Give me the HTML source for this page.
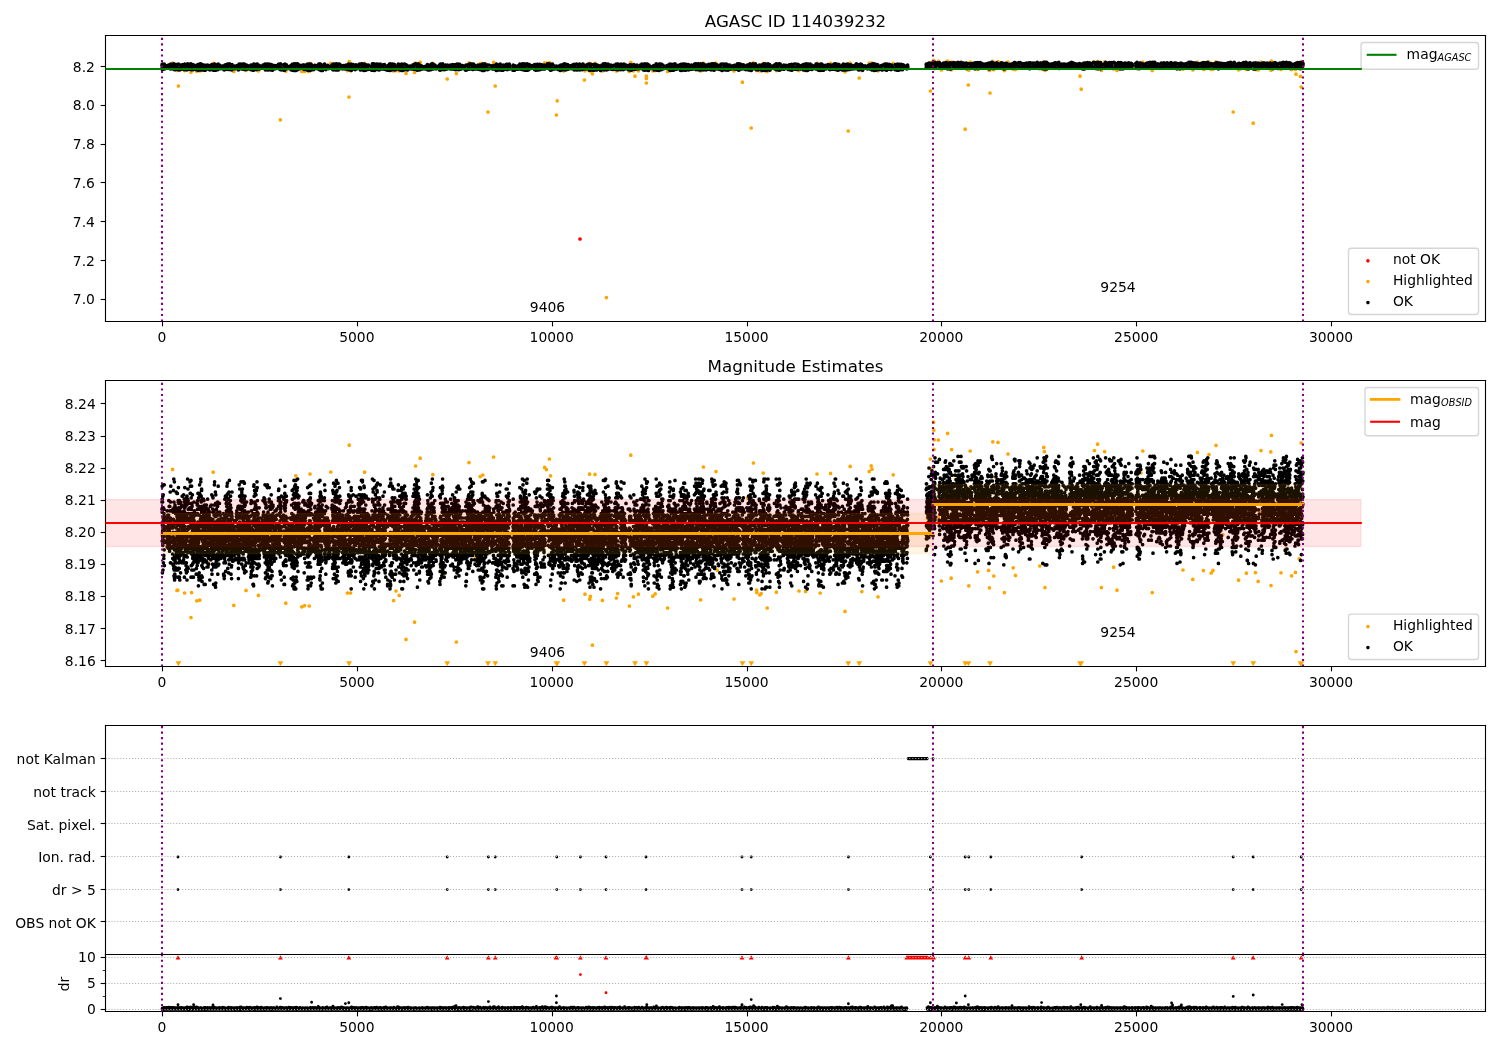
<!DOCTYPE html>
<html><head><meta charset="utf-8"><title>AGASC ID 114039232</title>
<style>html,body{margin:0;padding:0;background:#fff;width:1500px;height:1050px;overflow:hidden}svg{display:block}</style></head><body>
<svg width="1500" height="1050" viewBox="0 0 1080 756">
<defs><clipPath id="c1"><rect x="528" y="178" width="6900" height="1430"/></clipPath><clipPath id="c2"><rect x="528" y="1902" width="6900" height="1430"/></clipPath><clipPath id="c3"><rect x="528" y="3628" width="6900" height="1145"/></clipPath><clipPath id="c4"><rect x="528" y="4772" width="6900" height="285"/></clipPath>
<style type="text/css">*{stroke-linejoin: round; stroke-linecap: butt}</style>
</defs>
<g id="figure_1">
<g id="patch_1">
<path d="M 0 756
L 1080 756
L 1080 0
L 0 0
z
" style="fill: #ffffff"/>
</g>
<g id="axes_1">
<g id="patch_2">
<path d="M 75.96 231.48
L 1069.56 231.48
L 1069.56 25.56
L 75.96 25.56
z
" style="fill: #ffffff"/>
</g>
<g transform="scale(0.1440)"><g clip-path="url(#c1)"><path d="M2900 1195h0" style="stroke:#ff0000;stroke-width:18.5;stroke-linecap:round;fill:none"/></g></g>
<g transform="scale(0.1440)"><g clip-path="url(#c1)"><path d="M863 316h0m22 36h0m4 0h0m3 78h0m31-77h0m32 8h0m3-8h0m26 3h0m15-1h0m67-38h0m103 40h0m61-5h0m62 2h0m110 245h0m27-243h0m50-38h0m30 39h0m14 0h0m23 0h0m4-40h0m104 0h0m83 36h0m8 132h0m1-177h0m7 45h0m70-36h0m145 38h0m12-2h0m16 1h0m34 13h0m43-5h0m5-47h0m23-3h0m63 5h0m52 30h0m20 48h0m46-27h0m63-54h0m56 4h0m13 0h0m26 242h0m28-248h0m8 118h0m247-115h0m9 1h0m15-3h0m6 5h0m29 257h0m4-71h0m32-149h0m104 45h0m3-46h0m23-37h0m1 38h0m3-1h0m10 15h0m13-52h0m37 38h0m20 1133h0m50-1133h0m6-2h0m59 4h0m7-45h0m13 42h0m8 27h0m17-27h0m40 27h0m0 11h0m0 23h0m32-61h0m12-1h0m62 5h0m165-3h0m14-40h0m63 1h0m6 30h0m84 9h0m42 56h0m26-87h0m18 316h0m11-326h0m16 38h0m1 1h0m15 1h0m7-1h0m10-36h0m20 41h0m46-5h0m113 0h0m33 0h0m57-36h0m16 36h0m52-36h0m72 42h0m16 296h0m10-340h0m45 75h0m13-37h0m37-37h0m10-1h0m4 1h0m30 38h0m76-37h0m186-4h0m0 142h0m3-139h0m13-14h0m1 2h0m1 6h0m1-3h0m21 0h0m0 23h0m15 20h0m31-45h0m18 44h0m2-39h0m68 336h0m16-221h0m2-74h0m7-41h0m37 37h0m55-1h0m4 6h0m3 113h0m14-158h0m5 41h0m21-40h0m32 45h0m18-42h0m26 35h0m11 2h0m122-3h0m20-36h0m3 1h0m3 42h0m175 29h0m6 65h0m66-136h0m16-2h0m19 44h0m16-42h0m45 35h0m17 7h0m120-35h0m9-7h0m47 43h0m154-7h0m49 3h0m23-38h0m30 35h0m28-35h0m11 36h0m9-1h0m15-37h0m86 251h0m27-211h0m39-2h0m34 269h0m11-269h0m14 3h0m14-40h0m49 0h0m1 41h0m2-45h0m48 41h0m53 1h0m19-1h0m3 24h0m16-28h0m6 39h0m4-74h0m0 127h0" style="stroke:#ffa500;stroke-width:18.5;stroke-linecap:round;fill:none"/></g></g>
<g transform="scale(0.1440)"><g clip-path="url(#c1)"><path d="M810 326h0m0 2h0m1-7h0m0 16h0m1-5h0m0 15h0m3-27h0m0 26h0m6-26h0m0 11h0m1 14h0m14-17h0m0 11h0m5 1h0m3-15h0m7-2h0m1 21h0m1 0h0m1-23h0m0 12h0m10 11h0m2-15h0m3-10h0m2 18h0m1-17h0m0 28h0m4 0h0m5-25h0m2 23h0m3-9h0m1-14h0m3 25h0m2-27h0m5 27h0m2 1h0m1-7h0m2-16h0m1 21h0m8-23h0m0 11h0m3 9h0m4-21h0m4 15h0m0 10h0m2-27h0m8 26h0m3 2h0m1-23h0m2-7h0m1 11h0m2 11h0m0 5h0m2-10h0m7-16h0m5-1h0m0 29h0m3-7h0m1-12h0m1 19h0m2-25h0m5 25h0m3-22h0m0 11h0m11 11h0m2-14h0m3-8h0m4-3h0m2 28h0m3-11h0m3-20h0m2 29h0m3 0h0m1-30h0m0 9h0m4-6h0m1 20h0m1 8h0m3-25h0m7 0h0m1 26h0m2-16h0m3-8h0m0 24h0m6-24h0m3 18h0m3-20h0m2 20h0m2-16h0m3 10h0m4 10h0m3-22h0m5 9h0m2-13h0m1 25h0m3-4h0m2-20h0m3 27h0m4-31h0m1 0h0m0 13h0m3 18h0m1-28h0m1 28h0m5-15h0m6 12h0m2-27h0m3 23h0m3-18h0m1 11h0m5 6h0m3-13h0m4 12h0m7-13h0m2 19h0m2 1h0m3-24h0m3-1h0m1 23h0m2-8h0m7-19h0m2 26h0m1-6h0m2-9h0m1 16h0m4-28h0m5 10h0m3 19h0m3-7h0m0 8h0m1-20h0m1-6h0m5 21h0m7-13h0m3 12h0m4 0h0m3-14h0m1 7h0m6-9h0m3 22h0m4-29h0m3 17h0m2 6h0m4-23h0m4 24h0m3-16h0m2-8h0m1 25h0m2 1h0m1-26h0m4 0h0m1 27h0m1-17h0m6 17h0m2-14h0m1-7h0m8 3h0m1 15h0m12 4h0m1-22h0m1-1h0m1 9h0m8 17h0m3-15h0m0 15h0m1-30h0m1-1h0m1 28h0m5-25h0m1 11h0m6 14h0m2-28h0m1 1h0m0 25h0m5-17h0m3 15h0m2-17h0m1 18h0m4-15h0m5 10h0m9-15h0m2 15h0m5 2h0m3-22h0m2 29h0m3-14h0m0 13h0m4-27h0m3-1h0m2 30h0m2 0h0m3-13h0m1 11h0m1-27h0m8 28h0m2-26h0m3 14h0m3 14h0m3-24h0m6 17h0m4-16h0m4 15h0m5-15h0m0 12h0m8 0h0m1-18h0m1 0h0m6 9h0m0 16h0m2-28h0m0 29h0m4-9h0m1 10h0m10-25h0m3 27h0m1-3h0m2 3h0m1-16h0m1-14h0m6 24h0m1-21h0m5 17h0m8-8h0m2 10h0m3-13h0m3 6h0m3 13h0m2-22h0m3-5h0m2 29h0m7-32h0m0 33h0m1-13h0m2-7h0m6-13h0m0 33h0m5-2h0m4-31h0m1 11h0m1 7h0m0 10h0m5-23h0m6 17h0m1 1h0m4-14h0m7 13h0m1-15h0m3-1h0m2 0h0m2 22h0m4-17h0m2-4h0m9 16h0m0 7h0m2-28h0m2 31h0m1-27h0m3 26h0m2-30h0m1 14h0m6 16h0m2-31h0m1 14h0m0 16h0m2-24h0m10 22h0m1-18h0m3 13h0m2-16h0m1 0h0m4 2h0m3 13h0m3 0h0m5 2h0m1-19h0m3-5h0m1 14h0m4 15h0m1-30h0m3 32h0m3-27h0m0 28h0m2-15h0m1 7h0m1-19h0m2 27h0m9-17h0m2-15h0m2 21h0m3-4h0m1 11h0m10-21h0m5 16h0m3-10h0m1 8h0m11-14h0m2 10h0m2 9h0m1-24h0m1 12h0m1 15h0m2-29h0m4 28h0m4-28h0m3 30h0m2-16h0m1-15h0m7 17h0m1-16h0m1 30h0m6-29h0m4 22h0m2-18h0m8 5h0m3 14h0m3-16h0m2 15h0m6 1h0m2-17h0m1 17h0m5-18h0m0 18h0m8-10h0m0 13h0m2-27h0m1 28h0m5-15h0m2 5h0m5-17h0m0 31h0m10-29h0m0 10h0m1 12h0m9 3h0m4-24h0m3 14h0m2 5h0m6-18h0m1 6h0m3 12h0m3-22h0m5 29h0m1-10h0m3-21h0m3 9h0m2-9h0m1 21h0m6 12h0m2-31h0m4 13h0m3 17h0m3-27h0m7 20h0m1 3h0m1-13h0m2-9h0m2 21h0m13-16h0m2 8h0m0 13h0m3-32h0m4 24h0m1 7h0m3-31h0m2 33h0m1-22h0m4 19h0m1-14h0m3 11h0m2-26h0m5 0h0m1 26h0m3-12h0m3 16h0m6-30h0m5 13h0m2 12h0m2 0h0m5-21h0m6 9h0m1-10h0m0 23h0m2-5h0m1-12h0m4 19h0m9 3h0m1-13h0m1-10h0m7-7h0m1 21h0m2 10h0m3-33h0m0 32h0m5-19h0m3 16h0m2-27h0m1 12h0m1-11h0m5 0h0m2 27h0m2-25h0m3 8h0m1 16h0m8-12h0m6-16h0m1 25h0m4 2h0m4 3h0m1-19h0m3-9h0m3-1h0m0 17h0m1 14h0m2-30h0m2 30h0m3-30h0m0 15h0m3 13h0m4-29h0m1 26h0m7-23h0m0 1h0m1 10h0m0 13h0m6 1h0m3-3h0m3-15h0m6-1h0m4 0h0m2 15h0m9-21h0m1 12h0m3 10h0m2-24h0m2-2h0m4 5h0m2-6h0m3 29h0m3-10h0m2 13h0m4-32h0m0 17h0m3-15h0m3 4h0m2 24h0m7-18h0m1-2h0m1 16h0m4 0h0m2-12h0m7 0h0m1 10h0m5 2h0m4-15h0m1 15h0m3-9h0m2-13h0m3 27h0m3 0h0m1-23h0m1 17h0m4 5h0m3-25h0m3 12h0m0 12h0m2-28h0m5-1h0m3 2h0m1 8h0m0 16h0m8-20h0m4 14h0m2-8h0m0 12h0m1 1h0m6-11h0m0 8h0m11-17h0m1 16h0m0 10h0m1 1h0m2-30h0m2 28h0m8-17h0m0 15h0m1-28h0m7 19h0m1 10h0m5-1h0m1-22h0m8 9h0m1 10h0m1-18h0m4 16h0m5-14h0m4 6h0m3-9h0m0 20h0m2 0h0m7-1h0m1-21h0m3 16h0m5-15h0m0 22h0m2-22h0m5 13h0m0 11h0m3-25h0m4-2h0m0 26h0m4-10h0m2-16h0m1 1h0m3 26h0m4-26h0m2 6h0m1 18h0m7-3h0m4-15h0m4 15h0m2-11h0m6 8h0m3-12h0m1 23h0m1-25h0m2 24h0m6-25h0m3 21h0m1-22h0m2 13h0m1 9h0m3-25h0m1 24h0m3-26h0m1 20h0m5-19h0m0 23h0m1-20h0m4-3h0m1 27h0m3-27h0m2 13h0m3-7h0m3 18h0m4-15h0m3 5h0m1 11h0m7-20h0m1 21h0m8-20h0m1 9h0m0 13h0m3-23h0m0 23h0m9-28h0m1 32h0m2-11h0m1-21h0m1 10h0m2 22h0m5-28h0m1-5h0m3 23h0m0 6h0m6-11h0m3-12h0m1 23h0m1-23h0m6 0h0m1 19h0m11-15h0m5 15h0m4 0h0m2-16h0m1 16h0m9-12h0m1 16h0m3-28h0m0 32h0m7-28h0m4 18h0m2 8h0m2-20h0m1-7h0m3-3h0m7 18h0m1 13h0m6 0h0m1-25h0m4 12h0m6-5h0m4 13h0m1-24h0m5 0h0m0 26h0m6-10h0m4-18h0m1 5h0m1 3h0m0 13h0m0 4h0m17-11h0m0 12h0m0 5h0m1-26h0m6 19h0m0 7h0m4-22h0m5 3h0m5 14h0m2 0h0m5-18h0m4 16h0m2-23h0m5 13h0m2 12h0m3 1h0m3-28h0m2 29h0m4-14h0m3-15h0m3 32h0m1-14h0m3-15h0m5 29h0m1-31h0m2-1h0m2 32h0m3-20h0m1 18h0m1-7h0m3-19h0m3 21h0m5-16h0m6 12h0m2-12h0m11-5h0m0 11h0m0 14h0m4-25h0m3 28h0m2-5h0m4-24h0m2 0h0m2 11h0m1 17h0m8-28h0m1 26h0m2-8h0m7-10h0m1-6h0m1 21h0m5 0h0m6-20h0m1 20h0m2-9h0m13-17h0m1 8h0m3 15h0m1-23h0m1 13h0m1 12h0m4-23h0m4 30h0m4-15h0m4 12h0m1-27h0m2 25h0m2-21h0m6 20h0m1-3h0m5-10h0m0 11h0m5-12h0m1 12h0m7 4h0m1-7h0m4-10h0m4-2h0m1 24h0m3-26h0m4 24h0m1-9h0m4-17h0m2-1h0m0 25h0m4-12h0m2-17h0m5 31h0m1-29h0m3 1h0m5 25h0m1-10h0m2-14h0m2 23h0m2-1h0m8-16h0m1 0h0m4 14h0m1 0h0m4-16h0m2-1h0m1 17h0m7-21h0m1 1h0m0 26h0m1-19h0m8 9h0m2-18h0m2 29h0m5-27h0m3 7h0m0 18h0m4-3h0m2-24h0m1 28h0m5-15h0m1 13h0m6 1h0m3-27h0m1-1h0m3 16h0m4 8h0m4-17h0m1 18h0m6-15h0m4-7h0m4 22h0m1-24h0m3 29h0m3-29h0m2 30h0m1-20h0m4-9h0m2 18h0m2-17h0m1 27h0m4 1h0m2-28h0m4 28h0m3-16h0m2-13h0m5 1h0m3 27h0m1-19h0m6-4h0m2 19h0m6-16h0m1 13h0m4 9h0m4-3h0m2-23h0m0 10h0m8-17h0m5 30h0m1-12h0m2-18h0m0 12h0m3-12h0m3 30h0m4-14h0m2 13h0m3-27h0m3 9h0m3-6h0m1 20h0m8-18h0m3 20h0m1-10h0m5 11h0m3-19h0m7-2h0m0 20h0m7-26h0m2 14h0m2 14h0m2-27h0m2 27h0m2-27h0m0 19h0m3-10h0m0 17h0m9 1h0m3-28h0m1 10h0m1 4h0m8 14h0m4-28h0m4 24h0m1-12h0m3 11h0m2-17h0m10 8h0m1-6h0m0 20h0m9-24h0m0 25h0m5-25h0m0 14h0m1 13h0m11-5h0m2-23h0m1 11h0m2 12h0m3-19h0m3 19h0m7-21h0m0 6h0m6 13h0m9-7h0m2-12h0m0 17h0m6-3h0m1-18h0m2 22h0m4-4h0m2-17h0m0 26h0m1-6h0m0 8h0m6 1h0m1-32h0m1 12h0m6 18h0m1-29h0m4 0h0m0 14h0m5 18h0m3-27h0m3 19h0m3-12h0m3 10h0m8-1h0m5-12h0m2-1h0m2 22h0m5-16h0m5-15h0m0 29h0m5 3h0m2-17h0m2 14h0m5 4h0m1-32h0m2 0h0m3 15h0m5-15h0m1 28h0m6-4h0m1-19h0m5 18h0m2-13h0m9 11h0m1-11h0m3 11h0m5-14h0m5-2h0m2 23h0m3-28h0m0 14h0m2 18h0m6-30h0m0 12h0m4 17h0m1-2h0m5-27h0m0 29h0m1-13h0m3-10h0m4-9h0m0 28h0m7-1h0m4-10h0m2 6h0m2-15h0m9-2h0m3-2h0m0 28h0m3-14h0m1-15h0m1 30h0m7-2h0m1-29h0m4-1h0m1 14h0m3-14h0m1 31h0m4 0h0m1-12h0m2-17h0m0 28h0m7-16h0m3-11h0m3 26h0m3-18h0m3-4h0m7 11h0m1-13h0m0 21h0m9-2h0m2-7h0m3-14h0m1-2h0m5-2h0m1 11h0m0 12h0m1 6h0m2-27h0m7 0h0m1 27h0m3-29h0m0 18h0m4 13h0m4 0h0m1-17h0m2-14h0m5 29h0m3-12h0m1-17h0m3 30h0m4-27h0m0 26h0m2-24h0m1 9h0m1 15h0m7 1h0m2-12h0m1-11h0m9 20h0m1-24h0m3 10h0m1 14h0m2-24h0m1 7h0m2 12h0m2 8h0m3-1h0m1-29h0m4 0h0m1 19h0m3-8h0m3 21h0m1-32h0m5 1h0m4 18h0m2-15h0m0 20h0m9 1h0m1-16h0m7 19h0m1-21h0m0 11h0m2-5h0m4-11h0m4 31h0m3-3h0m2-29h0m4 19h0m1-19h0m1 9h0m5 20h0m4-29h0m4 2h0m0 28h0m1-10h0m2-6h0m2 17h0m5-26h0m0 23h0m5-22h0m1 20h0m1-12h0m6 10h0m7-15h0m7 16h0m1-18h0m1 5h0m4 12h0m2-19h0m6 2h0m0 19h0m2-27h0m0 1h0m0 20h0m6-21h0m1 32h0m5-31h0m0 14h0m3-14h0m0 25h0m8-1h0m2-19h0m1 18h0m4-19h0m2 10h0m1 10h0m3 1h0m3-6h0m3 9h0m5-21h0m2 20h0m2-4h0m5-19h0m1 26h0m4-13h0m0 13h0m2-31h0m6 10h0m0 23h0m4-4h0m1-5h0m2-9h0m1-15h0m12 14h0m1-14h0m1 26h0m3-18h0m1 21h0m8 1h0m1-17h0m6-7h0m4 20h0m4-8h0m2-11h0m3 26h0m5-29h0m5-4h0m0 18h0m1-3h0m4-9h0m0 27h0m1-33h0m7 32h0m4-11h0m3-21h0m0 12h0m3 11h0m5-19h0m1 28h0m1-1h0m3-19h0m8 0h0m0 10h0m8-4h0m2 6h0m1-17h0m9-7h0m1 29h0m3-18h0m1 9h0m1-19h0m4 0h0m1 7h0m1 23h0m4-31h0m0 32h0m4-31h0m1 28h0m2-15h0m0 11h0m1-3h0m11-11h0m2 16h0m1-21h0m1 21h0m6-5h0m4-14h0m2 1h0m0 13h0m9 6h0m1-19h0m1 16h0m3-20h0m4 0h0m3 5h0m0 21h0m5-28h0m1 1h0m0 28h0m1-15h0m6-13h0m2 22h0m5-25h0m0 18h0m4-18h0m0 26h0m10 1h0m1-17h0m1-8h0m0 22h0m5-19h0m6 14h0m3 6h0m3-17h0m4 7h0m6-12h0m2 27h0m1-22h0m1 12h0m3-18h0m5 29h0m1-10h0m2-22h0m1 8h0m4-7h0m0 32h0m3-1h0m2-19h0m4-12h0m4 26h0m2-26h0m4 17h0m3-11h0m1 21h0m4-18h0m4 1h0m0 12h0m12 2h0m1-23h0m3 13h0m0 11h0m4-25h0m3 2h0m1 27h0m3 2h0m3-1h0m3-14h0m1-14h0m0 19h0m3 9h0m1-29h0m2 30h0m2-30h0m0 30h0m1-22h0m1-6h0m6 28h0m1-13h0m4-10h0m2 16h0m5-17h0m1 17h0m3-1h0m1-4h0m6-16h0m2 20h0m4-18h0m1 21h0m2 2h0m4-23h0m1 22h0m1-15h0m11-8h0m1 22h0m2-12h0m1-14h0m6-1h0m2 0h0m1 29h0m1-11h0m2 10h0m4-20h0m4-5h0m0 29h0m3-17h0m2-11h0m1 25h0m4-2h0m8-14h0m4 18h0m2-26h0m1 11h0m2-15h0m2 30h0m4 0h0m3-13h0m1-14h0m3 19h0m0 7h0m6-29h0m4 28h0m2-26h0m0 9h0m5 16h0m6-10h0m1-13h0m3 1h0m3 20h0m2-16h0m7 14h0m3-15h0m2 15h0m2-16h0m5 16h0m1-24h0m0 21h0m7-11h0m4 20h0m3-26h0m0 26h0m4-8h0m4-21h0m3 2h0m4 8h0m2-2h0m0 23h0m2-13h0m4 5h0m6-14h0m0 12h0m8-6h0m4 9h0m4-16h0m2 7h0m5-11h0m0 20h0m8-21h0m3 18h0m1-10h0m0 19h0m2-31h0m3 0h0m5 0h0m2 10h0m0 23h0m4-15h0m2-15h0m2 29h0m7-28h0m1 24h0m1-17h0m1-4h0m4 22h0m4-11h0m9-9h0m2 21h0m2-5h0m1 5h0m1-23h0m8 21h0m3-27h0m3 17h0m2-17h0m4 4h0m0 27h0m1-31h0m2 0h0m5 19h0m3 7h0m2-24h0m2 9h0m1-8h0m3 23h0m3 2h0m4-22h0m2 7h0m2 10h0m8-3h0m4 8h0m2-25h0m1 19h0m8 9h0m1-14h0m1-16h0m1 20h0m5 10h0m1-1h0m2-28h0m0 6h0m9-6h0m1 16h0m2 10h0m2-24h0m2 24h0m3-24h0m4 17h0m2-12h0m11 0h0m1 15h0m3-1h0m1-18h0m0 5h0m1 3h0m0 4h0m92-15h0m0 18h0m1-20h0m0 13h0m0 4h0m0 3h0m1-20h0m5 19h0m5-17h0m1 14h0m1-21h0m7 20h0m6-7h0m2-12h0m1 19h0m4 1h0m2-9h0m1-12h0m5 27h0m2-30h0m2 13h0m1 14h0m9-14h0m1-11h0m8 17h0m1-18h0m1 15h0m0 7h0m14-16h0m0 14h0m5-8h0m1-9h0m1 23h0m7-25h0m2-1h0m1 18h0m1 9h0m2-25h0m4 8h0m2 21h0m1-29h0m8 17h0m2-18h0m2 0h0m0 31h0m2 0h0m2-1h0m4-21h0m1-8h0m6 16h0m2 8h0m1-26h0m3 26h0m2-13h0m4-10h0m0 19h0m8-12h0m2 12h0m2-23h0m3 24h0m4-22h0m3 8h0m1 18h0m4-28h0m1 11h0m0 17h0m5-25h0m6 15h0m1-15h0m1 21h0m6 5h0m3-15h0m3-11h0m1 28h0m3-14h0m5-11h0m0 18h0m7-1h0m1 1h0m3-17h0m0 17h0m6-1h0m3-17h0m1 0h0m1 16h0m10-19h0m0 13h0m3 16h0m3-30h0m4 0h0m2 17h0m2-17h0m4-1h0m2 30h0m1-17h0m1-12h0m7-1h0m3 21h0m3-16h0m4 0h0m1 14h0m9-10h0m0 10h0m6-11h0m3 19h0m3 0h0m1-21h0m1 12h0m4-13h0m5-2h0m1 28h0m2-28h0m3 10h0m1-10h0m4 26h0m3-30h0m4 1h0m0 6h0m3 14h0m3-18h0m0 27h0m1-14h0m14-14h0m0 5h0m0 15h0m8-15h0m1 14h0m13-8h0m1-11h0m0 25h0m6-24h0m6 17h0m1 13h0m2-27h0m4 12h0m1 12h0m4-25h0m1 25h0m3-24h0m3 14h0m2 7h0m5-2h0m5-1h0m1-14h0m2 0h0m7 13h0m5-17h0m1 22h0m3-12h0m4-15h0m3 0h0m4 2h0m1 22h0m1-15h0m12 8h0m0 11h0m1-28h0m5 1h0m2-1h0m2 27h0m5-22h0m2 11h0m2 9h0m4-20h0m2 21h0m2-16h0m3-5h0m7 17h0m3-19h0m4 14h0m0 6h0m5 3h0m3-25h0m2 14h0m0 15h0m3-29h0m0 29h0m5-28h0m1 24h0m6 1h0m3-25h0m0 11h0m6-11h0m4 3h0m1 18h0m5 0h0m3-11h0m2-13h0m3 10h0m1 12h0m9-2h0m2-17h0m2 0h0m2 19h0m6-19h0m2 11h0m1 18h0m2-30h0m4-2h0m2 1h0m3 22h0m0 10h0m4-33h0m1 9h0m3-9h0m1 33h0m2-18h0m1-12h0m7 23h0m6-17h0m0 16h0m6-16h0m2 13h0m5-15h0m5 15h0m4-19h0m1 21h0m4-22h0m2 0h0m0 9h0m6 17h0m5-26h0m3 16h0m1-18h0m3 30h0m4-16h0m6 14h0m3-20h0m2 20h0m3-7h0m1-12h0m6 0h0m1 15h0m7-14h0m0 14h0m9-15h0m0 14h0m9-18h0m0 22h0m2-24h0m2 10h0m1-11h0m4-2h0m3 29h0m2-18h0m3-9h0m2 23h0m5-19h0m5 17h0m2-14h0m8-1h0m4 14h0m7-16h0m3 1h0m1 16h0m11-16h0m0 25h0m1-16h0m4 16h0m1-29h0m4 29h0m2-29h0m2 0h0m2 16h0m5 9h0m3-27h0m2 26h0m3-17h0m4 13h0m1-21h0m4 21h0m4 0h0m1-17h0m0 6h0m9 13h0m2-25h0m8 12h0m1-10h0m2 28h0m5-28h0m4 21h0m2-23h0m0 32h0m1-21h0m7 5h0m2-15h0m2 30h0m2-30h0m2 30h0m1-8h0m5-13h0m11 19h0m2-12h0m2-14h0m2-3h0m7 27h0m2-23h0m3 9h0m5 13h0m3-25h0m8 28h0m1-15h0m1-13h0m9 27h0m2-28h0m4 2h0m2 8h0m0 10h0m2 7h0m7-21h0m1 18h0m7-23h0m0 16h0m2 6h0m2-14h0m3-7h0m2 31h0m4-32h0m4 17h0m6 14h0m3-21h0m3-6h0m2 22h0m3-24h0m3 16h0m3-14h0m1 23h0m6-13h0m4 11h0m1-24h0m7 10h0m3 11h0m2-18h0m5 3h0m0 11h0m1-3h0m17-11h0m0 11h0m1-11h0m0 18h0m5-23h0m1 30h0m4-12h0m5 13h0m1-26h0m1 26h0m3-28h0m1 10h0m0 16h0m1-26h0m11 24h0m1-20h0m4 5h0m1 12h0m4-1h0m4-15h0m1 13h0m5 1h0m2-19h0m7-1h0m1 23h0m2-8h0m5-17h0m5 24h0m1-13h0m1 14h0m5-25h0m3 29h0m2-17h0m4-12h0m2 20h0m1-20h0m5 12h0m4 14h0m2 0h0m4-19h0m3 18h0m8-3h0m1 4h0m2-18h0m2 18h0m1-22h0m3 1h0m2 3h0m1 19h0m7-25h0m0 14h0m3 7h0m6-18h0m0 22h0m5 2h0m2-15h0m1-12h0m2 25h0m9-2h0m1-19h0m4 21h0m1-16h0m2-10h0m4 4h0m3 18h0m6-6h0m4-13h0m4 8h0m1 17h0m2-26h0m4 20h0m2 9h0m3-26h0m2 23h0m3-22h0m6 11h0m1 14h0m1-22h0m3-7h0m1 26h0m6-23h0m2 17h0m5-2h0m3-12h0m2 12h0m6-1h0m2-14h0m3 12h0m4-13h0m6-5h0m1 25h0m6-25h0m1 13h0m1 13h0m4-26h0m8 2h0m0 25h0m2-10h0m1 13h0m4-27h0m6 15h0m1-15h0m5 22h0m3 1h0m2-20h0m0 11h0m4 7h0m7 0h0m1-18h0m7-1h0m4-2h0m1 10h0m0 11h0m3-22h0m4-1h0m3 29h0m2-8h0m4 6h0m1-17h0m3-10h0m5 13h0m1-14h0m2 25h0m2-18h0m2 16h0m11-17h0m0 11h0m10 2h0m1-11h0m4 15h0m4-18h0m2 24h0m4-27h0m4 14h0m1-14h0m5 1h0m1 29h0m3-12h0m1 8h0m2-25h0m3 15h0m7-13h0m0 22h0m4-1h0m4-15h0m4-5h0m3 14h0m5 2h0m3-16h0m10-4h0m0 11h0m0 11h0m8-1h0m2-11h0m2-12h0m5 3h0m3 26h0m1-14h0m1 14h0m1-26h0m3 24h0m4-27h0m8 8h0m0 8h0m0 13h0m4-2h0m4-19h0m2 16h0m4-18h0m1-1h0m3 15h0m1-14h0m6 1h0m0 23h0m5-24h0m1 8h0m8-13h0m1 22h0m4-21h0m2 6h0m4-8h0m0 28h0m1-28h0m3 19h0m3 12h0m4-26h0m3 27h0m4-29h0m1 13h0m3-14h0m0 24h0m13-12h0m3 18h0m1-29h0m6 15h0m3 15h0m1-31h0m0 17h0m1-13h0m2 24h0m10-26h0m2 14h0m1-13h0m1 23h0m1-22h0m11 21h0m2-22h0m1 9h0m1 15h0m1-25h0m7 0h0m2 0h0m0 21h0m2-12h0m2-8h0m7 19h0m3-20h0m4 15h0m2 2h0m1-16h0m4 11h0m1 8h0m4-20h0m2 1h0m3 8h0m4 17h0m6 1h0m2-28h0m0 11h0m6-13h0m2 13h0m3-11h0m0 24h0m9-7h0m1 10h0m4-24h0m6-3h0m1 23h0m6-12h0m3-12h0m2 23h0m4-8h0m2-17h0m9 28h0m3-27h0m0 18h0m1-12h0m1 22h0m1-29h0m3 28h0m3-26h0m5 13h0m1-13h0m1 27h0m4-27h0m1 28h0m2-26h0m1 13h0m7 8h0m3-15h0m3 0h0m9 17h0m2-21h0m3 9h0m1 9h0m1-21h0m6-2h0m1 25h0m4 1h0m1-18h0m1-7h0m6-1h0m2 1h0m0 29h0m2-14h0m2 13h0m5-30h0m0 25h0m1-5h0m2-15h0m0 7h0m0 2h0" style="stroke:#000000;stroke-width:18.5;stroke-linecap:round;fill:none"/></g></g>
<g id="matplotlib.axis_1">
<g id="xtick_1">
<g id="line2d_1">
<defs>
<path id="m1504cfccaf" d="M 0 0
L 0 3.5
" style="stroke: #000000; stroke-width: 0.8"/>
</defs>
<g>
<use href="#m1504cfccaf" x="117.0000" y="231.48" style="stroke: #000000; stroke-width: 0.8"/>
</g>
</g>
<g id="text_1">
<text style="font-size: 10px; font-family: 'DejaVu Sans', 'Liberation Sans', sans-serif; text-anchor: middle" x="116.64" y="246.078438" transform="rotate(-0 116.64 246.078438)">0</text>
</g>
</g>
<g id="xtick_2">
<g id="line2d_2">
<g>
<use href="#m1504cfccaf" x="257.4000" y="231.48" style="stroke: #000000; stroke-width: 0.8"/>
</g>
</g>
<g id="text_2">
<text style="font-size: 10px; font-family: 'DejaVu Sans', 'Liberation Sans', sans-serif; text-anchor: middle" x="256.92" y="246.078438" transform="rotate(-0 256.92 246.078438)">5000</text>
</g>
</g>
<g id="xtick_3">
<g id="line2d_3">
<g>
<use href="#m1504cfccaf" x="397.8000" y="231.48" style="stroke: #000000; stroke-width: 0.8"/>
</g>
</g>
<g id="text_3">
<text style="font-size: 10px; font-family: 'DejaVu Sans', 'Liberation Sans', sans-serif; text-anchor: middle" x="397.2" y="246.078438" transform="rotate(-0 397.2 246.078438)">10000</text>
</g>
</g>
<g id="xtick_4">
<g id="line2d_4">
<g>
<use href="#m1504cfccaf" x="538.2000" y="231.48" style="stroke: #000000; stroke-width: 0.8"/>
</g>
</g>
<g id="text_4">
<text style="font-size: 10px; font-family: 'DejaVu Sans', 'Liberation Sans', sans-serif; text-anchor: middle" x="537.48" y="246.078438" transform="rotate(-0 537.48 246.078438)">15000</text>
</g>
</g>
<g id="xtick_5">
<g id="line2d_5">
<g>
<use href="#m1504cfccaf" x="677.8800" y="231.48" style="stroke: #000000; stroke-width: 0.8"/>
</g>
</g>
<g id="text_5">
<text style="font-size: 10px; font-family: 'DejaVu Sans', 'Liberation Sans', sans-serif; text-anchor: middle" x="677.76" y="246.078438" transform="rotate(-0 677.76 246.078438)">20000</text>
</g>
</g>
<g id="xtick_6">
<g id="line2d_6">
<g>
<use href="#m1504cfccaf" x="818.2800" y="231.48" style="stroke: #000000; stroke-width: 0.8"/>
</g>
</g>
<g id="text_6">
<text style="font-size: 10px; font-family: 'DejaVu Sans', 'Liberation Sans', sans-serif; text-anchor: middle" x="818.04" y="246.078438" transform="rotate(-0 818.04 246.078438)">25000</text>
</g>
</g>
<g id="xtick_7">
<g id="line2d_7">
<g>
<use href="#m1504cfccaf" x="958.6800" y="231.48" style="stroke: #000000; stroke-width: 0.8"/>
</g>
</g>
<g id="text_7">
<text style="font-size: 10px; font-family: 'DejaVu Sans', 'Liberation Sans', sans-serif; text-anchor: middle" x="958.32" y="246.078438" transform="rotate(-0 958.32 246.078438)">30000</text>
</g>
</g>
</g>
<g id="matplotlib.axis_2">
<g id="ytick_1">
<g id="line2d_8">
<defs>
<path id="m5d545ce8f8" d="M 0 0
L -3.5 0
" style="stroke: #000000; stroke-width: 0.8"/>
</defs>
<g>
<use href="#m5d545ce8f8" x="75.96" y="215.6400" style="stroke: #000000; stroke-width: 0.8"/>
</g>
</g>
<g id="text_8">
<text style="font-size: 10px; font-family: 'DejaVu Sans', 'Liberation Sans', sans-serif; text-anchor: end" x="68.348" y="219.173" transform="rotate(-0 68.348 219.173)">7.0</text>
</g>
</g>
<g id="ytick_2">
<g id="line2d_9">
<g>
<use href="#m5d545ce8f8" x="75.96" y="187.5600" style="stroke: #000000; stroke-width: 0.8"/>
</g>
</g>
<g id="text_9">
<text style="font-size: 10px; font-family: 'DejaVu Sans', 'Liberation Sans', sans-serif; text-anchor: end" x="68.348" y="191.213" transform="rotate(-0 68.348 191.213)">7.2</text>
</g>
</g>
<g id="ytick_3">
<g id="line2d_10">
<g>
<use href="#m5d545ce8f8" x="75.96" y="159.4800" style="stroke: #000000; stroke-width: 0.8"/>
</g>
</g>
<g id="text_10">
<text style="font-size: 10px; font-family: 'DejaVu Sans', 'Liberation Sans', sans-serif; text-anchor: end" x="68.348" y="163.253" transform="rotate(-0 68.348 163.253)">7.4</text>
</g>
</g>
<g id="ytick_4">
<g id="line2d_11">
<g>
<use href="#m5d545ce8f8" x="75.96" y="131.4000" style="stroke: #000000; stroke-width: 0.8"/>
</g>
</g>
<g id="text_11">
<text style="font-size: 10px; font-family: 'DejaVu Sans', 'Liberation Sans', sans-serif; text-anchor: end" x="68.348" y="135.293" transform="rotate(-0 68.348 135.293)">7.6</text>
</g>
</g>
<g id="ytick_5">
<g id="line2d_12">
<g>
<use href="#m5d545ce8f8" x="75.96" y="104.0400" style="stroke: #000000; stroke-width: 0.8"/>
</g>
</g>
<g id="text_12">
<text style="font-size: 10px; font-family: 'DejaVu Sans', 'Liberation Sans', sans-serif; text-anchor: end" x="68.348" y="107.333" transform="rotate(-0 68.348 107.333)">7.8</text>
</g>
</g>
<g id="ytick_6">
<g id="line2d_13">
<g>
<use href="#m5d545ce8f8" x="75.96" y="75.9600" style="stroke: #000000; stroke-width: 0.8"/>
</g>
</g>
<g id="text_13">
<text style="font-size: 10px; font-family: 'DejaVu Sans', 'Liberation Sans', sans-serif; text-anchor: end" x="68.348" y="79.373" transform="rotate(-0 68.348 79.373)">8.0</text>
</g>
</g>
<g id="ytick_7">
<g id="line2d_14">
<g>
<use href="#m5d545ce8f8" x="75.96" y="47.8800" style="stroke: #000000; stroke-width: 0.8"/>
</g>
</g>
<g id="text_14">
<text style="font-size: 10px; font-family: 'DejaVu Sans', 'Liberation Sans', sans-serif; text-anchor: end" x="68.348" y="52.039" transform="rotate(-0 68.348 52.039)">8.2</text>
</g>
</g>
</g>
<g id="patch_3">
<path d="M 75.96 231.48
L 75.96 25.56
" style="fill: none; stroke: #000000; stroke-width: 0.8; stroke-linejoin: miter; stroke-linecap: square"/>
</g>
<g id="patch_4">
<path d="M 1069.56 231.48
L 1069.56 25.56
" style="fill: none; stroke: #000000; stroke-width: 0.8; stroke-linejoin: miter; stroke-linecap: square"/>
</g>
<g id="patch_5">
<path d="M 75.96 231.48
L 1069.56 231.48
" style="fill: none; stroke: #000000; stroke-width: 0.8; stroke-linejoin: miter; stroke-linecap: square"/>
</g>
<g id="patch_6">
<path d="M 75.96 25.56
L 1069.56 25.56
" style="fill: none; stroke: #000000; stroke-width: 0.8; stroke-linejoin: miter; stroke-linecap: square"/>
</g>
<g id="text_15">
<text style="font-size: 10px; font-family: 'DejaVu Sans', 'Liberation Sans', sans-serif; text-anchor: middle" x="394.2" y="224.532" transform="rotate(-0 394.2 224.532)">9406</text>
</g>
<g id="text_16">
<text style="font-size: 10px; font-family: 'DejaVu Sans', 'Liberation Sans', sans-serif; text-anchor: middle" x="804.96" y="210.096" transform="rotate(-0 804.96 210.096)">9254</text>
</g>
<g id="text_17">
<text style="font-size: 12px; font-family: 'DejaVu Sans', 'Liberation Sans', sans-serif; text-anchor: middle" x="572.76" y="19.56" transform="rotate(-0 572.76 19.56)">AGASC ID 114039232</text>
</g>
<g id="legend_1">
<g id="patch_7">
<path d="M 981.96 49.858438
L 1062.56 49.858438
Q 1064.56 49.858438 1064.56 47.858438
L 1064.56 32.56
Q 1064.56 30.56 1062.56 30.56
L 981.96 30.56
Q 979.96 30.56 979.96 32.56
L 979.96 47.858438
Q 979.96 49.858438 981.96 49.858438
z
" style="fill: #ffffff; opacity: 0.8; stroke: #cccccc; stroke-linejoin: miter"/>
</g>
<g id="line2d_15">
<path d="M 984.76 39.458438
L 994.76 39.458438
L 1004.76 39.458438
" style="fill: none; stroke: #008000; stroke-width: 1.5; stroke-linecap: square"/>
</g>
<g id="text_18">
<g transform="translate(1012.76 42.958438)">
<text>
<tspan x="0" y="-0.40625" style="font-size: 10px; font-family: 'DejaVu Sans', 'Liberation Sans', sans-serif">m</tspan>
<tspan x="9.741211" y="-0.40625" style="font-size: 10px; font-family: 'DejaVu Sans', 'Liberation Sans', sans-serif">a</tspan>
<tspan x="15.869141" y="-0.40625" style="font-size: 10px; font-family: 'DejaVu Sans', 'Liberation Sans', sans-serif">g</tspan>
<tspan x="22.3125" y="1.234375" style="font-style: oblique; font-size: 7px; font-family: 'DejaVu Sans', 'Liberation Sans', sans-serif">A</tspan>
<tspan x="27.101074" y="1.234375" style="font-style: oblique; font-size: 7px; font-family: 'DejaVu Sans', 'Liberation Sans', sans-serif">G</tspan>
<tspan x="32.525391" y="1.234375" style="font-style: oblique; font-size: 7px; font-family: 'DejaVu Sans', 'Liberation Sans', sans-serif">A</tspan>
<tspan x="37.313965" y="1.234375" style="font-style: oblique; font-size: 7px; font-family: 'DejaVu Sans', 'Liberation Sans', sans-serif">S</tspan>
<tspan x="41.757324" y="1.234375" style="font-style: oblique; font-size: 7px; font-family: 'DejaVu Sans', 'Liberation Sans', sans-serif">C</tspan>
</text>
</g>
</g>
</g>
<g id="legend_2">
<g id="patch_8">
<path d="M 972.911563 226.48
L 1062.56 226.48
Q 1064.56 226.48 1064.56 224.48
L 1064.56 180.725625
Q 1064.56 178.725625 1062.56 178.725625
L 972.911563 178.725625
Q 970.911563 178.725625 970.911563 180.725625
L 970.911563 224.48
Q 970.911563 226.48 972.911563 226.48
z
" style="fill: #ffffff; opacity: 0.8; stroke: #cccccc; stroke-linejoin: miter"/>
</g>
<g id="PathCollection_1">
<defs>
<path id="m39b78552c8" d="M 0 0.74162
C 0.19668 0.74162 0.385331 0.663478 0.524404 0.524404
C 0.663478 0.385331 0.74162 0.19668 0.74162 0
C 0.74162 -0.19668 0.663478 -0.385331 0.524404 -0.524404
C 0.385331 -0.663478 0.19668 -0.74162 0 -0.74162
C -0.19668 -0.74162 -0.385331 -0.663478 -0.524404 -0.524404
C -0.663478 -0.385331 -0.74162 -0.19668 -0.74162 0
C -0.74162 0.19668 -0.663478 0.385331 -0.524404 0.524404
C -0.385331 0.663478 -0.19668 0.74162 0 0.74162
z
" style="stroke: #ff0000"/>
</defs>
<g>
<use href="#m39b78552c8" x="984.911563" y="187.699062" style="fill: #ff0000; stroke: #ff0000"/>
</g>
</g>
<g id="text_19">
<text style="font-size: 10px; font-family: 'DejaVu Sans', 'Liberation Sans', sans-serif; text-anchor: start" x="1002.911563" y="190.324062" transform="rotate(-0 1002.911563 190.324062)">not OK</text>
</g>
<g id="PathCollection_2">
<defs>
<path id="mf4ef88f435" d="M 0 0.74162
C 0.19668 0.74162 0.385331 0.663478 0.524404 0.524404
C 0.663478 0.385331 0.74162 0.19668 0.74162 0
C 0.74162 -0.19668 0.663478 -0.385331 0.524404 -0.524404
C 0.385331 -0.663478 0.19668 -0.74162 0 -0.74162
C -0.19668 -0.74162 -0.385331 -0.663478 -0.524404 -0.524404
C -0.663478 -0.385331 -0.74162 -0.19668 -0.74162 0
C -0.74162 0.19668 -0.663478 0.385331 -0.524404 0.524404
C -0.385331 0.663478 -0.19668 0.74162 0 0.74162
z
" style="stroke: #ffa500"/>
</defs>
<g>
<use href="#mf4ef88f435" x="984.911563" y="202.737188" style="fill: #ffa500; stroke: #ffa500"/>
</g>
</g>
<g id="text_20">
<text style="font-size: 10px; font-family: 'DejaVu Sans', 'Liberation Sans', sans-serif; text-anchor: start" x="1002.911563" y="205.362188" transform="rotate(-0 1002.911563 205.362188)">Highlighted</text>
</g>
<g id="PathCollection_3">
<defs>
<path id="mc9ae42cd01" d="M 0 0.74162
C 0.19668 0.74162 0.385331 0.663478 0.524404 0.524404
C 0.663478 0.385331 0.74162 0.19668 0.74162 0
C 0.74162 -0.19668 0.663478 -0.385331 0.524404 -0.524404
C 0.385331 -0.663478 0.19668 -0.74162 0 -0.74162
C -0.19668 -0.74162 -0.385331 -0.663478 -0.524404 -0.524404
C -0.663478 -0.385331 -0.74162 -0.19668 -0.74162 0
C -0.74162 0.19668 -0.663478 0.385331 -0.524404 0.524404
C -0.385331 0.663478 -0.19668 0.74162 0 0.74162
z
" style="stroke: #000000"/>
</defs>
<g>
<use href="#mc9ae42cd01" x="984.911563" y="217.775312" style="stroke: #000000"/>
</g>
</g>
<g id="text_21">
<text style="font-size: 10px; font-family: 'DejaVu Sans', 'Liberation Sans', sans-serif; text-anchor: start" x="1002.911563" y="220.400312" transform="rotate(-0 1002.911563 220.400312)">OK</text>
</g>
</g>
<g id="line2d_16">
<path d="M 73.1544 49.68
L 979.776 49.68
" clip-path="url(#p38504ecff0)" style="fill: none; stroke: #008000; stroke-width: 1.5; stroke-linecap: square"/>
</g>
<g id="line2d_17">
<path d="M 116.6400 231.48
L 116.6400 25.56
" clip-path="url(#p38504ecff0)" style="fill: none; stroke-dasharray: 1.5,2.475; stroke-dashoffset: 0; stroke: #800080; stroke-width: 1.5"/>
</g>
<g id="line2d_18">
<path d="M 671.7600 231.48
L 671.7600 25.56
" clip-path="url(#p38504ecff0)" style="fill: none; stroke-dasharray: 1.5,2.475; stroke-dashoffset: 0; stroke: #800080; stroke-width: 1.5"/>
</g>
<g id="line2d_19">
<path d="M 938.1600 231.48
L 938.1600 25.56
" clip-path="url(#p38504ecff0)" style="fill: none; stroke-dasharray: 1.5,2.475; stroke-dashoffset: 0; stroke: #800080; stroke-width: 1.5"/>
</g>
</g>
<g id="axes_2">
<g id="patch_9">
<path d="M 75.96 479.88
L 1069.56 479.88
L 1069.56 273.96
L 75.96 273.96
z
" style="fill: #ffffff"/>
</g>
<g transform="scale(0.1440)"><g clip-path="url(#c2)"><path d="M863 2347h0m22 605h0m4-1h0m34 14h0m32 123h0m3-125h0m26 41h0m15-3h0m44-186h0m23-454h0m103 666h0m61-75h0m62 25h0m137 39h0m50-637h0m30 655h0m14-6h0m23 2h0m4-660h0m104-10h0m83 605h0m9-739h0m7 739h0m70-604h0m78 399h0m67 243h0m12-48h0m16 22h0m34 220h0m43-86h0m5-781h0m23-39h0m63 82h0m38 456h0m14 40h0m66 341h0m63-897h0m32 472h0m24-402h0m13-8h0m54-90h0m2 364h0m8 33h0m0 118h0m72-128h0m173-335h0m9 11h0m15-53h0m6 84h0m65 622h0m28-376h0m44 145h0m35 201h0m23-600h0m1 625h0m3-14h0m10 244h0m13-854h0m37 630h0m70-12h0m6-22h0m59 62h0m7-754h0m13 708h0m25-13h0m72 10h0m12-12h0m13-358h0m49 429h0m19-423h0m9 93h0m137 289h0m14-664h0m63 23h0m6 493h0m84 144h0m68-506h0m29-174h0m16 636h0m1 12h0m15 12h0m7-7h0m10-603h0m20 675h0m46-79h0m11-286h0m67-130h0m35 410h0m33 2h0m57-587h0m16 595h0m52-598h0m72 690h0m26-725h0m58 626h0m37-600h0m10-29h0m4 17h0m30 638h0m76-610h0m70 273h0m101-56h0m15-296h0m3 48h0m13-232h0m1 40h0m1 96h0m1-48h0m21 1h0m0 386h0m15 319h0m31-738h0m18 724h0m2-643h0m19 150h0m67 531h0m2-488h0m5-186h0m29 276h0m8 328h0m55-7h0m4 87h0m17-730h0m5 671h0m9-494h0m12-174h0m32 751h0m18-693h0m26 569h0m11 38h0m16-449h0m106 402h0m20-593h0m3 21h0m3 680h0m199-599h0m48-86h0m2 293h0m14-325h0m19 717h0m16-680h0m45 578h0m17 115h0m120-587h0m9-109h0m47 708h0m125-487h0m23-14h0m4 211h0m2 177h0m49 47h0m23-635h0m30 591h0m28-580h0m11 592h0m9-13h0m0 1h0m15-626h0m34 447h0m79 227h0m39-35h0m45-3h0m14 44h0m10-347h0m4-307h0m19 174h0m30-168h0m1 669h0m2-751h0m22 370h0m26 317h0m22-119h0m31 134h0m19-17h0m3 396h0m16-464h0m10-579h0" style="stroke:#ffa500;stroke-width:18.5;stroke-linecap:round;fill:none"/><path d="M878 3306h29l-15 25zM1388 3306h29l-15 25zM1731 3306h29l-15 25zM2222 3306h29l-15 25zM2426 3306h29l-15 25zM2462 3306h29l-15 25zM2772 3306h29l-15 25zM2768 3306h29l-15 25zM2908 3306h29l-15 25zM3018 3306h29l-15 25zM3161 3306h29l-15 25zM3218 3306h29l-15 25zM3218 3306h29l-15 25zM3218 3306h29l-15 25zM3698 3306h29l-15 25zM3742 3306h29l-15 25zM4227 3306h29l-15 25zM4282 3306h29l-15 25zM4638 3306h29l-15 25zM4812 3306h29l-15 25zM4828 3306h29l-15 25zM4936 3306h29l-15 25zM5386 3306h29l-15 25zM5392 3306h29l-15 25zM6152 3306h29l-15 25zM6252 3306h29l-15 25zM6488 3306h29l-15 25zM6492 3306h29l-15 25z" fill="#ffa500"/></g></g>
<g transform="scale(0.1440)"><g clip-path="url(#c2)"><path d="M810 2510h0m0 36h0m1-115h0m0 65h0m0 65h0m0 144h0m1-166h0m0 72h0m0 15h0m0 238h0m1-354h0m0 145h0m0 21h0m0 8h0m1-203h0m0 217h0m0 29h0m1-303h0m0 195h0m0 28h0m0 203h0m1-376h0m0 116h0m0 43h0m0 79h0m1-173h0m0 101h0m0 174h0m1-217h0m0 65h0m1-7h0m0 29h0m0 93h0m0 15h0m1-246h0m0 22h0m0 43h0m1-187h0m0 180h0m0 65h0m0 80h0m1-167h0m0 15h0m0 231h0m1-181h0m0 58h0m1-72h0m0 79h0m11-101h0m1-57h0m0 36h0m0 72h0m0 22h0m0 50h0m1-58h0m0 22h0m0 7h0m1-72h0m0 7h0m0 51h0m1-116h0m0 29h0m0 116h0m1-138h0m0 73h0m1 86h0m1-122h0m1-44h0m1-72h0m0 166h0m2-137h0m1 79h0m0 36h0m1 15h0m0 94h0m1-224h0m0 180h0m1-158h0m0 86h0m0 87h0m1-267h0m0 224h0m0 7h0m1-101h0m0 115h0m0 109h0m1-304h0m0 94h0m0 137h0m0 73h0m1-383h0m0 123h0m0 72h0m9 14h0m0 130h0m1-58h0m0 80h0m0 29h0m1-275h0m0 116h0m1-101h0m0 36h0m0 87h0m0 50h0m1-282h0m0 145h0m0 144h0m0 87h0m1-209h0m0 14h0m0 65h0m1-303h0m0 332h0m0 72h0m0 43h0m1-332h0m0 29h0m0 340h0m1-275h0m0 246h0m1-441h0m0 340h0m0 36h0m0 101h0m1 7h0m0 7h0m1-108h0m0 79h0m1-346h0m0 310h0m0 44h0m1-80h0m0 15h0m1-123h0m0 14h0m0 44h0m1-188h0m0 7h0m0 51h0m1-73h0m1 116h0m0 7h0m0 51h0m0 57h0m1-317h0m0 79h0m0 101h0m0 130h0m1-79h0m0 65h0m0 7h0m1 51h0m0 36h0m1-282h0m0 166h0m1-267h0m0 87h0m0 28h0m0 22h0m1 22h0m1-159h0m0 123h0m1 86h0m0 44h0m1-138h0m0 260h0m0 8h0m1-253h0m0 58h0m0 130h0m0 101h0m1-383h0m0 7h0m0 109h0m0 43h0m0 94h0m1-318h0m0 267h0m0 44h0m1-65h0m0 158h0m1-325h0m0 22h0m0 253h0m0 22h0m1-188h0m0 21h0m0 123h0m1-72h0m0 87h0m0 57h0m1-339h0m0 108h0m0 188h0m0 87h0m1-318h0m1-14h0m0 252h0m0 94h0m1-318h0m0 138h0m0 14h0m1-217h0m0 145h0m0 94h0m1-246h0m0 29h0m0 145h0m0 93h0m1-72h0m0 159h0m1-231h0m0 116h0m1-152h0m1 79h0m1-14h0m1-137h0m0 94h0m1 57h0m0 65h0m1 29h0m0 44h0m1-333h0m0 224h0m1-144h0m0 86h0m0 44h0m0 29h0m1-188h0m0 72h0m1-29h0m0 15h0m0 216h0m1-115h0m1-123h0m0 166h0m0 29h0m1-94h0m0 145h0m1-340h0m0 152h0m0 173h0m1-159h0m1-86h0m0 231h0m1-289h0m0 14h0m0 101h0m1 44h0m0 65h0m0 166h0m1-347h0m0 22h0m0 21h0m0 123h0m1-267h0m0 202h0m0 36h0m1-151h0m0 108h0m1-101h0m0 245h0m1-65h0m0 37h0m1-239h0m0 87h0m0 137h0m1 22h0m0 58h0m0 36h0m1-166h0m0 93h0m0 51h0m1-260h0m1-79h0m0 325h0m0 50h0m1-368h0m0 202h0m1-173h0m0 57h0m0 80h0m0 180h0m1-361h0m0 130h0m0 138h0m0 151h0m1-115h0m0 72h0m1-188h0m0 58h0m0 7h0m1-339h0m0 101h0m0 108h0m0 231h0m1-267h0m0 22h0m0 57h0m0 58h0m1-260h0m0 202h0m0 116h0m1-260h0m0 43h0m0 159h0m0 51h0m0 86h0m1-325h0m0 94h0m0 22h0m0 94h0m1-159h0m0 116h0m7-275h0m0 130h0m1-72h0m0 101h0m0 72h0m0 101h0m0 22h0m1-332h0m0 115h0m0 166h0m1-245h0m0 130h0m0 72h0m1-87h0m0 37h0m0 108h0m1-325h0m0 296h0m0 188h0m1-397h0m0 122h0m0 22h0m0 195h0m1-311h0m0 29h0m1-115h0m0 253h0m0 86h0m0 58h0m1-260h0m0 72h0m0 210h0m1-325h0m0 7h0m0 217h0m0 137h0m1-318h0m0 94h0m1-188h0m0 238h0m1-57h0m0 166h0m1-137h0m0 101h0m0 7h0m1-202h0m1 151h0m0 22h0m0 51h0m1-246h0m0 137h0m0 181h0m1-289h0m0 36h0m0 79h0m0 15h0m0 7h0m1-152h0m0 37h0m0 50h0m0 181h0m1-340h0m0 181h0m0 108h0m1-195h0m0 36h0m0 15h0m1-94h0m0 188h0m0 21h0m0 22h0m0 14h0m1-252h0m0 223h0m0 22h0m7-144h0m0 21h0m1-57h0m0 101h0m0 151h0m1-173h0m0 14h0m0 22h0m0 108h0m1-267h0m0 72h0m0 102h0m0 21h0m1-144h0m0 7h0m0 36h0m0 123h0m1-36h0m0 58h0m1-297h0m0 8h0m0 159h0m0 144h0m1-260h0m0 166h0m1-231h0m0 43h0m0 239h0m1-174h0m0 181h0m0 14h0m1-339h0m0 195h0m0 29h0m0 123h0m1-347h0m0 209h0m0 94h0m1-43h0m0 144h0m0 58h0m1-440h0m0 158h0m0 65h0m0 73h0m1-174h0m0 195h0m0 80h0m1-347h0m0 159h0m0 51h0m0 151h0m1-368h0m0 43h0m0 289h0m1-397h0m0 79h0m1-122h0m0 50h0m1 137h0m0 15h0m0 7h0m1 267h0m1-267h0m0 123h0m1-282h0m0 123h0m1 94h0m0 43h0m0 159h0m1-498h0m0 14h0m0 137h0m0 36h0m0 87h0m1-166h0m0 152h0m0 21h0m0 101h0m1-296h0m0 29h0m0 289h0m1-166h0m0 51h0m0 79h0m0 29h0m1-347h0m0 7h0m0 109h0m0 318h0m1-260h0m0 158h0m0 51h0m1-296h0m0 375h0m1-411h0m0 245h0m0 145h0m1-275h0m0 94h0m0 130h0m1-332h0m0 58h0m0 21h0m0 210h0m1-246h0m0 203h0m1-22h0m0 87h0m1-210h0m0 94h0m0 14h0m1-216h0m0 94h0m0 57h0m1-79h0m0 231h0m0 43h0m1-216h0m0 108h0m0 36h0m1-267h0m0 36h0m0 123h0m1 14h0m0 246h0m1-282h0m0 123h0m1-238h0m0 43h0m1 87h0m0 36h0m1-137h0m0 245h0m0 7h0m1-281h0m0 252h0m0 145h0m1-318h0m1-14h0m0 79h0m0 72h0m1-166h0m0 44h0m0 86h0m1-86h0m0 101h0m1-181h0m0 159h0m0 108h0m1-281h0m0 79h0m1 22h0m0 151h0m1-137h0m0 36h0m1 58h0m0 80h0m0 21h0m1-253h0m0 159h0m0 15h0m1 14h0m1-274h0m0 72h0m1 29h0m0 87h0m1-29h0m0 101h0m0 79h0m1-289h0m0 80h0m0 86h0m0 58h0m1-209h0m0 224h0m1-116h0m0 152h0m1-267h0m0 238h0m1-101h0m0 36h0m0 22h0m1-181h0m0 7h0m0 36h0m0 29h0m1 36h0m0 44h0m1-159h0m1 65h0m0 151h0m0 123h0m1-202h0m1-108h0m1-58h0m1 72h0m0 29h0m1 22h0m0 144h0m1-36h0m1-238h0m0 180h0m1-21h0m0 50h0m0 7h0m1-101h0m0 29h0m1-195h0m0 181h0m0 195h0m1-130h0m0 151h0m1-166h0m1-224h0m0 138h0m0 130h0m0 28h0m1 15h0m0 29h0m1-275h0m0 51h0m0 7h0m0 58h0m1-173h0m0 72h0m0 115h0m0 101h0m1-79h0m1-58h0m0 130h0m1 65h0m0 87h0m1-238h0m0 36h0m1-195h0m0 50h0m0 51h0m0 130h0m1-202h0m0 57h0m0 44h0m0 79h0m1-310h0m0 144h0m1-159h0m2 340h0m0 72h0m1-239h0m0 51h0m0 296h0m1-469h0m0 245h0m0 22h0m0 65h0m1-275h0m0 224h0m0 195h0m1-462h0m0 195h0m0 246h0m1-333h0m0 195h0m0 58h0m1-216h0m0 28h0m0 51h0m0 108h0m1-260h0m0 275h0m1-296h0m0 151h0m1-36h0m1-36h0m0 87h0m0 29h0m0 50h0m1-115h0m1-87h0m0 144h0m1-202h0m0 22h0m0 202h0m1-173h0m0 310h0m1-122h0m0 79h0m1-397h0m0 144h0m0 109h0m0 115h0m1-180h0m0 7h0m0 159h0m1-15h0m1-173h0m0 123h0m0 7h0m0 22h0m0 72h0m1-65h0m1-51h0m1-188h0m0 58h0m0 94h0m1-36h0m0 58h0m1-130h0m0 86h0m0 15h0m1-58h0m1-29h0m0 202h0m1-158h0m0 122h0m1 51h0m1-108h0m0 86h0m1-159h0m1-21h0m0 43h0m2 94h0m1-15h0m1-21h0m0 94h0m1-80h0m0 15h0m1-65h0m1 101h0m0 14h0m1-123h0m0 29h0m1-36h0m0 29h0m1-50h0m0 115h0m0 15h0m1-181h0m0 36h0m1 123h0m0 144h0m1-202h0m0 29h0m0 181h0m1-289h0m0 224h0m1-123h0m0 50h0m0 51h0m0 101h0m1-318h0m0 51h0m0 253h0m1-102h0m0 15h0m1-296h0m0 115h0m0 29h0m1-36h0m0 202h0m1-94h0m0 37h0m1-268h0m0 195h0m0 138h0m1 43h0m1-202h0m0 50h0m1-21h0m0 43h0m0 36h0m1-246h0m0 109h0m0 151h0m1-223h0m0 86h0m1-72h0m0 22h0m0 72h0m1-152h0m0 22h0m0 50h0m0 181h0m1-332h0m0 43h0m0 15h0m1 137h0m0 72h0m0 36h0m1-318h0m0 138h0m1 195h0m1-44h0m0 137h0m1-375h0m0 79h0m0 109h0m0 29h0m1-217h0m0 202h0m1-173h0m0 108h0m0 173h0m1-202h0m0 289h0m1-245h0m0 21h0m0 65h0m0 94h0m1-339h0m0 57h0m0 203h0m0 21h0m1 80h0m1-419h0m0 137h0m0 152h0m1-123h0m0 29h0m2 43h0m0 123h0m1-108h0m0 72h0m0 58h0m0 7h0m1-289h0m0 22h0m0 29h0m0 57h0m1-130h0m0 145h0m0 50h0m1 94h0m1-231h0m0 159h0m0 58h0m0 115h0m1-187h0m1-123h0m0 180h0m0 94h0m1-245h0m0 72h0m0 101h0m0 65h0m0 65h0m1-325h0m0 14h0m0 217h0m1-339h0m0 122h0m0 37h0m0 173h0m1-195h0m0 115h0m1 22h0m1 72h0m1-180h0m0 14h0m1 137h0m0 29h0m1-159h0m0 73h0m0 29h0m1-65h0m2-15h0m1 29h0m0 79h0m1-130h0m0 15h0m1-58h0m1 116h0m1 43h0m1-22h0m0 58h0m2-94h0m0 22h0m0 43h0m1-159h0m1 22h0m0 159h0m1-36h0m1-80h0m1-108h0m0 14h0m1 15h0m0 87h0m1-130h0m0 151h0m0 36h0m1-108h0m1 22h0m0 7h0m0 29h0m1 29h0m0 79h0m1-108h0m0 36h0m0 65h0m1-253h0m0 51h0m1-8h0m0 44h0m0 21h0m1-115h0m0 180h0m0 29h0m1 101h0m0 51h0m1-361h0m0 224h0m0 14h0m0 44h0m1-37h0m1-101h0m0 109h0m1-361h0m0 144h0m0 72h0m1-58h0m0 167h0m1-268h0m0 130h0m1-166h0m0 253h0m1-166h0m0 36h0m0 101h0m0 36h0m1-159h0m0 253h0m1-209h0m0 65h0m1-8h0m0 73h0m0 36h0m1-253h0m0 29h0m0 101h0m0 101h0m1-325h0m0 159h0m1-79h0m0 7h0m0 123h0m0 65h0m1-210h0m0 289h0m1-282h0m0 195h0m1-216h0m0 238h0m0 65h0m0 58h0m1-311h0m1-36h0m0 80h0m0 238h0m1-347h0m0 296h0m1-202h0m0 80h0m0 173h0m1-383h0m0 173h0m1-86h0m0 36h0m0 130h0m0 137h0m0 36h0m1-325h0m0 87h0m0 7h0m0 166h0m1-130h0m0 15h0m0 57h0m0 130h0m1-433h0m0 296h0m0 36h0m1-14h0m0 65h0m1-123h0m0 22h0m0 101h0m1-296h0m0 130h0m0 224h0m1-434h0m0 152h0m1-51h0m0 15h0m0 267h0m0 65h0m1-310h0m0 28h0m0 65h0m0 37h0m1-203h0m0 80h0m0 195h0m1-231h0m0 144h0m1 29h0m0 130h0m1-238h0m1 21h0m1 80h0m0 50h0m0 116h0m1-130h0m0 87h0m1-232h0m0 51h0m0 79h0m1-202h0m0 109h0m1-44h0m0 80h0m1 94h0m1-44h0m0 51h0m1-159h0m0 79h0m2-29h0m2-86h0m0 101h0m1-43h0m0 166h0m0 29h0m1-94h0m0 14h0m1-137h0m0 94h0m0 72h0m0 51h0m1-210h0m0 173h0m0 22h0m1-94h0m0 65h0m1-188h0m0 44h0m1 7h0m1 14h0m0 152h0m1-123h0m1-94h0m0 80h0m0 87h0m2 14h0m1-43h0m0 115h0m0 51h0m1-369h0m0 181h0m1-195h0m0 282h0m0 43h0m0 43h0m1-317h0m0 57h0m0 188h0m0 58h0m1-217h0m0 101h0m1-166h0m0 101h0m0 8h0m0 43h0m1-22h0m0 65h0m0 51h0m0 58h0m2-232h0m0 15h0m0 152h0m1-304h0m0 109h0m0 231h0m1-246h0m0 181h0m0 14h0m1-115h0m0 28h0m0 123h0m0 87h0m1-354h0m1 188h0m0 166h0m1 7h0m1-498h0m0 195h0m0 50h0m1-252h0m0 166h0m1-109h0m0 296h0m0 102h0m1-333h0m0 217h0m0 51h0m1-362h0m0 246h0m1 29h0m1-217h0m0 7h0m0 65h0m0 80h0m0 79h0m1-274h0m0 217h0m1-152h0m0 101h0m0 22h0m1-87h0m0 29h0m0 115h0m1-187h0m0 7h0m0 79h0m1-137h0m0 152h0m0 21h0m0 145h0m1-246h0m0 87h0m0 123h0m0 14h0m1-318h0m1-7h0m0 434h0m1-268h0m0 65h0m0 145h0m1-412h0m0 253h0m0 115h0m1-339h0m0 101h0m0 22h0m0 144h0m0 137h0m1-339h0m1 246h0m1-174h0m0 80h0m1-58h0m0 29h0m0 65h0m0 14h0m1-137h0m1 22h0m0 137h0m1 65h0m1-22h0m0 51h0m0 14h0m1-195h0m0 65h0m0 29h0m0 22h0m1-217h0m0 253h0m1-51h0m0 36h0m0 51h0m1-159h0m0 15h0m1-73h0m1 44h0m1-65h0m1 137h0m2-7h0m1-94h0m0 14h0m0 58h0m1 51h0m4-159h0m1 86h0m1-57h0m1-15h0m0 108h0m1-50h0m0 72h0m1-231h0m0 188h0m1-116h0m0 72h0m1 102h0m1-188h0m0 72h0m1-29h0m0 80h0m0 72h0m1-267h0m0 238h0m0 36h0m1-58h0m0 65h0m1-260h0m0 116h0m0 159h0m1-203h0m0 174h0m1-260h0m0 151h0m1-223h0m1 86h0m0 7h0m0 181h0m0 116h0m1 50h0m0 29h0m1-296h0m0 72h0m0 43h0m1-173h0m0 202h0m1-216h0m0 137h0m0 101h0m0 123h0m1-246h0m0 130h0m1-231h0m0 36h0m0 224h0m1-188h0m0 210h0m1-390h0m0 361h0m1-159h0m0 51h0m0 43h0m1-108h0m0 86h0m0 145h0m1-426h0m0 14h0m0 433h0m1-195h0m0 101h0m1-195h0m0 73h0m0 65h0m0 108h0m0 87h0m1-354h0m0 137h0m0 108h0m1-21h0m0 50h0m0 72h0m1-296h0m0 152h0m1-166h0m1 65h0m1-152h0m0 137h0m0 94h0m0 145h0m1-448h0m0 58h0m0 137h0m0 94h0m0 87h0m1-123h0m0 79h0m0 65h0m1-303h0m0 65h0m0 108h0m1-43h0m0 188h0m1-275h0m0 44h0m1-73h0m0 217h0m1-108h0m0 101h0m1 21h0m0 22h0m1 51h0m0 43h0m1-347h0m0 36h0m0 123h0m0 80h0m1-311h0m0 51h0m0 216h0m1-231h0m0 174h0m0 50h0m0 87h0m0 58h0m1-275h0m0 22h0m1 72h0m1-58h0m0 174h0m0 43h0m1-101h0m0 123h0m1-340h0m0 72h0m0 318h0m1-347h0m0 210h0m1-195h0m0 29h0m0 36h0m0 58h0m1-195h0m0 7h0m0 36h0m1 29h0m0 79h0m0 65h0m0 22h0m2-72h0m0 79h0m1-137h0m0 144h0m1-166h0m0 36h0m1 58h0m0 29h0m0 72h0m1-130h0m0 65h0m1 15h0m2-202h0m1 130h0m0 36h0m2-138h0m0 73h0m1 7h0m0 130h0m1-238h0m0 209h0m1-166h0m0 115h0m1-93h0m0 7h0m1 14h0m0 58h0m1-152h0m0 29h0m0 159h0m0 7h0m1-72h0m0 51h0m1-36h0m6-195h0m0 14h0m0 246h0m1-297h0m0 80h0m0 101h0m1-188h0m0 267h0m0 22h0m1-115h0m0 144h0m0 7h0m1-195h0m0 72h0m0 8h0m1-159h0m0 72h0m0 152h0m1-231h0m0 180h0m1 15h0m0 14h0m0 7h0m1-101h0m0 87h0m0 166h0m1-340h0m0 232h0m1-347h0m0 130h0m0 224h0m0 29h0m0 86h0m1-346h0m0 21h0m0 15h0m0 21h0m0 94h0m1-43h0m0 130h0m1-253h0m0 130h0m0 15h0m0 7h0m1 36h0m0 36h0m0 130h0m1-383h0m0 116h0m0 36h0m0 267h0m8-310h0m1 115h0m0 36h0m1-252h0m0 86h0m0 239h0m0 7h0m1-217h0m0 137h0m0 87h0m1-332h0m0 267h0m1-231h0m0 123h0m0 267h0m1-433h0m0 50h0m0 80h0m0 65h0m0 202h0m1-275h0m0 22h0m0 58h0m0 21h0m1-195h0m0 29h0m0 80h0m0 43h0m0 253h0m1-455h0m0 166h0m0 173h0m1-375h0m0 43h0m0 181h0m1-138h0m0 37h0m0 216h0m1-260h0m0 15h0m0 14h0m0 166h0m0 22h0m1 22h0m0 50h0m1-217h0m0 15h0m0 22h0m0 158h0m1 29h0m1 22h0m1-347h0m0 29h0m1-7h0m0 274h0m1-137h0m1-50h0m0 21h0m0 65h0m0 22h0m0 36h0m1-50h0m1-15h0m0 94h0m1-123h0m0 15h0m0 65h0m1 36h0m1-15h0m1 29h0m2-58h0m2-86h0m0 36h0m1 22h0m0 50h0m0 51h0m1-87h0m0 101h0m1-87h0m0 80h0m1-29h0m0 36h0m1-209h0m1 0h0m0 57h0m1 123h0m1-94h0m0 51h0m0 14h0m1-115h0m0 123h0m1-116h0m0 7h0m1-43h0m0 296h0m1-195h0m0 51h0m1-224h0m0 72h0m0 224h0m1-253h0m0 87h0m0 14h0m1 15h0m0 93h0m1-325h0m0 260h0m0 123h0m1-339h0m0 310h0m1-50h0m0 36h0m0 137h0m1-347h0m0 37h0m0 115h0m1-58h0m1-29h0m0 239h0m0 14h0m0 22h0m1-477h0m0 29h0m0 311h0m1-210h0m0 224h0m0 15h0m1-297h0m0 22h0m0 166h0m0 58h0m1-361h0m0 195h0m0 238h0m0 109h0m1-499h0m0 22h0m0 166h0m0 101h0m0 108h0m1-151h0m0 29h0m0 108h0m1-339h0m0 122h0m0 325h0m1-505h0m0 231h0m0 130h0m0 123h0m1-260h0m1-109h0m0 159h0m1-281h0m0 57h0m0 36h0m1 8h0m0 14h0m0 181h0m1-318h0m0 542h0m1-362h0m0 94h0m0 123h0m1-166h0m0 51h0m0 86h0m0 116h0m0 14h0m1-440h0m0 166h0m0 202h0m1-231h0m0 43h0m0 166h0m1-209h0m0 65h0m0 152h0m0 93h0m1-455h0m0 376h0m1-173h0m0 159h0m1-376h0m0 296h0m1-339h0m0 79h0m0 231h0m0 44h0m1-174h0m0 36h0m0 159h0m0 15h0m1-268h0m0 181h0m0 58h0m0 101h0m1-368h0m0 101h0m1-44h0m0 15h0m0 159h0m1-188h0m1 115h0m0 94h0m0 22h0m1-282h0m0 36h0m0 44h0m0 101h0m0 22h0m1-138h0m0 80h0m0 43h0m2 7h0m1-36h0m1 87h0m1-152h0m0 137h0m0 58h0m1-166h0m0 29h0m0 144h0m2-158h0m0 79h0m2-152h0m0 188h0m1-144h0m0 14h0m0 51h0m1-94h0m0 159h0m1 21h0m1-101h0m0 44h0m1-22h0m1-51h0m1 58h0m0 43h0m0 51h0m1-253h0m0 65h0m0 123h0m1 43h0m1 15h0m0 14h0m1-267h0m0 130h0m1-65h0m0 108h0m1-173h0m0 51h0m0 216h0m1-144h0m0 21h0m1-50h0m0 267h0m1-274h0m0 72h0m0 7h0m1 29h0m0 94h0m1-267h0m0 166h0m0 50h0m1-159h0m0 37h0m0 28h0m0 109h0m1-195h0m0 43h0m0 7h0m0 73h0m0 28h0m1-195h0m0 51h0m0 22h0m0 224h0m9-253h0m0 151h0m0 65h0m0 123h0m1-325h0m0 101h0m0 65h0m0 94h0m1-397h0m0 87h0m0 115h0m0 44h0m0 86h0m1-115h0m0 50h0m1-173h0m0 253h0m0 101h0m0 58h0m1-441h0m0 166h0m0 224h0m0 7h0m0 29h0m1-375h0m0 260h0m0 14h0m1-296h0m0 152h0m0 21h0m0 51h0m0 7h0m1-144h0m0 158h0m0 152h0m1-419h0m0 51h0m0 166h0m1-296h0m0 36h0m0 108h0m1-58h0m0 87h0m0 65h0m0 15h0m0 21h0m1-173h0m0 101h0m0 108h0m1-245h0m0 318h0m1-318h0m0 274h0m0 65h0m1-325h0m0 65h0m0 29h0m0 116h0m1-231h0m0 202h0m1-224h0m0 180h0m0 15h0m0 173h0m0 94h0m1-383h0m0 29h0m0 44h0m0 267h0m1-462h0m0 101h0m0 231h0m0 7h0m1-195h0m0 72h0m0 101h0m0 174h0m1-217h0m0 36h0m0 159h0m1-376h0m0 116h0m0 22h0m9 7h0m0 94h0m1-166h0m0 101h0m0 36h0m0 159h0m1-181h0m1-130h0m0 137h0m0 8h0m0 29h0m1-152h0m0 137h0m1-94h0m0 65h0m0 87h0m1-145h0m0 37h0m0 57h0m1-202h0m0 65h0m1-72h0m0 94h0m0 43h0m1-101h0m0 51h0m1 144h0m1-181h0m1-21h0m0 137h0m1 22h0m0 36h0m1-166h0m1 79h0m0 108h0m1-158h0m0 14h0m0 29h0m2 123h0m1-181h0m0 43h0m0 37h0m1 43h0m1-130h0m0 115h0m1 29h0m1-195h0m0 145h0m0 43h0m0 87h0m1-318h0m0 58h0m0 188h0m1-224h0m0 50h0m0 36h0m0 94h0m0 101h0m1-43h0m0 22h0m0 14h0m1-390h0m0 238h0m1-115h0m0 29h0m0 72h0m0 7h0m1-50h0m0 115h0m1-36h0m0 108h0m1-187h0m0 65h0m0 21h0m1-101h0m0 152h0m0 94h0m0 72h0m1-491h0m0 79h0m0 29h0m0 109h0m0 281h0m1-411h0m0 332h0m0 58h0m1-419h0m0 173h0m0 224h0m1-390h0m0 209h0m0 253h0m1-325h0m0 166h0m0 7h0m1-231h0m0 181h0m1-246h0m0 51h0m0 159h0m0 65h0m0 188h0m1-210h0m0 58h0m1-296h0m0 209h0m1-144h0m0 43h0m0 22h0m0 180h0m0 36h0m1-339h0m0 43h0m0 29h0m0 36h0m0 138h0m1-224h0m0 57h0m0 203h0m1-101h0m0 231h0m0 29h0m1-239h0m8-86h0m0 50h0m0 80h0m1-260h0m0 14h0m0 65h0m0 22h0m1-166h0m0 267h0m0 79h0m1-166h0m0 43h0m0 15h0m0 50h0m0 87h0m1-347h0m0 102h0m0 79h0m0 130h0m0 7h0m1-65h0m0 15h0m2-166h0m0 137h0m0 94h0m0 14h0m1-123h0m0 138h0m0 57h0m1-281h0m0 36h0m0 101h0m0 79h0m1-274h0m0 202h0m0 15h0m2-15h0m2-137h0m0 14h0m0 51h0m2-72h0m0 57h0m0 65h0m1-72h0m1-101h0m0 137h0m1 22h0m0 51h0m2-145h0m0 166h0m0 7h0m2-93h0m0 108h0m1-101h0m0 36h0m0 36h0m1-144h0m0 14h0m0 116h0m0 28h0m1-151h0m0 14h0m0 130h0m1-7h0m1-108h0m0 14h0m0 36h0m0 36h0m1-29h0m9-173h0m1 7h0m0 138h0m0 21h0m0 44h0m0 36h0m1-260h0m1-22h0m0 101h0m0 58h0m0 79h0m1-101h0m0 7h0m0 51h0m0 137h0m0 7h0m1-390h0m0 109h0m0 14h0m0 217h0m1-210h0m0 188h0m0 51h0m1-361h0m0 289h0m0 144h0m1-426h0m0 123h0m0 86h0m0 8h0m1-268h0m0 159h0m0 58h0m0 209h0m1-130h0m0 15h0m0 72h0m1-253h0m0 239h0m1-174h0m0 44h0m1-123h0m0 173h0m0 58h0m0 108h0m1-65h0m1 0h0m0 22h0m1-397h0m0 58h0m0 21h0m0 101h0m0 116h0m1-303h0m0 245h0m0 36h0m0 109h0m1-340h0m0 22h0m0 65h0m1-7h0m0 28h0m0 15h0m0 173h0m1-310h0m0 187h0m0 94h0m0 174h0m1-166h0m0 137h0m1-174h0m0 73h0m1-383h0m0 137h0m0 145h0m0 158h0m0 58h0m1-440h0m0 281h0m1-260h0m0 311h0m1-340h0m0 58h0m0 58h0m0 195h0m1-347h0m0 94h0m0 369h0m1-289h0m0 115h0m0 152h0m1-224h0m0 29h0m0 58h0m1-116h0m0 181h0m1-369h0m0 231h0m0 102h0m0 43h0m1-296h0m0 274h0m0 65h0m0 72h0m1-281h0m1-51h0m0 7h0m0 80h0m0 50h0m1-166h0m0 145h0m1-80h0m0 65h0m0 80h0m1-29h0m1-289h0m0 296h0m1-173h0m1-80h0m0 36h0m1 94h0m1 44h0m0 137h0m1-238h0m0 43h0m1-94h0m0 72h0m0 123h0m2-58h0m0 72h0m1-28h0m0 36h0m2-138h0m0 87h0m0 72h0m1-115h0m1-7h0m1-44h0m0 80h0m1-80h0m0 166h0m0 22h0m1-159h0m0 181h0m1-145h0m0 87h0m0 87h0m1-188h0m0 36h0m0 43h0m1-115h0m0 130h0m0 29h0m1-195h0m0 144h0m1-51h0m0 37h0m1 93h0m0 22h0m1-36h0m0 51h0m2-210h0m1 87h0m1-101h0m0 86h0m0 101h0m1-166h0m1 0h0m0 87h0m0 22h0m0 72h0m1-253h0m0 130h0m0 80h0m1-37h0m0 22h0m0 87h0m1-188h0m0 72h0m0 109h0m1-239h0m0 51h0m0 137h0m1-116h0m0 29h0m0 123h0m1-267h0m0 72h0m0 51h0m0 101h0m1-239h0m0 304h0m7-253h0m0 22h0m0 130h0m0 50h0m1-216h0m0 86h0m0 109h0m0 115h0m1-245h0m0 108h0m0 14h0m0 44h0m0 72h0m1-448h0m0 65h0m0 29h0m1 51h0m0 79h0m0 65h0m0 181h0m1-398h0m0 29h0m0 87h0m0 50h0m0 167h0m1-232h0m1 87h0m0 7h0m0 116h0m1-87h0m1-144h0m0 173h0m1-79h0m0 29h0m1 36h0m0 43h0m0 101h0m1-375h0m0 50h0m0 58h0m1-94h0m0 108h0m0 58h0m0 80h0m0 101h0m1-318h0m0 101h0m0 144h0m0 29h0m0 8h0m1-333h0m0 231h0m1-274h0m0 14h0m0 203h0m0 224h0m0 65h0m1-412h0m0 87h0m0 180h0m0 58h0m1-116h0m0 73h0m1-224h0m0 86h0m0 22h0m0 72h0m1-260h0m0 44h0m0 252h0m6-332h0m0 137h0m0 15h0m0 72h0m0 58h0m1-195h0m0 86h0m0 188h0m1-173h0m0 14h0m0 65h0m1-29h0m0 65h0m1-187h0m0 195h0m1-253h0m0 72h0m0 29h0m0 36h0m0 58h0m1-173h0m0 28h0m0 174h0m0 14h0m2-188h0m0 29h0m0 80h0m2 101h0m0 94h0m1-253h0m0 94h0m1-72h0m0 65h0m1-22h0m0 159h0m1-376h0m0 130h0m0 73h0m0 65h0m1-102h0m1-65h0m0 44h0m1 86h0m1-115h0m0 152h0m1-130h0m0 180h0m1-245h0m0 28h0m1-21h0m0 108h0m1 15h0m0 79h0m2-217h0m0 94h0m0 29h0m0 36h0m1-209h0m0 29h0m1-8h0m0 44h0m0 43h0m0 87h0m1-65h0m0 137h0m1-108h0m0 94h0m1-275h0m0 123h0m0 123h0m0 79h0m1-217h0m0 152h0m1-195h0m0 246h0m1-347h0m0 123h0m0 58h0m0 65h0m1-159h0m0 115h0m1-137h0m1-65h0m0 36h0m0 361h0m1-231h0m0 15h0m0 79h0m0 65h0m1-318h0m0 462h0m1-281h0m0 123h0m0 43h0m0 72h0m1-209h0m1-166h0m0 28h0m0 152h0m0 36h0m0 80h0m1-383h0m0 144h0m0 138h0m0 137h0m0 58h0m1-390h0m0 86h0m1-94h0m0 101h0m0 80h0m0 65h0m0 87h0m1-174h0m0 145h0m0 21h0m0 15h0m1-347h0m0 130h0m0 72h0m0 44h0m1-318h0m0 7h0m0 94h0m0 296h0m1-173h0m0 123h0m0 108h0m2-296h0m0 36h0m0 108h0m0 29h0m1-188h0m0 152h0m0 87h0m1-22h0m0 79h0m0 51h0m1-383h0m0 94h0m0 51h0m0 79h0m1 29h0m0 181h0m1-513h0m0 383h0m0 36h0m1-412h0m0 123h0m0 231h0m1-318h0m0 152h0m0 65h0m1-101h0m0 281h0m1-382h0m0 57h0m0 123h0m0 94h0m0 43h0m1-231h0m0 65h0m0 80h0m0 159h0m1-51h0m1-79h0m1 173h0m1-433h0m0 36h0m0 122h0m0 130h0m1-72h0m0 29h0m0 123h0m1-376h0m0 116h0m1 29h0m0 173h0m0 43h0m1-231h0m0 44h0m0 72h0m0 94h0m1-231h0m0 86h0m1 8h0m1-116h0m0 65h0m0 65h0m1 94h0m1-195h0m0 173h0m0 36h0m1-144h0m0 94h0m0 108h0m1-209h0m1-73h0m0 210h0m0 14h0m0 8h0m1-318h0m0 216h0m0 8h0m0 115h0m1-260h0m0 195h0m1 51h0m0 29h0m1-268h0m0 94h0m0 152h0m1-181h0m0 44h0m0 14h0m0 36h0m1-144h0m0 14h0m0 145h0m0 29h0m1-152h0m0 7h0m0 94h0m8-123h0m1-21h0m0 29h0m0 43h0m0 14h0m0 87h0m1-137h0m0 65h0m0 79h0m1-65h0m0 15h0m0 72h0m0 137h0m1-375h0m0 93h0m0 87h0m1-238h0m0 159h0m0 79h0m0 51h0m1-390h0m0 216h0m1-101h0m0 87h0m0 72h0m0 22h0m1 130h0m0 7h0m0 79h0m1-462h0m0 65h0m0 65h0m1-115h0m0 202h0m0 137h0m1-173h0m0 94h0m0 65h0m0 130h0m1-181h0m0 22h0m1-123h0m0 51h0m0 21h0m0 174h0m1-477h0m0 123h0m0 108h0m0 137h0m0 36h0m1-209h0m0 260h0m0 14h0m1-144h0m0 217h0m1-506h0m0 94h0m0 50h0m1-21h0m0 188h0m1-311h0m0 339h0m0 87h0m1-368h0m0 94h0m1-116h0m0 267h0m0 159h0m1-354h0m0 29h0m0 101h0m1-151h0m0 21h0m0 260h0m0 8h0m1-383h0m0 123h0m0 108h0m0 50h0m1-14h0m0 144h0m1-202h0m0 51h0m0 72h0m0 58h0m1-397h0m0 281h0m0 87h0m2-340h0m0 297h0m0 72h0m1-361h0m0 29h0m1 115h0m0 29h0m0 29h0m0 14h0m1-260h0m0 203h0m0 28h0m1 195h0m1-332h0m0 80h0m1-8h0m0 37h0m0 166h0m1-130h0m0 122h0m1-260h0m0 282h0m0 65h0m1-339h0m0 50h0m0 123h0m0 116h0m1-260h0m0 86h0m0 202h0m0 65h0m1-195h0m0 22h0m0 22h0m0 72h0m1-339h0m0 79h0m0 36h0m0 29h0m1-87h0m1-50h0m0 29h0m0 231h0m1-174h0m0 102h0m1-260h0m0 274h0m1-29h0m2-115h0m0 158h0m0 80h0m1-181h0m0 51h0m0 72h0m0 15h0m1-123h0m0 94h0m0 65h0m1-188h0m1 144h0m0 94h0m1-188h0m1 181h0m1-253h0m0 202h0m1-79h0m0 65h0m1-79h0m0 43h0m1-166h0m0 36h0m1-116h0m0 58h0m0 43h0m1 87h0m0 36h0m1-86h0m0 21h0m0 15h0m1-101h0m0 202h0m1-36h0m0 94h0m1-217h0m0 188h0m1-159h0m0 50h0m0 152h0m1-368h0m0 390h0m1-325h0m0 79h0m0 15h0m0 79h0m0 43h0m1-94h0m1-79h0m0 238h0m1-151h0m0 122h0m0 73h0m0 14h0m1-260h0m0 36h0m0 51h0m0 43h0m1-65h0m0 51h0m0 36h0m0 14h0m1 29h0m0 7h0m0 80h0m9-311h0m0 15h0m0 43h0m0 289h0m0 7h0m1-303h0m0 94h0m0 7h0m0 29h0m0 144h0m1-354h0m0 130h0m7-245h0m0 173h0m0 166h0m1-173h0m0 22h0m0 158h0m1-195h0m0 87h0m0 101h0m1-224h0m0 152h0m0 173h0m0 73h0m1-239h0m0 15h0m0 21h0m0 87h0m0 79h0m1-245h0m0 22h0m0 79h0m1-368h0m0 527h0m0 7h0m1-513h0m0 94h0m0 224h0m1-173h0m0 65h0m0 231h0m1 0h0m0 7h0m0 15h0m1-340h0m0 65h0m0 224h0m1-209h0m0 72h0m0 123h0m1-304h0m0 15h0m0 216h0m1-187h0m0 115h0m0 210h0m1-448h0m0 58h0m0 86h0m0 311h0m1-340h0m0 174h0m0 21h0m0 73h0m1-376h0m1 51h0m0 101h0m0 43h0m1-188h0m0 123h0m0 36h0m0 101h0m1-209h0m0 375h0m1-252h0m0 158h0m1-274h0m0 159h0m0 7h0m0 94h0m1-253h0m0 22h0m0 152h0m1-239h0m0 347h0m1-65h0m1-51h0m0 80h0m0 7h0m0 137h0m1-346h0m0 93h0m1-158h0m0 43h0m1 50h0m0 15h0m0 94h0m1 21h0m1-93h0m0 115h0m1-180h0m0 14h0m0 36h0m0 267h0m2-238h0m0 130h0m0 87h0m1-296h0m0 144h0m0 79h0m1-195h0m0 167h0m1-87h0m0 50h0m0 87h0m1-289h0m0 217h0m0 58h0m1-130h0m1-29h0m0 14h0m0 36h0m1-14h0m0 29h0m1-188h0m1 65h0m0 51h0m1-167h0m0 268h0m0 7h0m0 7h0m1-231h0m0 14h0m0 73h0m0 14h0m1-180h0m0 223h0m0 37h0m1-65h0m0 137h0m0 79h0m2-274h0m1 50h0m0 94h0m1 87h0m0 72h0m1-332h0m0 22h0m0 86h0m0 22h0m1-181h0m0 94h0m0 166h0m1-238h0m0 101h0m1-87h0m0 123h0m0 36h0m0 231h0m1-310h0m1 36h0m0 58h0m0 58h0m0 72h0m1-282h0m1-87h0m0 232h0m0 50h0m0 65h0m1-166h0m0 79h0m1-14h0m0 72h0m1-332h0m0 7h0m0 51h0m0 224h0m1 14h0m0 72h0m0 36h0m0 102h0m1-470h0m0 22h0m0 50h0m0 282h0m1-173h0m0 195h0m0 21h0m1-382h0m1 72h0m0 29h0m0 354h0m1-477h0m0 137h0m0 181h0m0 7h0m1-123h0m1-224h0m0 145h0m0 101h0m0 36h0m1-195h0m0 144h0m0 159h0m1-354h0m0 73h0m0 79h0m0 181h0m1-347h0m0 231h0m0 181h0m0 28h0m1-390h0m0 203h0m0 57h0m0 15h0m1-181h0m0 44h0m0 202h0m1-173h0m0 72h0m1-325h0m0 209h0m1-173h0m0 152h0m0 245h0m1-274h0m0 14h0m0 152h0m1-289h0m0 108h0m0 36h0m1-94h0m0 195h0m0 15h0m0 72h0m1-282h0m0 145h0m0 43h0m0 65h0m1-274h0m0 65h0m0 281h0m1-260h0m0 65h0m1-166h0m0 15h0m0 346h0m1-65h0m0 37h0m0 65h0m1-246h0m0 238h0m1-144h0m0 58h0m0 65h0m1-253h0m0 79h0m0 65h0m0 80h0m1-130h0m1-116h0m0 65h0m1 15h0m0 43h0m0 65h0m0 130h0m2-274h0m1 231h0m1-246h0m0 195h0m1-166h0m0 87h0m1-58h0m0 43h0m0 58h0m0 43h0m1-130h0m1 58h0m1-22h0m1 37h0m1-102h0m0 37h0m1-94h0m1 21h0m0 123h0m3-108h0m1-29h0m0 87h0m0 108h0m1-210h0m0 109h0m0 58h0m0 79h0m1-29h0m1-79h0m1-80h0m0 15h0m0 14h0m0 94h0m1-173h0m0 115h0m0 72h0m1-216h0m2 7h0m0 43h0m0 159h0m1-166h0m0 137h0m1-260h0m0 58h0m0 116h0m1 29h0m0 14h0m1-72h0m0 43h0m1 58h0m0 50h0m0 37h0m1-347h0m0 383h0m1-383h0m0 108h0m0 72h0m1-202h0m0 267h0m0 15h0m0 22h0m1-224h0m0 94h0m1-195h0m0 86h0m0 44h0m0 14h0m1-87h0m0 210h0m1-174h0m0 123h0m0 123h0m1-137h0m0 151h0m1-317h0m0 43h0m0 36h0m0 58h0m1 101h0m0 51h0m1-354h0m0 354h0m0 65h0m1-217h0m0 14h0m1-122h0m0 101h0m0 238h0m1-404h0m0 245h0m0 202h0m1-440h0m0 29h0m0 202h0m0 65h0m1-318h0m0 238h0m1 65h0m1-238h0m0 36h0m0 51h0m0 123h0m0 43h0m1-282h0m0 491h0m1-390h0m0 159h0m1-180h0m0 50h0m0 202h0m1-310h0m0 152h0m1-217h0m0 231h0m0 43h0m0 109h0m1-246h0m0 116h0m0 151h0m1-325h0m0 22h0m0 318h0m1-383h0m0 144h0m0 152h0m0 29h0m0 29h0m1-275h0m0 87h0m1 145h0m1-253h0m0 137h0m0 36h0m0 188h0m0 7h0m1-303h0m0 137h0m0 7h0m0 65h0m1-216h0m0 346h0m1-260h0m2 80h0m0 7h0m1-137h0m0 57h0m1-57h0m0 21h0m0 8h0m1-51h0m0 108h0m0 8h0m1-80h0m0 58h0m0 137h0m1-238h0m0 253h0m1-37h0m0 58h0m1-137h0m0 108h0m1-65h0m0 15h0m0 14h0m0 22h0m2-145h0m0 188h0m2-202h0m0 79h0m1-36h0m0 65h0m1-57h0m1 43h0m2 29h0m2-123h0m0 22h0m1 7h0m0 123h0m0 14h0m1-94h0m0 7h0m1 65h0m1-79h0m0 29h0m1 22h0m0 21h0m1-29h0m0 87h0m1-224h0m0 72h0m0 101h0m1-137h0m0 123h0m0 36h0m2-224h0m0 15h0m1 94h0m0 151h0m1-231h0m1 15h0m0 21h0m0 145h0m1-159h0m0 43h0m0 72h0m1-195h0m0 15h0m0 151h0m1-238h0m0 383h0m1-130h0m0 144h0m1-368h0m0 36h0m0 43h0m0 246h0m1-311h0m0 167h0m0 7h0m0 216h0m1-245h0m0 29h0m1-116h0m0 181h0m1-159h0m0 123h0m0 195h0m1-390h0m0 122h0m0 58h0m1 29h0m0 58h0m0 22h0m1-275h0m0 94h0m0 116h0m1 57h0m0 44h0m1-210h0m0 145h0m0 43h0m0 43h0m1-310h0m0 36h0m0 173h0m0 72h0m0 51h0m1-282h0m0 44h0m0 50h0m1-108h0m0 260h0m1-368h0m0 180h0m0 65h0m1-166h0m0 108h0m0 36h0m1 123h0m0 29h0m1-404h0m0 245h0m0 181h0m1-412h0m0 72h0m1-130h0m0 152h0m0 29h0m0 14h0m0 260h0m1-144h0m0 65h0m0 14h0m1-289h0m0 145h0m0 101h0m1-231h0m0 87h0m0 115h0m0 94h0m1-347h0m0 159h0m0 44h0m1-289h0m1 57h0m0 130h0m0 94h0m0 116h0m1-87h0m0 29h0m0 29h0m0 14h0m1-339h0m1 79h0m0 44h0m0 86h0m0 181h0m1-43h0m0 29h0m1-232h0m0 116h0m1-79h0m0 101h0m1-181h0m0 15h0m1 7h0m0 123h0m1-94h0m0 36h0m0 123h0m1-87h0m0 7h0m0 36h0m0 58h0m1-260h0m1 79h0m0 22h0m0 36h0m0 7h0m2-28h0m1-22h0m0 180h0m2-173h0m0 195h0m1-65h0m0 15h0m0 57h0m1-86h0m1-44h0m0 51h0m1-87h0m0 15h0m1 36h0m0 7h0m0 7h0m1-86h0m0 50h0m0 94h0m1-137h0m0 58h0m0 72h0m0 14h0m1-50h0m10-239h0m0 166h0m1-36h0m0 130h0m0 8h0m0 21h0m0 137h0m1-281h0m0 101h0m0 195h0m1-332h0m0 72h0m0 115h0m0 80h0m1-419h0m0 36h0m0 15h0m0 187h0m0 145h0m1-304h0m0 65h0m0 73h0m1 50h0m0 130h0m0 58h0m1-253h0m0 58h0m1 94h0m0 14h0m1-144h0m0 87h0m0 57h0m1-289h0m0 239h0m1-159h0m0 115h0m0 8h0m0 159h0m1-340h0m0 246h0m0 7h0m1-340h0m0 15h0m0 94h0m0 43h0m1-173h0m0 101h0m0 87h0m0 245h0m1-469h0m0 339h0m0 36h0m1-332h0m0 101h0m0 7h0m0 304h0m1-333h0m0 37h0m0 43h0m0 94h0m0 144h0m1-159h0m0 138h0m0 14h0m1-267h0m0 209h0m1-137h0m0 14h0m0 217h0m1-339h0m0 50h0m0 130h0m1 15h0m0 14h0m1-123h0m0 275h0m1-267h0m0 50h0m0 166h0m1 29h0m1-209h0m1 79h0m0 22h0m0 14h0m1-238h0m0 296h0m0 36h0m1-368h0m0 14h0m0 36h0m0 203h0m1-239h0m0 202h0m1-151h0m0 43h0m0 195h0m1-159h0m0 44h0m1-94h0m0 43h0m1-51h0m0 203h0m0 7h0m1-94h0m0 22h0m2-145h0m0 80h0m0 108h0m1-36h0m0 79h0m1-296h0m0 116h0m0 123h0m1-109h0m1-21h0m0 50h0m0 72h0m1-57h0m1-152h0m0 238h0m0 15h0m1-224h0m0 43h0m0 7h0m1 58h0m0 72h0m1-159h0m0 37h0m0 86h0m2-159h0m2 29h0m0 22h0m0 101h0m0 14h0m1-79h0m1-79h0m0 93h0m1-101h0m0 109h0m1 50h0m1-209h0m0 231h0m0 101h0m1-224h0m0 80h0m0 36h0m1 21h0m0 87h0m1-159h0m0 108h0m1-209h0m0 58h0m1 72h0m0 72h0m1-253h0m0 22h0m0 101h0m1 44h0m1-73h0m0 15h0m0 43h0m1-108h0m0 260h0m1-347h0m1 145h0m1 144h0m0 22h0m1-181h0m0 43h0m0 8h0m0 72h0m1-173h0m0 158h0m0 22h0m1-202h0m0 7h0m0 43h0m0 188h0m0 15h0m1-36h0m1 86h0m1-346h0m0 108h0m0 94h0m0 159h0m1-347h0m0 173h0m1-187h0m1 72h0m0 108h0m0 36h0m1-79h0m0 7h0m1-116h0m1-7h0m0 15h0m0 50h0m0 36h0m1 36h0m0 44h0m0 195h0m1-304h0m0 145h0m0 72h0m1-289h0m0 202h0m0 87h0m1-339h0m0 86h0m0 138h0m0 72h0m0 7h0m1-22h0m1-238h0m0 36h0m0 58h0m0 58h0m0 122h0m1-202h0m0 174h0m1-311h0m0 426h0m1-318h0m0 15h0m0 43h0m0 231h0m1-180h0m0 195h0m1-210h0m0 152h0m1-173h0m0 57h0m0 29h0m0 36h0m1-216h0m0 65h0m0 57h0m0 80h0m0 130h0m1-426h0m0 72h0m1-58h0m0 166h0m0 166h0m1-108h0m0 22h0m0 130h0m1-22h0m0 15h0m0 28h0m1-303h0m0 195h0m0 36h0m0 109h0m1-347h0m0 188h0m2-145h0m0 58h0m1-188h0m0 325h0m1-195h0m0 109h0m1-130h0m0 65h0m0 7h0m1 130h0m0 43h0m0 51h0m1-282h0m0 22h0m0 72h0m0 87h0m0 36h0m1-174h0m0 87h0m0 65h0m1-202h0m0 29h0m0 224h0m1-181h0m0 43h0m0 36h0m1-65h0m1 15h0m1 137h0m1-94h0m1-94h0m0 73h0m0 57h0m1-14h0m0 7h0m0 43h0m1-223h0m0 36h0m2 57h0m0 73h0m1 50h0m2-108h0m0 14h0m1-65h0m0 123h0m0 58h0m1-36h0m1-130h0m0 29h0m0 36h0m0 86h0m1-57h0m0 50h0m1-79h0m2 50h0m1-36h0m1-115h0m0 122h0m1-158h0m1-22h0m0 94h0m0 130h0m0 173h0m1-419h0m0 137h0m0 94h0m0 51h0m0 115h0m1-223h0m1 65h0m0 158h0m1-296h0m0 22h0m0 36h0m0 202h0m1-346h0m0 289h0m1-87h0m0 43h0m1 15h0m0 21h0m1-245h0m0 43h0m0 51h0m1-159h0m0 72h0m1-14h0m0 36h0m0 21h0m0 58h0m1-87h0m0 51h0m0 65h0m1 7h0m0 123h0m0 14h0m1-361h0m0 58h0m0 123h0m0 22h0m1 21h0m0 65h0m1-296h0m0 43h0m1 0h0m0 130h0m0 87h0m0 108h0m1-223h0m0 137h0m1-231h0m0 79h0m0 29h0m0 87h0m1-282h0m0 152h0m0 137h0m0 14h0m0 80h0m1-325h0m0 72h0m0 260h0m1-51h0m1-252h0m0 94h0m0 57h0m1-281h0m0 274h0m0 15h0m0 130h0m1-116h0m0 36h0m0 36h0m1-310h0m0 94h0m1-123h0m0 108h0m0 116h0m0 101h0m1-325h0m0 65h0m1 36h0m0 43h0m0 202h0m1-368h0m0 202h0m0 188h0m1-339h0m0 252h0m1-231h0m0 87h0m0 72h0m0 116h0m1-210h0m1 51h0m0 36h0m0 144h0m1-361h0m0 239h0m0 50h0m0 36h0m1-281h0m0 14h0m0 108h0m0 130h0m0 145h0m1-347h0m0 210h0m1-195h0m0 144h0m0 72h0m1-325h0m0 203h0m0 108h0m1-224h0m0 51h0m2 21h0m0 72h0m0 73h0m0 43h0m1-159h0m0 72h0m0 15h0m1-174h0m0 37h0m1 65h0m0 122h0m0 58h0m1-202h0m0 87h0m1 137h0m2-217h0m1 29h0m0 65h0m1-137h0m0 21h0m1 188h0m1-108h0m0 58h0m0 29h0m1-102h0m0 87h0m1 22h0m0 21h0m0 51h0m1-159h0m1-50h0m0 65h0m1 28h0m0 94h0m2-245h0m0 36h0m0 195h0m1-181h0m0 87h0m1-195h0m0 246h0m0 21h0m1-202h0m0 58h0m0 21h0m0 203h0m1-217h0m0 152h0m1-195h0m0 166h0m0 58h0m1-138h0m0 152h0m1-253h0m0 80h0m0 72h0m1-116h0m0 210h0m0 29h0m1-145h0m0 36h0m2-231h0m0 267h0m0 37h0m1-152h0m0 101h0m0 123h0m1-253h0m0 58h0m0 108h0m1-152h0m0 8h0m0 21h0m0 44h0m0 180h0m1-404h0m0 72h0m0 318h0m1-289h0m0 253h0m1-44h0m1-224h0m0 37h0m0 231h0m1-246h0m0 181h0m1-282h0m0 217h0m0 29h0m0 36h0m1-116h0m0 173h0m0 51h0m1-404h0m0 426h0m1-448h0m0 7h0m0 260h0m1-325h0m0 101h0m0 260h0m0 29h0m1-289h0m0 80h0m0 354h0m1-383h0m0 21h0m0 51h0m0 79h0m1-7h0m0 58h0m0 87h0m0 57h0m1-498h0m0 361h0m1-245h0m0 57h0m0 123h0m1-65h0m0 15h0m0 29h0m0 28h0m1 37h0m0 57h0m0 51h0m0 87h0m1-224h0m0 115h0m0 51h0m1-304h0m0 210h0m0 29h0m1-195h0m0 188h0m1-217h0m0 173h0m0 87h0m1-376h0m0 101h0m0 109h0m1-289h0m0 188h0m0 79h0m1-123h0m0 65h0m0 123h0m1-202h0m0 22h0m0 231h0m1-217h0m0 217h0m0 86h0m1-382h0m0 57h0m0 217h0m1-116h0m0 51h0m1 22h0m1-36h0m0 57h0m0 116h0m1-282h0m1 29h0m0 36h0m0 29h0m1-101h0m0 173h0m0 29h0m1-137h0m0 29h0m0 50h0m1-216h0m1 123h0m0 65h0m0 195h0m1-383h0m0 101h0m0 217h0m1-268h0m0 8h0m0 173h0m0 29h0m1-224h0m0 224h0m1-51h0m2-123h0m0 87h0m0 22h0m1-188h0m0 130h0m0 14h0m1-93h0m0 108h0m0 144h0m2-209h0m1-58h0m0 72h0m0 101h0m0 51h0m1-195h0m0 116h0m2-37h0m2-36h0m0 15h0m0 50h0m2 44h0m1-152h0m0 137h0m0 51h0m1-174h0m0 80h0m1 72h0m0 15h0m1-15h0m1-94h0m1 72h0m0 44h0m0 58h0m1-217h0m0 58h0m0 7h0m0 36h0m1-58h0m1 7h0m0 80h0m1-130h0m0 22h0m0 72h0m0 123h0m1-224h0m0 43h0m0 144h0m1-231h0m0 65h0m0 58h0m1-108h0m0 123h0m0 21h0m0 44h0m0 65h0m1-22h0m7-159h0m0 36h0m0 51h0m0 72h0m1-253h0m0 80h0m0 137h0m0 65h0m1-210h0m0 94h0m0 181h0m1-376h0m0 137h0m0 94h0m0 15h0m1-253h0m0 29h0m0 339h0m0 58h0m1-505h0m0 382h0m0 138h0m1-340h0m0 246h0m1-383h0m0 36h0m0 72h0m0 224h0m1-144h0m0 29h0m0 231h0m1-434h0m0 44h0m0 108h0m0 217h0m1-311h0m0 166h0m0 44h0m0 65h0m1-87h0m0 130h0m1-376h0m0 109h0m0 50h0m0 58h0m1-144h0m0 115h0m0 159h0m1-209h0m0 158h0m1-223h0m0 43h0m0 144h0m0 152h0m1-390h0m0 231h0m0 43h0m0 80h0m1-202h0m1-87h0m0 253h0m0 86h0m1-382h0m0 354h0m1-239h0m0 36h0m1-216h0m0 72h0m0 72h0m0 101h0m1-130h0m0 137h0m0 87h0m1 7h0m1-382h0m0 195h0m0 7h0m0 130h0m1-152h0m0 51h0m0 36h0m1 0h0m0 72h0m1-217h0m0 231h0m0 15h0m1-210h0m0 87h0m0 51h0m0 151h0m1-361h0m0 137h0m0 138h0m1-195h0m0 151h0m1-50h0m0 21h0m0 15h0m0 94h0m1-7h0m0 7h0m0 108h0m1-390h0m0 217h0m0 14h0m0 80h0m1-231h0m1 216h0m0 44h0m1-246h0m1-72h0m0 36h0m0 101h0m1-22h0m0 253h0m1-412h0m1 130h0m0 130h0m1-202h0m0 36h0m1 109h0m1-123h0m0 115h0m0 37h0m0 57h0m0 29h0m1-180h0m0 79h0m2-115h0m0 158h0m1-130h0m0 15h0m1 22h0m1-51h0m0 130h0m1-159h0m0 173h0m1-187h0m0 29h0m0 195h0m1-253h0m0 94h0m0 57h0m1-14h0m0 144h0m1-397h0m0 109h0m0 115h0m1-188h0m0 246h0m0 7h0m1-137h0m0 144h0m0 36h0m1-223h0m0 130h0m0 115h0m0 43h0m1-137h0m1-260h0m0 441h0m1-311h0m0 65h0m0 145h0m1-296h0m0 36h0m0 108h0m0 29h0m1 7h0m0 123h0m0 7h0m1-180h0m0 72h0m0 94h0m0 43h0m1-347h0m0 29h0m0 267h0m1-137h0m0 72h0m0 44h0m1-231h0m0 7h0m0 29h0m0 29h0m0 216h0m1-339h0m0 43h0m0 65h0m1 166h0m0 87h0m1-412h0m0 166h0m0 29h0m0 109h0m0 57h0m1-274h0m0 43h0m0 58h0m0 15h0m1-65h0m0 130h0m0 79h0m0 65h0m16-137h0m1-58h0m0 22h0m0 79h0m0 108h0m0 87h0m1-433h0m0 29h0m0 65h0m0 151h0m1-130h0m0 8h0m0 21h0m0 87h0m1-130h0m0 72h0m0 80h0m0 7h0m0 94h0m1-260h0m0 115h0m0 94h0m1-231h0m0 152h0m0 137h0m1-166h0m0 137h0m1-224h0m0 58h0m0 152h0m0 115h0m1-347h0m0 94h0m1 22h0m0 130h0m1-188h0m0 130h0m1-209h0m1 65h0m2-51h0m0 101h0m0 65h0m1-86h0m1-44h0m1 116h0m0 29h0m1 21h0m1 8h0m1-130h0m0 36h0m0 21h0m0 51h0m0 72h0m1-101h0m0 87h0m0 29h0m1-217h0m0 65h0m1-79h0m0 50h0m0 173h0m1-260h0m0 22h0m0 202h0m2-166h0m1 80h0m0 50h0m1-224h0m0 87h0m0 173h0m1-238h0m0 101h0m0 15h0m0 72h0m1-210h0m0 203h0m1-138h0m0 44h0m0 43h0m1 87h0m0 21h0m1-130h0m0 29h0m1-267h0m0 152h0m0 144h0m1-188h0m0 203h0m1-239h0m0 267h0m1-296h0m0 8h0m1 21h0m0 94h0m0 166h0m1-238h0m0 50h0m0 73h0m0 65h0m0 101h0m1-202h0m0 21h0m0 152h0m1-202h0m0 72h0m0 29h0m0 159h0m1-354h0m0 130h0m0 7h0m1-72h0m1-116h0m0 152h0m0 267h0m1-130h0m1-195h0m0 166h0m0 116h0m1-426h0m0 130h0m0 238h0m1-159h0m0 130h0m1-195h0m0 101h0m0 152h0m0 94h0m1-462h0m0 36h0m0 216h0m0 181h0m1-354h0m0 65h0m1 144h0m0 15h0m0 29h0m1-101h0m0 122h0m0 29h0m1-296h0m0 166h0m0 80h0m1-267h0m0 72h0m0 130h0m1-289h0m0 72h0m0 7h0m0 188h0m0 253h0m1-311h0m0 109h0m0 94h0m1 50h0m1-296h0m0 72h0m0 217h0m0 79h0m1-397h0m0 65h0m0 7h0m0 87h0m0 144h0m1-288h0m0 28h0m0 44h0m0 130h0m1-289h0m0 58h0m0 267h0m1-340h0m0 102h0m0 216h0m1-173h0m1-72h0m0 317h0m0 29h0m1-375h0m0 14h0m0 51h0m0 224h0m1-296h0m0 166h0m0 79h0m1-108h0m0 7h0m0 29h0m0 188h0m0 79h0m1-513h0m0 101h0m0 130h0m1-65h0m0 130h0m0 109h0m1-426h0m0 144h0m0 145h0m0 137h0m1-94h0m1-217h0m0 289h0m0 15h0m0 122h0m1-354h0m0 94h0m0 36h0m0 37h0m1-138h0m0 87h0m1-101h0m0 180h0m0 65h0m1-303h0m0 224h0m0 94h0m0 43h0m1-238h0m0 123h0m1-231h0m0 28h0m1 65h0m0 94h0m0 94h0m1-361h0m0 145h0m0 14h0m1-79h0m2 173h0m0 65h0m0 14h0m1-209h0m1 0h0m0 29h0m0 72h0m1-123h0m0 109h0m1-8h0m1-130h0m0 101h0m1 65h0m1-101h0m1 65h0m1-21h0m0 14h0m1-65h0m0 87h0m1-130h0m0 72h0m0 108h0m1-43h0m0 22h0m1-166h0m0 65h0m0 43h0m0 72h0m1-65h0m8-94h0m1 44h0m0 21h0m0 58h0m0 29h0m0 36h0m1-303h0m0 187h0m0 123h0m0 101h0m1-289h0m0 102h0m0 14h0m0 36h0m1-130h0m0 152h0m0 29h0m0 14h0m1-267h0m0 180h0m1-245h0m0 166h0m0 43h0m1-101h0m0 15h0m0 72h0m0 159h0m1-7h0m1-354h0m0 195h0m0 267h0m1-231h0m0 101h0m1-303h0m0 260h0m0 93h0m0 22h0m1-245h0m0 202h0m1-109h0m0 15h0m0 14h0m1-289h0m0 58h0m0 94h0m0 231h0m1-390h0m0 426h0m1-346h0m0 7h0m0 245h0m1-332h0m0 246h0m0 72h0m0 72h0m0 65h0m1-224h0m0 80h0m1-166h0m0 36h0m0 14h0m0 51h0m0 195h0m1-311h0m0 7h0m0 87h0m0 238h0m7-202h0m0 36h0m1-296h0m0 181h0m0 36h0m0 14h0m0 58h0m1-253h0m0 239h0m0 166h0m1-361h0m0 21h0m1 8h0m0 195h0m1-22h0m0 87h0m1-297h0m1 15h0m0 43h0m0 65h0m0 15h0m1-138h0m0 15h0m0 87h0m1 14h0m0 58h0m0 144h0m1-159h0m0 29h0m0 123h0m1-246h0m0 8h0m1-101h0m0 115h0m1 137h0m0 94h0m1-173h0m0 58h0m0 101h0m1-174h0m1-28h0m1-87h0m0 267h0m1-231h0m0 166h0m0 101h0m2-144h0m1-109h0m0 102h0m0 65h0m1 7h0m0 7h0m1-238h0m0 108h0m0 188h0m1-318h0m0 209h0m0 73h0m1-275h0m0 51h0m0 50h0m0 36h0m0 188h0m1-166h0m0 29h0m0 29h0m1-123h0m0 72h0m1-151h0m0 29h0m0 21h0m0 87h0m0 50h0m1-151h0m0 36h0m9-87h0m1-65h0m0 29h0m0 181h0m1-253h0m0 152h0m0 57h0m0 8h0m1-195h0m0 108h0m0 123h0m0 21h0m1-173h0m0 36h0m0 87h0m1-51h0m0 22h0m0 130h0m1-202h0m0 108h0m0 144h0m1-375h0m0 152h0m0 115h0m1-202h0m0 123h0m0 115h0m1-137h0m0 101h0m0 15h0m0 130h0m0 7h0m1-253h0m1 87h0m0 43h0m1-253h0m0 36h0m0 253h0m1-303h0m0 188h0m1-167h0m0 130h0m0 239h0m1-311h0m0 296h0m1-260h0m0 51h0m0 195h0m1-296h0m0 29h0m0 50h0m0 354h0m1-101h0m0 72h0m1-426h0m0 15h0m0 137h0m1 36h0m0 36h0m0 72h0m1-86h0m1-37h0m0 116h0m1-209h0m0 122h0m0 44h0m0 21h0m1-224h0m0 94h0m0 174h0m0 43h0m1-238h0m0 281h0m1-433h0m0 159h0m0 14h0m0 29h0m1-79h0m0 166h0m0 72h0m1-152h0m0 195h0m1-353h0m0 267h0m1-253h0m0 231h0m0 29h0m1-159h0m0 101h0m0 101h0m1-267h0m0 36h0m0 7h0m0 109h0m1-29h0m0 87h0m1-37h0m1-79h0m0 144h0m1 37h0m0 14h0m1-202h0m0 159h0m1-166h0m0 108h0m1-58h0m0 7h0m1 22h0m0 116h0m1-167h0m0 44h0m1-80h0m0 188h0m2-202h0m0 137h0m1-94h0m1-14h0m0 29h0m1-58h0m0 159h0m0 14h0m1-50h0m0 79h0m2-94h0m1 36h0m1-72h0m1 15h0m1 14h0m1 166h0m1-115h0m1-22h0m0 7h0m0 94h0m1-181h0m0 73h0m0 43h0m0 14h0m0 15h0m1-181h0m1-36h0m0 80h0m1 29h0m0 7h0m0 144h0m1-188h0m0 159h0m1-209h0m0 108h0m0 101h0m1-260h0m0 36h0m1 87h0m0 275h0m1-167h0m0 102h0m1-311h0m0 79h0m0 37h0m0 28h0m1-202h0m0 260h0m0 51h0m1-275h0m0 195h0m0 51h0m1-275h0m0 102h0m0 130h0m0 115h0m0 51h0m1-260h0m1-80h0m0 253h0m0 87h0m1-376h0m0 65h0m0 29h0m0 130h0m1-58h0m0 109h0m1-246h0m0 58h0m1 43h0m0 116h0m0 36h0m1-340h0m0 22h0m0 29h0m0 29h0m0 137h0m1-101h0m1-130h0m0 7h0m0 51h0m0 361h0m1-246h0m0 65h0m0 36h0m0 101h0m1-252h0m0 94h0m0 180h0m1-383h0m0 130h0m0 138h0m0 79h0m1-354h0m0 188h0m1 108h0m1-375h0m0 94h0m0 21h0m0 72h0m0 73h0m1 86h0m0 58h0m0 65h0m1-144h0m0 14h0m1-325h0m0 22h0m0 21h0m0 80h0m0 144h0m1-187h0m0 122h0m1 80h0m0 79h0m0 29h0m0 116h0m1-484h0m0 36h0m0 50h0m0 138h0m1-58h0m0 166h0m0 29h0m1-231h0m0 65h0m1-181h0m0 195h0m0 80h0m0 79h0m0 43h0m1-296h0m0 44h0m1-15h0m0 130h0m0 80h0m2-246h0m0 123h0m1-51h0m0 246h0m1-166h0m0 43h0m0 15h0m0 72h0m0 14h0m1-281h0m0 43h0m0 79h0m1-216h0m0 325h0m1-268h0m0 65h0m0 130h0m1-166h0m0 94h0m0 87h0m0 115h0m1-86h0m1 72h0m1-159h0m1-22h0m1-79h0m0 43h0m1 22h0m0 22h0m0 86h0m0 58h0m1-180h0m0 7h0m0 58h0m2-94h0m0 108h0m0 22h0m1-159h0m1 195h0m0 36h0m1-224h0m0 43h0m0 123h0m1-137h0m1-7h0m0 86h0m0 29h0m1-86h0m0 28h0m1 102h0m1-188h0m0 216h0m1 29h0m1-144h0m0 29h0m1-152h0m0 217h0m1-159h0m0 123h0m0 36h0m1-239h0m0 210h0m1-152h0m0 58h0m0 166h0m2-245h0m1 180h0m1-166h0m0 79h0m0 58h0m1-86h0m0 72h0m1-80h0m0 44h0m0 21h0m0 73h0m0 36h0m1-333h0m0 217h0m1-209h0m0 86h0m0 87h0m0 267h0m1-419h0m0 109h0m0 14h0m0 166h0m0 22h0m1-289h0m0 7h0m0 65h0m0 253h0m1-130h0m0 130h0m6-202h0m0 108h0m0 72h0m1-252h0m0 151h0m0 7h0m0 80h0m1-361h0m0 224h0m0 29h0m0 36h0m1-159h0m0 21h0m0 195h0m1-101h0m0 36h0m0 195h0m1-151h0m0 7h0m0 43h0m1-332h0m0 166h0m0 87h0m0 22h0m1-246h0m0 87h0m0 7h0m0 253h0m1-195h0m0 180h0m0 22h0m1-397h0m0 7h0m0 144h0m1-122h0m0 122h0m0 58h0m1-123h0m0 210h0m1-188h0m0 7h0m0 296h0m1-332h0m0 87h0m0 65h0m0 137h0m0 51h0m1-362h0m0 37h0m0 317h0m1-361h0m0 188h0m1-217h0m0 36h0m0 232h0m0 28h0m0 58h0m1-159h0m0 36h0m0 87h0m1-361h0m0 29h0m0 245h0m1-223h0m0 108h0m0 238h0m0 65h0m1-274h0m0 101h0m1-94h0m0 29h0m1-123h0m0 29h0m0 79h0m0 109h0m1-210h0m0 36h0m0 116h0m1-195h0m0 332h0m1-115h0m0 65h0m0 79h0m1-253h0m0 159h0m1-188h0m0 232h0m1-130h0m0 115h0m1-173h0m0 115h0m1-202h0m0 210h0m1-80h0m0 202h0m1-231h0m0 123h0m0 51h0m0 28h0m1-325h0m1-79h0m0 14h0m0 145h0m1-181h0m0 130h0m1 29h0m0 145h0m0 72h0m1-181h0m0 44h0m0 79h0m0 43h0m1-281h0m0 180h0m1-173h0m0 166h0m0 36h0m1-72h0m1-51h0m0 109h0m1 130h0m1-253h0m0 181h0m1-102h0m1-21h0m0 86h0m1-180h0m0 22h0m1 7h0m0 209h0m0 65h0m1-79h0m1-152h0m1-43h0m0 180h0m0 22h0m1-123h0m0 152h0m1-275h0m0 73h0m0 7h0m1-22h0m0 51h0m0 36h0m0 72h0m0 51h0m1-109h0m0 8h0m0 14h0m0 29h0m1-217h0m0 80h0m0 21h0m2-137h0m0 275h0m1-203h0m0 166h0m1-57h0m0 43h0m1-159h0m0 238h0m1-303h0m0 354h0m1-397h0m0 86h0m0 87h0m0 36h0m0 87h0m1-224h0m0 267h0m1-209h0m0 238h0m1-188h0m0 15h0m0 289h0m1-448h0m0 296h0m1-94h0m0 43h0m0 94h0m1-368h0m0 58h0m0 130h0m0 108h0m1-173h0m0 21h0m0 167h0m1-268h0m0 94h0m0 109h0m0 144h0m0 108h0m1-484h0m0 29h0m0 116h0m0 289h0m1-347h0m0 51h0m0 50h0m0 260h0m1-281h0m0 28h0m0 116h0m0 58h0m1-390h0m0 86h0m0 37h0m0 144h0m1-253h0m0 152h0m1-137h0m0 65h0m0 202h0m0 65h0m1-260h0m0 217h0m0 137h0m1-202h0m0 57h0m1 65h0m0 58h0m1-368h0m0 7h0m0 72h0m0 311h0m0 21h0m1-260h0m0 65h0m1 130h0m0 22h0m1-253h0m0 159h0m1-310h0m0 65h0m0 115h0m0 282h0m1-376h0m0 145h0m0 137h0m1-361h0m0 180h0m0 87h0m0 72h0m1-325h0m0 15h0m0 209h0m0 58h0m1-173h0m0 187h0m0 37h0m0 86h0m1-332h0m0 101h0m0 58h0m1-101h0m0 166h0m0 144h0m1-375h0m0 101h0m0 159h0m0 21h0m1-303h0m0 137h0m0 73h0m0 144h0m1-318h0m0 116h0m1 21h0m1-260h0m0 340h0m1-94h0m0 43h0m0 65h0m1-281h0m0 238h0m0 79h0m1-288h0m1 43h0m0 22h0m0 195h0m1-347h0m0 368h0m1-303h0m0 123h0m0 122h0m1-187h0m1 43h0m0 51h0m0 223h0m1-303h0m0 108h0m0 130h0m1-115h0m1-87h0m0 65h0m1-50h0m0 144h0m1-130h0m0 80h0m0 72h0m1-87h0m0 29h0m1-224h0m0 58h0m0 22h0m0 158h0m0 29h0m1-122h0m1 72h0m0 94h0m1-159h0m0 101h0m3-159h0m0 79h0m1-14h0m1-108h0m0 137h0m1 7h0m0 65h0m1-152h0m1-65h0m0 80h0m1 87h0m0 21h0m0 101h0m1-195h0m0 58h0m0 210h0m2-333h0m0 15h0m0 151h0m1-209h0m0 43h0m0 203h0m1-116h0m0 58h0m0 137h0m1-296h0m0 36h0m0 209h0m1-332h0m0 174h0m0 28h0m1 73h0m1 14h0m2-137h0m0 58h0m0 101h0m0 29h0m1-296h0m0 28h0m0 181h0m0 65h0m1-22h0m1-209h0m0 29h0m0 21h0m0 145h0m1-390h0m0 58h0m0 144h0m0 72h0m0 65h0m1-216h0m0 202h0m1-166h0m1 130h0m0 21h0m0 65h0m1-72h0m0 109h0m0 43h0m1-282h0m0 44h0m0 274h0m1-354h0m0 159h0m0 79h0m1 80h0m1-455h0m0 173h0m0 80h0m1-123h0m0 152h0m0 65h0m1-275h0m0 65h0m0 51h0m1-195h0m0 43h0m0 202h0m0 145h0m1-296h0m0 14h0m0 51h0m0 93h0m0 58h0m1-188h0m0 102h0m0 7h0m1-22h0m0 80h0m0 137h0m0 72h0m1-173h0m0 29h0m0 7h0m1 123h0m1-383h0m1 65h0m0 43h0m0 58h0m1-116h0m1 138h0m0 144h0m0 29h0m0 29h0m1-369h0m0 253h0m1-195h0m0 116h0m0 166h0m1-426h0m0 180h0m0 123h0m1-231h0m0 79h0m0 102h0m1-29h0m1-87h0m0 22h0m0 50h0m0 72h0m1-173h0m0 94h0m0 36h0m0 145h0m1-195h0m1-130h0m0 209h0m0 72h0m1-50h0m0 21h0m0 51h0m0 29h0m1-267h0m0 209h0m1 22h0m1-203h0m0 37h0m0 130h0m2-152h0m0 58h0m1-101h0m0 50h0m0 123h0m1 36h0m0 36h0m1-289h0m0 181h0m1-15h0m0 36h0m1-115h0m0 72h0m1-94h0m0 267h0m1-202h0m0 130h0m0 7h0m1-144h0m0 58h0m1-65h0m1 79h0m0 22h0m1-123h0m0 137h0m0 80h0m1-202h0m0 36h0m0 29h0m0 144h0m0 29h0m1-108h0m1 43h0m1-238h0m1 115h0m0 108h0m0 15h0m1-188h0m1 15h0m1 28h0m0 15h0m0 79h0m0 22h0m1-209h0m0 28h0m0 138h0m0 86h0m1-202h0m0 152h0m0 79h0m1-318h0m0 333h0m1-174h0m0 145h0m1-282h0m0 36h0m0 44h0m0 50h0m0 29h0m1 14h0m1-202h0m0 267h0m1-288h0m0 79h0m0 72h0m0 51h0m0 29h0m1-87h0m0 152h0m1-369h0m0 318h0m0 101h0m1-426h0m0 108h0m0 29h0m0 130h0m1-209h0m0 72h0m0 58h0m0 58h0m1-22h0m0 7h0m0 123h0m1-296h0m0 14h0m0 80h0m0 188h0m0 122h0m1-382h0m0 216h0m0 36h0m0 65h0m1-375h0m0 7h0m0 173h0m1-43h0m0 14h0m0 80h0m1-173h0m0 216h0m0 123h0m0 58h0m1-361h0m0 65h0m1-152h0m0 289h0m0 22h0m0 130h0m1-412h0m0 72h0m0 36h0m0 101h0m0 101h0m1 44h0m1-239h0m0 181h0m0 7h0m0 94h0m9-383h0m0 138h0m0 21h0m0 188h0m0 43h0m1-310h0m0 101h0m0 22h0m0 7h0m1-246h0m0 224h0m0 65h0m1-325h0m0 188h0m0 14h0m0 101h0m0 138h0m1-311h0m0 51h0m0 14h0m0 29h0m0 173h0m1-317h0m0 166h0m1-80h0m0 36h0m0 138h0m1-44h0m0 22h0m0 72h0m1-260h0m0 15h0m1 187h0m1-195h0m0 94h0m0 44h0m2-123h0m0 36h0m1 22h0m0 267h0m1-210h0m1 36h0m0 65h0m0 8h0m0 7h0m1-210h0m0 65h0m1-231h0m0 282h0m0 65h0m1-101h0m0 72h0m1-108h0m0 130h0m0 7h0m1-195h0m1 29h0m0 115h0m0 94h0m1-195h0m0 65h0m0 15h0m2-22h0m0 29h0m1-58h0m0 80h0m0 57h0m0 22h0m1-195h0m0 58h0m0 65h0m0 29h0m1-239h0m0 130h0m0 87h0m10-79h0m0 29h0m0 57h0m1-195h0m0 325h0m6-231h0m1-94h0m0 36h0m0 8h0m0 7h0m0 58h0m1-51h0m0 87h0m0 65h0m1-275h0m0 224h0m0 188h0m1-339h0m0 180h0m0 130h0m1-217h0m0 37h0m0 14h0m0 51h0m1 28h0m0 94h0m1-289h0m0 29h0m0 109h0m0 101h0m0 72h0m1-404h0m0 108h0m0 115h0m0 15h0m0 173h0m1-65h0m0 87h0m0 7h0m10-159h0m1-137h0m0 72h0m0 15h0m0 130h0m1-246h0m0 51h0m0 14h0m0 22h0m1-217h0m0 36h0m0 304h0m1-268h0m0 8h0m0 130h0m0 50h0m1 51h0m0 7h0m1 65h0m1-282h0m0 58h0m0 137h0m0 51h0m2-304h0m0 8h0m0 122h0m1-86h0m0 289h0m1-253h0m0 94h0m0 101h0m1-217h0m0 7h0m0 181h0m0 79h0m1-252h0m0 79h0m0 43h0m0 15h0m1 14h0m1-130h0m0 123h0m1-108h0m0 36h0m1 22h0m1-159h0m0 115h0m1-137h0m0 94h0m0 14h0m0 87h0m1-144h0m1 144h0m0 14h0m1 51h0m0 22h0m0 21h0m1-57h0m1-159h0m0 151h0m1-86h0m0 166h0m1-246h0m0 109h0m1-44h0m1 29h0m1 51h0m0 7h0m1-130h0m0 22h0m0 14h0m1-22h0m0 152h0m1-14h0m1-181h0m1-14h0m0 151h0m1-94h0m0 159h0m1-274h0m0 86h0m0 94h0m0 58h0m0 51h0m1-289h0m1 94h0m1-44h0m0 145h0m1-152h0m0 159h0m1-101h0m0 50h0m1 73h0m1-289h0m0 195h0m0 36h0m1-166h0m1 253h0m0 50h0m1-339h0m0 180h0m0 36h0m0 8h0m1-210h0m0 51h0m0 238h0m1-152h0m0 138h0m0 21h0m1-209h0m0 151h0m0 22h0m1-108h0m0 101h0m0 123h0m1-405h0m0 109h0m0 21h0m0 253h0m0 58h0m1-109h0m0 130h0m1-368h0m0 130h0m0 123h0m1-303h0m0 144h0m0 188h0m1-318h0m0 152h0m0 86h0m1-101h0m0 44h0m1-102h0m0 22h0m0 116h0m1-231h0m0 216h0m0 87h0m0 137h0m1-534h0m0 289h0m0 151h0m1-368h0m0 137h0m1-152h0m0 73h0m0 86h0m0 188h0m0 51h0m1-260h0m0 7h0m0 260h0m1-152h0m0 58h0m1-246h0m0 37h0m0 14h0m0 173h0m0 15h0m1-94h0m0 22h0m1-37h0m0 246h0m1-484h0m0 7h0m0 22h0m0 181h0m1 14h0m0 94h0m0 137h0m1-195h0m0 43h0m0 102h0m1-325h0m0 86h0m0 260h0m1-426h0m0 246h0m1 43h0m0 58h0m0 79h0m1-267h0m0 274h0m0 37h0m1-376h0m0 43h0m0 239h0m0 130h0m1-354h0m0 231h0m1-94h0m0 72h0m0 36h0m0 138h0m1-362h0m0 65h0m0 224h0m1-346h0m0 86h0m0 101h0m0 29h0m1-238h0m0 72h0m0 15h0m1 50h0m0 36h0m1-79h0m1 87h0m0 43h0m0 94h0m1-224h0m0 43h0m1 22h0m0 115h0m1-166h0m0 65h0m1-7h0m1 87h0m1-44h0m0 73h0m2-138h0m0 37h0m0 21h0m1 15h0m0 50h0m1-36h0m0 22h0m1-65h0m1-51h0m0 109h0m2-94h0m0 115h0m1-79h0m1-72h0m1-15h0m0 15h0m1 36h0m1-87h0m0 101h0m2-123h0m0 159h0m0 22h0m0 65h0m1-108h0m0 195h0m1-123h0m0 58h0m0 101h0m1-354h0m0 21h0m0 130h0m0 29h0m0 87h0m1-202h0m0 173h0m1-137h0m0 14h0m0 101h0m1-187h0m0 216h0m1-166h0m0 44h0m1-138h0m0 58h0m0 22h0m1-94h0m2 43h0m0 116h0m0 29h0m1-325h0m0 72h0m0 137h0m0 282h0m1-325h0m0 209h0m0 15h0m1-130h0m0 86h0m1-260h0m0 325h0m1-375h0m0 159h0m0 267h0m1-108h0m0 151h0m0 36h0m1-231h0m0 166h0m0 51h0m1-282h0m0 123h0m0 36h0m1-260h0m1 43h0m0 188h0m0 109h0m1-362h0m0 174h0m0 137h0m1-202h0m0 29h0m0 21h0m0 253h0m1-375h0m0 180h0m1-253h0m0 87h0m0 144h0m1-252h0m0 79h0m0 36h0m0 369h0m1-520h0m0 195h0m0 158h0m1-173h0m0 51h0m0 216h0m0 8h0m1-463h0m0 36h0m0 275h0m1 123h0m1-174h0m0 15h0m0 94h0m0 7h0m1-238h0m0 108h0m0 36h0m1-159h0m0 94h0m0 101h0m1-260h0m0 43h0m0 80h0m0 72h0m0 80h0m1-304h0m0 195h0m1-115h0m0 65h0m1-166h0m0 173h0m0 14h0m0 159h0m1-202h0m0 231h0m0 87h0m1-369h0m1-21h0m0 216h0m0 65h0m0 22h0m1-166h0m0 101h0m1-43h0m1-188h0m0 29h0m0 43h0m0 145h0m1-152h0m0 79h0m0 102h0m0 65h0m1-318h0m0 274h0m1-216h0m1 36h0m0 29h0m0 14h0m0 22h0m0 21h0m2 29h0m0 72h0m1 22h0m1-137h0m0 29h0m1-116h0m0 29h0m1 188h0m1-145h0m0 116h0m1-87h0m0 58h0m0 7h0m1-115h0m1 151h0m1-72h0m0 58h0m1-43h0m2-80h0m0 130h0m1-188h0m0 29h0m0 109h0m0 21h0m1-57h0m0 28h0m2 29h0m0 22h0m1-166h0m0 50h0m0 22h0m1-14h0m1-80h0m0 58h0m0 65h0m1-14h0m1-152h0m0 87h0m1 115h0m1-123h0m0 152h0m1-209h0m1-15h0m0 51h0m0 86h0m0 65h0m1-238h0m0 22h0m1 137h0m0 115h0m1-57h0m0 65h0m0 21h0m0 80h0m1-426h0m0 252h0m1-173h0m0 159h0m1-289h0m0 29h0m0 144h0m0 51h0m0 14h0m1-166h0m1 22h0m0 188h0m0 58h0m0 195h0m1-506h0m0 159h0m0 166h0m0 166h0m1-318h0m0 123h0m0 130h0m1-303h0m1 123h0m0 28h0m0 109h0m1-275h0m0 22h0m1-123h0m0 369h0m1-102h0m0 15h0m0 43h0m0 29h0m0 36h0m1-216h0m0 72h0m0 94h0m1-123h0m0 14h0m0 73h0m0 86h0m0 15h0m1-217h0m0 14h0m0 37h0m0 187h0m0 65h0m1-43h0m0 7h0m0 15h0m1-347h0m0 36h0m0 318h0m1-441h0m0 231h0m0 116h0m1-339h0m0 101h0m0 50h0m1-188h0m0 94h0m0 361h0m1-462h0m0 116h0m0 173h0m0 202h0m1-455h0m0 325h0m1-332h0m0 108h0m0 210h0m0 65h0m1-253h0m0 15h0m0 166h0m1-268h0m0 29h0m0 130h0m1 51h0m1-210h0m0 138h0m0 43h0m1-144h0m0 158h0m0 37h0m0 36h0m1-383h0m0 217h0m0 72h0m0 151h0m0 22h0m1-339h0m0 65h0m0 57h0m0 22h0m0 145h0m1-181h0m1-87h0m0 22h0m1-36h0m0 224h0m1-22h0m0 15h0m1 21h0m1 7h0m0 73h0m1-166h0m0 14h0m1-29h0m1-87h0m1 94h0m0 109h0m1-145h0m0 101h0m1-180h0m0 94h0m0 43h0m0 22h0m0 65h0m1-181h0m0 15h0m0 7h0m1-101h0m0 65h0m0 122h0m1 8h0m5-109h0m1-14h0m0 58h0m0 29h0m0 21h0m0 80h0m1-116h0m1-166h0m0 79h0m0 195h0m1-231h0m0 8h0m2-94h0m0 303h0m0 94h0m0 65h0m1-361h0m0 65h0m0 7h0m0 7h0m0 80h0m1-65h0m0 216h0m1-296h0m0 116h0m0 50h0m0 51h0m0 115h0m1-462h0m0 231h0m0 130h0m0 36h0m0 15h0m1-383h0m0 7h0m0 289h0m0 174h0m1-325h0m0 144h0m1-209h0m0 158h0m0 15h0m0 101h0m2-347h0m0 109h0m0 14h0m0 210h0m1-311h0m0 36h0m0 159h0m1-36h0m0 123h0m0 50h0m1-361h0m0 29h0m0 123h0m0 281h0m1-469h0m0 94h0m0 14h0m1 94h0m0 152h0m1-123h0m0 80h0m1-181h0m0 116h0m0 36h0m0 50h0m1-354h0m0 181h0m0 282h0m0 36h0m1-441h0m0 108h0m0 73h0m0 86h0m1 15h0m0 123h0m0 36h0m1-398h0m0 94h0m0 101h0m1-296h0m0 73h0m0 339h0m1-159h0m0 267h0m1-484h0m0 94h0m1 65h0m0 166h0m0 65h0m1-274h0m0 29h0m0 224h0m1-289h0m0 397h0m1-419h0m0 123h0m0 14h0m0 80h0m0 7h0m1 29h0m0 51h0m1-362h0m0 354h0m0 109h0m1-347h0m1-87h0m0 203h0m0 101h0m0 65h0m1-340h0m0 152h0m0 43h0m0 44h0m1-253h0m0 130h0m0 166h0m1-210h0m0 159h0m0 15h0m1-210h0m0 87h0m0 87h0m0 130h0m1-203h0m0 210h0m1-166h0m0 86h0m0 51h0m0 43h0m1-296h0m0 224h0m1-332h0m0 209h0m1-159h0m0 44h0m0 29h0m0 79h0m0 36h0m1-224h0m0 174h0m1 115h0m0 80h0m0 50h0m1-166h0m1-115h0m0 65h0m1-87h0m0 7h0m0 195h0m1-253h0m0 101h0m1-21h0m1-101h0m0 224h0m0 14h0m1-202h0m0 151h0m0 73h0m0 14h0m1-72h0m0 87h0m1-297h0m0 224h0m1-101h0m1-58h0m1 109h0m0 72h0m1-195h0m0 94h0m1-159h0m0 224h0m0 115h0m1-166h0m0 29h0m0 44h0m0 7h0m1-166h0m0 65h0m1-44h0m1 15h0m0 166h0m1-188h0m0 29h0m1 108h0m1-43h0m1-14h0m0 86h0m0 7h0m1-137h0m0 72h0m0 109h0m2-253h0m0 7h0m0 210h0m1-181h0m0 130h0m1-65h0m1-195h0m0 72h0m1-115h0m0 151h0m0 138h0m1-152h0m0 72h0m0 116h0m0 14h0m1-173h0m0 238h0m1-281h0m0 101h0m1-109h0m0 73h0m0 72h0m0 58h0m1-354h0m0 72h0m0 152h0m1-37h0m0 174h0m1-340h0m0 260h0m0 210h0m1-383h0m0 14h0m0 260h0m0 29h0m0 8h0m1-376h0m0 22h0m1-15h0m0 296h0m0 51h0m1-217h0m1-43h0m0 101h0m0 79h0m1-50h0m0 65h0m0 101h0m1-224h0m0 101h0m0 51h0m1-260h0m0 151h0m1-216h0m0 115h0m0 130h0m0 8h0m1-232h0m0 37h0m0 72h0m0 310h0m1-281h0m1 50h0m0 123h0m0 65h0m1-433h0m0 209h0m0 159h0m1-144h0m0 115h0m1-318h0m0 87h0m0 188h0m0 14h0m0 80h0m1-8h0m0 37h0m1-347h0m0 29h0m0 72h0m0 339h0m1-390h0m0 44h0m0 50h0m0 304h0m1-333h0m0 8h0m0 216h0m0 29h0m0 15h0m1-181h0m0 15h0m1 187h0m0 36h0m1-476h0m0 108h0m0 87h0m0 94h0m1-260h0m1-65h0m0 151h0m0 101h0m0 167h0m1-311h0m0 58h0m0 65h0m1-145h0m0 181h0m1-80h0m0 275h0m1-325h0m0 72h0m0 159h0m0 7h0m1-137h0m0 22h0m0 79h0m0 137h0m1-173h0m0 14h0m0 94h0m1-390h0m0 44h0m0 36h0m0 65h0m1-87h0m0 202h0m0 65h0m1-339h0m0 101h0m0 51h0m1 57h0m0 15h0m0 130h0m1-239h0m0 80h0m0 188h0m1-253h0m0 159h0m0 36h0m0 166h0m1-397h0m0 144h0m1-188h0m0 87h0m1 36h0m0 224h0m0 51h0m1-405h0m0 116h0m0 7h0m0 94h0m0 224h0m1-174h0m0 58h0m0 101h0m1-390h0m0 195h0m1-130h0m0 51h0m0 29h0m0 130h0m1-166h0m0 151h0m0 145h0m1-289h0m0 50h0m0 44h0m0 14h0m0 29h0m2 108h0m1-267h0m0 195h0m0 15h0m0 36h0m1-174h0m0 152h0m1-188h0m0 217h0m1 65h0m1-195h0m1-94h0m0 87h0m0 29h0m1-210h0m0 159h0m0 80h0m1-232h0m0 58h0m0 87h0m1-36h0m0 7h0m0 130h0m1-217h0m0 29h0m0 152h0m0 58h0m1 29h0m1-22h0m1-108h0m0 28h0m0 94h0m1-65h0m1-86h0m1-94h0m0 281h0m1-390h0m0 188h0m1-29h0m0 166h0m1-108h0m1-65h0m0 15h0m0 21h0m0 58h0m1-65h0m0 137h0m0 51h0m0 29h0m1-260h0m0 101h0m0 14h0m1-253h0m0 340h0m1-246h0m0 29h0m0 210h0m1-253h0m1-7h0m0 195h0m0 14h0m0 22h0m1-80h0m1-57h0m0 21h0m0 109h0m0 65h0m0 79h0m1-339h0m0 130h0m0 115h0m1-303h0m1 14h0m0 361h0m0 8h0m1-484h0m0 166h0m0 94h0m1-87h0m0 152h0m0 101h0m1-412h0m0 224h0m1-224h0m0 101h0m0 80h0m0 14h0m1 188h0m1-80h0m0 58h0m0 44h0m0 21h0m1-411h0m0 101h0m0 274h0m0 72h0m1-375h0m0 166h0m0 36h0m0 7h0m1-274h0m0 43h0m0 108h0m0 109h0m1-202h0m0 57h0m0 73h0m0 115h0m1-260h0m0 173h0m0 65h0m1-14h0m0 188h0m0 43h0m1-527h0m0 79h0m0 51h0m1 72h0m0 173h0m1-202h0m0 181h0m0 36h0m0 50h0m1-101h0m0 94h0m1-318h0m0 159h0m1-252h0m0 93h0m0 8h0m0 159h0m0 93h0m1-144h0m0 36h0m1-173h0m0 36h0m1 29h0m0 36h0m0 43h0m0 65h0m1-245h0m0 151h0m1-29h0m0 73h0m1-181h0m0 152h0m0 173h0m1-79h0m1-36h0m1-73h0m0 116h0m1-173h0m0 137h0m1-72h0m0 115h0m1-159h0m0 174h0m0 28h0m1-14h0m2-209h0m0 28h0m0 65h0m0 174h0m1-275h0m0 159h0m1-43h0m0 72h0m0 7h0m0 87h0m1-274h0m0 43h0m1 79h0m1-43h0m1-58h0m0 29h0m0 116h0m1-174h0m0 8h0m0 209h0m1-116h0m0 217h0m1-347h0m0 80h0m1 29h0m1-7h0m0 21h0m1 51h0m1 21h0m0 65h0m1-223h0m0 209h0m0 29h0m1-361h0m0 115h0m0 123h0m1-87h0m0 94h0m0 58h0m0 72h0m1-151h0m0 43h0m1-130h0m0 181h0m0 65h0m0 65h0m0 14h0m1-404h0m0 21h0m0 109h0m0 43h0m0 282h0m1-477h0m0 130h0m0 195h0m1-188h0m1-29h0m0 130h0m0 195h0m1-188h0m0 123h0m1-411h0m0 115h0m0 108h0m1-151h0m0 137h0m0 94h0m1 29h0m0 14h0m1-29h0m0 116h0m1-397h0m0 224h0m1-116h0m0 51h0m0 216h0m1-426h0m0 22h0m0 58h0m0 332h0m1-296h0m0 151h0m0 15h0m0 137h0m1-224h0m0 181h0m1-268h0m0 145h0m0 36h0m0 173h0m1-361h0m0 22h0m0 36h0m0 101h0m1 94h0m0 94h0m0 43h0m1-274h0m0 101h0m0 14h0m0 29h0m1-339h0m0 238h0m0 224h0m1-65h0m1-412h0m0 152h0m1 14h0m0 58h0m0 15h0m0 137h0m2-332h0m0 224h0m0 36h0m1-275h0m0 455h0m0 15h0m1-347h0m0 181h0m0 36h0m1-296h0m0 216h0m0 94h0m1-188h0m0 44h0m1-58h0m0 94h0m1-137h0m0 303h0m0 65h0m1-246h0m0 8h0m0 115h0m0 22h0m0 14h0m1-310h0m0 101h0m0 14h0m1 137h0m0 73h0m1-275h0m0 36h0m0 51h0m0 94h0m1-253h0m0 376h0m1-159h0m0 14h0m0 36h0m1-7h0m1-188h0m2-58h0m0 188h0m0 152h0m1-188h0m0 123h0m0 50h0m1-231h0m0 36h0m1 44h0m1-94h0m0 65h0m0 79h0m1-122h0m0 101h0m1 57h0m0 8h0m1-188h0m0 152h0m0 65h0m1-181h0m0 123h0m0 58h0m1-130h0m2-37h0m0 87h0m1-65h0m0 58h0m1-36h0m1 14h0m0 51h0m1-195h0m0 209h0m1-180h0m1 29h0m1-37h0m1 29h0m0 58h0m1-79h0m0 57h0m0 58h0m0 36h0m1-86h0m0 57h0m0 22h0m1-101h0m0 87h0m0 108h0m1-303h0m1 86h0m0 73h0m0 72h0m1-181h0m0 123h0m1-188h0m0 51h0m0 209h0m1-115h0m1 166h0m1-217h0m0 22h0m1-130h0m0 166h0m1-101h0m0 209h0m1-224h0m0 51h0m0 101h0m1-209h0m1 101h0m0 50h0m0 101h0m1-281h0m0 267h0m1-188h0m0 173h0m0 130h0m1-252h0m0 173h0m0 22h0m1-383h0m0 22h0m0 28h0m1-7h0m0 166h0m0 73h0m1-217h0m0 390h0m1-340h0m0 58h0m0 72h0m0 29h0m1-187h0m0 21h0m0 29h0m0 246h0m0 65h0m2-448h0m0 224h0m0 43h0m1-14h0m0 72h0m0 43h0m0 152h0m1-217h0m0 44h0m1 14h0m0 29h0m0 22h0m0 43h0m1-303h0m0 137h0m0 43h0m1-245h0m0 28h0m0 87h0m1-188h0m0 123h0m0 51h0m0 65h0m1-101h0m0 65h0m1 7h0m0 115h0m0 15h0m1-332h0m0 115h0m0 289h0m0 7h0m8-202h0m0 181h0m1-275h0m0 22h0m0 14h0m0 22h0m0 72h0m1-166h0m0 72h0m0 123h0m1-130h0m0 108h0m0 123h0m1-188h0m0 109h0m0 72h0m1-101h0m0 50h0m1-195h0m0 94h0m0 22h0m0 108h0m1-281h0m0 65h0m1 65h0m0 86h0m1-58h0m1 87h0m0 15h0m0 57h0m1-245h0m0 72h0m0 51h0m2 151h0m1-79h0m1-152h0m1 36h0m0 94h0m0 36h0m1-101h0m0 7h0m0 44h0m1-22h0m1 65h0m0 22h0m0 94h0m1-268h0m0 15h0m1 86h0m0 145h0m1-267h0m0 65h0m2-116h0m0 188h0m0 50h0m2-28h0m0 108h0m1-152h0m1-14h0m0 65h0m0 36h0m0 22h0m1-260h0m0 180h0m0 87h0m1-181h0m0 36h0m1-159h0m0 87h0m1 65h0m0 116h0m0 65h0m1-369h0m0 130h0m0 195h0m0 65h0m1-317h0m0 21h0m0 318h0m0 22h0m1-282h0m0 22h0m0 115h0m1-188h0m0 246h0m0 43h0m1-375h0m0 216h0m0 138h0m0 36h0m1-376h0m0 29h0m0 202h0m0 174h0m1-340h0m0 51h0m0 21h0m1-252h0m0 36h0m0 72h0m0 94h0m1-123h0m0 159h0m0 79h0m0 8h0m1-181h0m1 58h0m0 101h0m0 72h0m0 51h0m0 79h0m1-448h0m0 304h0m0 58h0m0 14h0m1-390h0m0 51h0m0 166h0m1-94h0m0 325h0m0 58h0m1-390h0m0 173h0m1-275h0m0 195h0m0 195h0m1-231h0m0 44h0m0 86h0m1-296h0m0 80h0m0 65h0m0 289h0m1-354h0m0 43h0m0 224h0m1-361h0m0 86h0m0 167h0m0 43h0m1-80h0m0 29h0m0 73h0m1-347h0m0 7h0m0 137h0m0 159h0m1-267h0m0 144h0m0 44h0m0 94h0m1-253h0m0 36h0m7-22h0m0 188h0m0 29h0m1-181h0m0 8h0m0 79h0m0 15h0m1-138h0m0 87h0m0 108h0m0 87h0m1-130h0m0 7h0m0 72h0m0 87h0m1-397h0m0 173h0m0 109h0m0 72h0m1 50h0m0 22h0m1-289h0m0 7h0m0 116h0m0 65h0m1-166h0m0 180h0m0 22h0m0 29h0m0 43h0m1-310h0m0 72h0m0 7h0m0 51h0m1-80h0m0 116h0m0 36h0m0 137h0m0 7h0m8-202h0m0 159h0m0 72h0m1-281h0m0 65h0m0 57h0m0 73h0m1-167h0m0 102h0m0 101h0m1-152h0m0 116h0m1-195h0m0 14h0m1-29h0m0 29h0m0 72h0m0 15h0m1-224h0m0 253h0m1-246h0m1 51h0m0 14h0m0 159h0m0 58h0m1-188h0m0 65h0m0 14h0m1-115h0m0 144h0m1 65h0m0 58h0m1-274h0m1 14h0m1 7h0m0 15h0m0 202h0m1-188h0m0 87h0m1-72h0m0 108h0m0 14h0m1-224h0m0 130h0m0 58h0m1-115h0m0 231h0m1-181h0m0 159h0m1 108h0m0 37h0m1-181h0m0 94h0m1-303h0m0 72h0m0 50h0m0 101h0m0 58h0m1-166h0m0 22h0m0 29h0m1-65h0m1-188h0m0 65h0m0 43h0m1 51h0m0 159h0m0 57h0m1-325h0m0 29h0m0 58h0m0 275h0m1-145h0m0 101h0m0 7h0m0 29h0m1-462h0m0 87h0m0 65h0m0 115h0m0 80h0m1-361h0m0 159h0m0 144h0m1-173h0m0 36h0m0 29h0m0 57h0m0 87h0m2-274h0m0 195h0m0 57h0m0 37h0m1-167h0m0 65h0m0 138h0m0 21h0m1-137h0m0 152h0m0 123h0m1-549h0m0 281h0m0 116h0m1-43h0m0 14h0m0 7h0m1-303h0m0 101h0m0 123h0m0 159h0m1-224h0m0 310h0m1-505h0m0 72h0m0 224h0m1-275h0m0 29h0m0 8h0m0 375h0m1-419h0m0 267h0m1-281h0m0 195h0m0 195h0m0 7h0m0 108h0m1-317h0m0 28h0m0 22h0m0 36h0m1-238h0m0 108h0m1 36h0m0 73h0m1-87h0m0 152h0m0 50h0m1-260h0m0 7h0m0 73h0m0 50h0m1 72h0m0 44h0m0 21h0m0 15h0m1-426h0m0 260h0m0 115h0m1-180h0m0 245h0m1-346h0m1 7h0m0 144h0m0 145h0m1-260h0m0 29h0m0 166h0m2-22h0m0 101h0m0 65h0m1-123h0m1-267h0m0 72h0m0 36h0m1-43h0m0 101h0m0 72h0m0 224h0m1-361h0m0 51h0m0 166h0m0 115h0m1-317h0m0 166h0m1-101h0m0 72h0m0 72h0m1-195h0m0 43h0m0 15h0m1 14h0m0 65h0m1-50h0m1-7h0m1 28h0m2-86h0m1 72h0m0 29h0m1-130h0m0 159h0m2-22h0m1-123h0m0 29h0m1 72h0m1-7h0m1-94h0m0 36h0m0 22h0m2-65h0m0 15h0m0 72h0m1-109h0m0 73h0m0 72h0m1-51h0m0 123h0m1-282h0m0 65h0m0 51h0m0 144h0m8-93h0m0 28h0m1-317h0m0 252h0m0 58h0m1-130h0m0 29h0m0 87h0m0 180h0m1-368h0m0 29h0m0 130h0m0 72h0m1-209h0m0 94h0m0 14h0m0 166h0m1-238h0m1-29h0m0 79h0m0 116h0m1-303h0m0 288h0m0 29h0m1-260h0m0 101h0m0 80h0m1-181h0m0 29h0m0 44h0m1 137h0m0 58h0m0 137h0m1-462h0m0 72h0m0 368h0m1-339h0m0 137h0m1 14h0m0 109h0m0 122h0m1-483h0m0 65h0m1 137h0m0 21h0m0 80h0m1-224h0m0 65h0m0 130h0m0 130h0m1-433h0m0 202h0m0 159h0m0 159h0m0 21h0m1-520h0m0 239h0m0 79h0m1-282h0m0 29h0m0 311h0m0 87h0m1-354h0m0 115h0m0 7h0m0 102h0m1-333h0m0 188h0m0 246h0m1-210h0m0 166h0m0 73h0m1-304h0m0 15h0m0 195h0m1-159h0m0 65h0m0 14h0m0 116h0m1-282h0m0 159h0m0 58h0m9-181h0m0 36h0m0 101h0m1-86h0m0 21h0m0 80h0m0 43h0m1-180h0m0 79h0m0 65h0m0 15h0m1-73h0m0 8h0m0 93h0m1-180h0m0 36h0m0 79h0m0 22h0m0 116h0m1-354h0m1 108h0m0 246h0m1-289h0m0 137h0m0 58h0m0 86h0m1-267h0m1-36h0m0 22h0m0 86h0m1-79h0m0 72h0m0 51h0m1-72h0m0 36h0m1 115h0m1-173h0m1 72h0m0 58h0m1-152h0m0 137h0m1-180h0m0 144h0m1-65h0m0 87h0m1-152h0m1 51h0m0 144h0m1-108h0m0 22h0m1 108h0m1-137h0m0 101h0m0 22h0m1 43h0m1-108h0m1 93h0m0 37h0m1-65h0m0 57h0m1 51h0m1-311h0m0 94h0m0 15h0m0 7h0m0 50h0m1-101h0m0 195h0m0 22h0m1-289h0m0 137h0m0 22h0m1-137h0m0 173h0m0 101h0m1-354h0m0 231h0m0 51h0m1-72h0m1-65h0m1-116h0m0 65h0m0 94h0m1-180h0m0 57h0m0 239h0m1-181h0m0 43h0m0 73h0m0 130h0m1-152h0m0 36h0m0 87h0m1-260h0m0 173h0m0 181h0m1-434h0m0 296h0m1-260h0m0 15h0m1 72h0m0 15h0m0 57h0m0 80h0m1-174h0m0 65h0m0 102h0m0 130h0m1-427h0m0 80h0m0 123h0m1-195h0m0 469h0m1-339h0m0 94h0m0 36h0m0 94h0m1-109h0m0 130h0m1-332h0m0 130h0m0 152h0m1-311h0m0 188h0m0 101h0m1-231h0m0 22h0m0 21h0m1 0h0m0 166h0m1-144h0m1 58h0m0 101h0m0 14h0m1-79h0m0 115h0m0 22h0m1-217h0m0 8h0m1-109h0m0 282h0m1-267h0m0 144h0m0 58h0m1-289h0m0 36h0m0 166h0m1-216h0m0 72h0m0 216h0m0 58h0m1-310h0m0 122h0m1 73h0m0 94h0m0 36h0m1-253h0m0 7h0m1-123h0m0 347h0m0 79h0m1-411h0m0 202h0m0 65h0m0 108h0m1-202h0m0 231h0m1-339h0m0 180h0m0 8h0m0 137h0m1-188h0m0 101h0m1-7h0m0 14h0m0 44h0m1-195h0m1 72h0m1-15h0m1-28h0m0 93h0m1-7h0m0 51h0m0 101h0m1-361h0m0 94h0m0 224h0m0 14h0m1-376h0m0 188h0m0 181h0m1-152h0m0 123h0m1-231h0m0 188h0m0 21h0m0 22h0m1-238h0m0 21h0m1 29h0m0 15h0m1-123h0m0 159h0m1 65h0m0 65h0m1-152h0m0 43h0m0 15h0m0 65h0m2-22h0m1-50h0m0 14h0m1-94h0m0 145h0m1-37h0m1-137h0m0 58h0m1 195h0m1-188h0m1 15h0m0 14h0m0 108h0m1-231h0m0 87h0m0 130h0m1-181h0m1-14h0m0 144h0m0 44h0m1-159h0m1 65h0m1-29h0m0 58h0m0 36h0m2-130h0m0 14h0m0 130h0m1-195h0m0 138h0m1-188h0m0 202h0m0 94h0m1-325h0m0 115h0m1 65h0m0 22h0m0 43h0m0 58h0m1-310h0m0 144h0m0 303h0m1-353h0m0 72h0m0 50h0m0 116h0m1-36h0m1-275h0m0 239h0m0 79h0m1-289h0m0 174h0m0 130h0m1-369h0m0 174h0m0 115h0m1-94h0m0 58h0m1-224h0m0 22h0m0 86h0m1 65h0m0 109h0m0 65h0m1-80h0m0 101h0m1-187h0m0 7h0m0 274h0m1-505h0m0 332h0m0 14h0m1-296h0m0 51h0m0 245h0m0 22h0m1-404h0m0 166h0m0 123h0m1-145h0m0 7h0m0 159h0m1-231h0m0 246h0m1-260h0m0 144h0m0 7h0m0 22h0m0 22h0m1-239h0m0 166h0m1-158h0m0 520h0m1-318h0m1-188h0m0 144h0m0 94h0m0 22h0m1 36h0m0 65h0m0 123h0m1-116h0m0 29h0m0 44h0m1-369h0m0 101h0m0 138h0m0 14h0m0 14h0m1-231h0m0 15h0m0 65h0m1-101h0m0 115h0m0 51h0m1 36h0m2-94h0m0 36h0m0 152h0m1-397h0m0 216h0m0 15h0m0 57h0m1-158h0m0 7h0m1 21h0m0 260h0m1-101h0m0 87h0m1-412h0m0 159h0m0 188h0m1-87h0m0 22h0m0 51h0m1-145h0m0 166h0m1-260h0m0 152h0m1-43h0m0 36h0m0 50h0m1-101h0m0 123h0m1-217h0m0 80h0m0 101h0m1-174h0m0 224h0m1 116h0m1-231h0m1 29h0m0 65h0m1-29h0m0 79h0m1-209h0m0 79h0m0 44h0m0 93h0m1-72h0m1-108h0m0 130h0m1-152h0m0 44h0m0 50h0m0 87h0m1-166h0m0 50h0m0 109h0m0 36h0m9-130h0m0 79h0m1-137h0m0 36h0m0 137h0m1-296h0m0 65h0m0 72h0m0 15h0m1-58h0m0 22h0m0 130h0m0 94h0m1-383h0m0 238h0m0 29h0m1 14h0m0 65h0m1-122h0m1-80h0m0 29h0m0 36h0m0 195h0m1-151h0m1-94h0m0 86h0m0 109h0m1-296h0m0 274h0m1-347h0m0 145h0m0 21h0m1-43h0m0 7h0m0 65h0m0 15h0m0 43h0m1-159h0m0 15h0m1-80h0m0 123h0m0 159h0m0 87h0m1-318h0m0 7h0m0 397h0m1-238h0m0 137h0m0 65h0m1-354h0m0 217h0m1-80h0m0 181h0m0 101h0m1-224h0m0 217h0m1-376h0m0 94h0m0 116h0m0 36h0m1-101h0m0 14h0m0 65h0m0 36h0m0 101h0m1-390h0m0 15h0m1-51h0m0 116h0m1 58h0m0 29h0m1-232h0m0 130h0m1 94h0m1-137h0m0 72h0m0 29h0m0 137h0m1-296h0m0 80h0m0 188h0m0 158h0m1-469h0m0 318h0m1-275h0m0 44h0m0 7h0m0 130h0m1 87h0m0 79h0m0 101h0m1-361h0m0 202h0m0 51h0m0 21h0m1-404h0m0 166h0m0 325h0m1-462h0m0 101h0m0 130h0m1-231h0m1 238h0m0 15h0m0 65h0m1-282h0m0 87h0m0 86h0m0 123h0m1-173h0m0 86h0m1-173h0m0 94h0m0 238h0m1-224h0m0 44h0m0 130h0m0 7h0m0 7h0m1-238h0m0 7h0m0 332h0m1-166h0m1-43h0m0 115h0m0 8h0m1-29h0m1-253h0m1-22h0m0 210h0m0 29h0m0 14h0m1-137h0m1-29h0m0 36h0m0 137h0m1-195h0m0 8h0m0 122h0m0 22h0m1-181h0m0 130h0m1-108h0m0 94h0m1-14h0m1-159h0m0 7h0m0 123h0m1-8h0m0 159h0m2-137h0m1 22h0m0 86h0m1-50h0m0 29h0m1-145h0m0 130h0m1-187h0m0 36h0m1-44h0m0 94h0m0 65h0m1-137h0m0 108h0m0 36h0m1-65h0m0 116h0m0 29h0m1-318h0m0 108h0m0 44h0m1-80h0m1 51h0m0 65h0m0 94h0m0 43h0m1-296h0m2 14h0m0 87h0m0 87h0m1-116h0m1-43h0m0 173h0m0 101h0m0 44h0m1-289h0m0 36h0m0 137h0m0 22h0m1-123h0m0 22h0m0 65h0m0 151h0m1-252h0m0 115h0m0 51h0m1-195h0m0 86h0m0 15h0m1-174h0m0 239h0m0 29h0m1-289h0m0 115h0m0 22h0m0 65h0m1-188h0m0 58h0m0 7h0m0 152h0m0 137h0m1-245h0m0 28h0m0 15h0m0 180h0m1-288h0m9-29h0m0 180h0m1-216h0m0 231h0m0 14h0m0 65h0m1-217h0m0 80h0m0 29h0m0 159h0m1-369h0m0 15h0m0 50h0m1 22h0m0 65h0m0 7h0m0 87h0m0 108h0m1-419h0m0 138h0m1-87h0m0 50h0m0 15h0m0 152h0m1-224h0m0 144h0m0 224h0m1-166h0m0 79h0m0 36h0m1-195h0m0 73h0m0 50h0m1-274h0m1-36h0m0 339h0m0 65h0m0 29h0m1-332h0m0 260h0m1-361h0m0 130h0m0 21h0m0 130h0m1-101h0m0 123h0m0 72h0m0 101h0m1-86h0m0 29h0m1-318h0m0 130h0m0 173h0m1-22h0m0 87h0m1-50h0m1-174h0m0 7h0m0 73h0m0 29h0m0 79h0m1-209h0m0 65h0m0 86h0m1-267h0m0 29h0m1 79h0m1 94h0m1-108h0m1-145h0m0 80h0m0 390h0m1-325h0m0 94h0m0 21h0m0 22h0m1-173h0m1 14h0m0 36h0m0 44h0m0 14h0m1 123h0m0 7h0m0 43h0m1-375h0m0 159h0m0 50h0m0 87h0m1-224h0m0 94h0m0 238h0m1-231h0m0 137h0m3-50h0m0 22h0m0 101h0m1-253h0m1 123h0m0 57h0m1-166h0m0 94h0m0 87h0m1-101h0m0 43h0m1-72h0m1 7h0m0 87h0m0 72h0m1-22h0m1-245h0m0 86h0m1-57h0m0 14h0m2 36h0m0 65h0m0 58h0m1-231h0m0 152h0m0 14h0m0 137h0m0 80h0m1-289h0m0 166h0m1-311h0m0 260h0m1-159h0m0 195h0m1-187h0m0 130h0m1-304h0m0 318h0m0 94h0m1-347h0m0 94h0m0 36h0m0 174h0m0 21h0m1 8h0m0 93h0m1-260h0m0 15h0m0 87h0m1-203h0m0 123h0m1-101h0m0 296h0m1-274h0m0 36h0m0 289h0m1-311h0m0 15h0m0 21h0m0 87h0m0 43h0m1-65h0m0 36h0m0 138h0m1-210h0m0 22h0m1-231h0m0 224h0m0 65h0m0 115h0m1-368h0m0 115h0m0 195h0m1-238h0m0 22h0m0 57h0m0 102h0m0 137h0m1-325h0m0 216h0m0 116h0m6-469h0m0 28h0m0 15h0m0 245h0m1-151h0m0 224h0m0 86h0m1-346h0m0 144h0m1-87h0m0 22h0m0 159h0m1-267h0m0 151h0m0 239h0m1-145h0m0 87h0m1-383h0m0 152h0m0 72h0m1-159h0m0 15h0m0 159h0m0 36h0m1-138h0m0 37h0m0 137h0m1-275h0m0 65h0m0 159h0m1-151h0m0 7h0m0 216h0m1-101h0m0 188h0m1-253h0m0 15h0m0 7h0m1 79h0m0 8h0m0 50h0m1-180h0m0 224h0m0 7h0m0 14h0m1-180h0m0 36h0m0 72h0m1-246h0m0 22h0m0 29h0m1 94h0m0 58h0m1-239h0m0 15h0m0 14h0m0 188h0m0 101h0m1-202h0m0 43h0m0 109h0m1-174h0m1-72h0m0 188h0m0 43h0m2-173h0m0 115h0m1 138h0m0 14h0m1-224h0m0 80h0m1-116h0m1 51h0m0 115h0m1-144h0m0 43h0m0 159h0m1-22h0m1-123h0m1 65h0m1 44h0m1-94h0m0 65h0m0 22h0m0 50h0m2-29h0m1-216h0m0 144h0m0 65h0m1-181h0m0 29h0m0 8h0m0 72h0m1-94h0m0 173h0m0 29h0m1-123h0m0 51h0m1-195h0m0 29h0m1 14h0m0 94h0m1-115h0m0 79h0m1 14h0m0 8h0m0 57h0m0 22h0m1-238h0m1 50h0m0 253h0m1-404h0m0 354h0m1-210h0m0 36h0m0 15h0m0 224h0m1-210h0m1 80h0m0 28h0m0 22h0m0 43h0m1-144h0m0 152h0m1-166h0m0 144h0m1-274h0m0 209h0m0 58h0m1-7h0m0 72h0m1-304h0m0 87h0m0 43h0m1-122h0m0 216h0m0 65h0m1-144h0m0 29h0m1-130h0m0 332h0m1-376h0m0 22h0m0 137h0m1-130h0m0 29h0m0 217h0m1-318h0m0 426h0m1-375h0m0 65h0m0 43h0m0 202h0m1-115h0m2-174h0m0 152h0m0 36h0m0 36h0m1-151h0m0 86h0m0 145h0m1-376h0m0 347h0m1-51h0m0 36h0m1-397h0m0 29h0m0 224h0m0 58h0m1-210h0m0 145h0m0 21h0m2-224h0m0 333h0m1-203h0m0 167h0m0 14h0m0 51h0m1-289h0m0 14h0m0 145h0m0 43h0m1-224h0m0 29h0m0 65h0m0 36h0m1-51h0m0 22h0m0 22h0m0 245h0m1-303h0m0 79h0m0 159h0m1-260h0m0 311h0m0 72h0m1-188h0m1-29h0m0 130h0m1-144h0m0 58h0m0 79h0m2-231h0m0 173h0m0 29h0m1-137h0m0 130h0m1-115h0m1-44h0m0 15h0m0 130h0m1-166h0m1 79h0m1 22h0m0 7h0m1-159h0m0 29h0m0 173h0m1-123h0m0 29h0m1-43h0m1 101h0m1 22h0m1-137h0m0 130h0m1-123h0m1 79h0m1-43h0m0 22h0m0 14h0m2 87h0m1-22h0m1-43h0m0 94h0m1-174h0m1-43h0m0 137h0m1-87h0m1-115h0m0 14h0m1 44h0m1-36h0m0 115h0m0 7h0m0 8h0m1-65h0m1 43h0m0 36h0m0 14h0m0 37h0m1-109h0m0 51h0m1-80h0m0 15h0m0 101h0m0 65h0m1-311h0m0 340h0m1-239h0m0 224h0m1-289h0m0 304h0m1-224h0m0 137h0m0 29h0m0 14h0m1-223h0m0 21h0m0 145h0m1-15h0m0 51h0m0 29h0m1-138h0m0 22h0m1-123h0m0 65h0m0 15h0m1-166h0m0 50h0m0 145h0m0 159h0m1-282h0m0 14h0m0 51h0m0 36h0m0 202h0m1-361h0m0 267h0m2-137h0m0 311h0m1-441h0m0 238h0m0 65h0m1-382h0m0 289h0m0 7h0m1-130h0m0 180h0m1-281h0m0 94h0m0 115h0m0 65h0m1-339h0m0 325h0m0 29h0m1-311h0m0 130h0m0 14h0m0 224h0m1-245h0m0 72h0m0 65h0m1-65h0m0 58h0m0 72h0m0 144h0m1-469h0m0 94h0m0 87h0m1-224h0m0 115h0m0 202h0m0 73h0m1-333h0m0 203h0m0 14h0m1-209h0m0 108h0m0 376h0m1-405h0m0 87h0m0 21h0m0 275h0m1-325h0m0 231h0m0 29h0m1-246h0m0 224h0m1-130h0m0 22h0m0 29h0m0 108h0m0 58h0m2-470h0m0 152h0m0 202h0m1-72h0m0 29h0m1 14h0m0 15h0m0 65h0m0 79h0m1-346h0m0 94h0m0 216h0m1-325h0m0 181h0m0 65h0m1 43h0m1-188h0m0 44h0m0 14h0m0 80h0m1-188h0m0 14h0m0 22h0m1-195h0m1-7h0m0 159h0m0 72h0m1 14h0m0 22h0m0 29h0m0 108h0m1-289h0m0 80h0m1-145h0m1 174h0m1-94h0m0 195h0m0 50h0m1-238h0m0 115h0m0 58h0m1-108h0m0 137h0m0 72h0m1-29h0m1-238h0m1 36h0m0 29h0m1 29h0m0 51h0m0 72h0m1-80h0m0 73h0m1-94h0m1-73h0m1-28h0m0 137h0m1-22h0m0 51h0m1-116h0m1-94h0m0 109h0m0 86h0m1-202h0m0 58h0m0 86h0m1-158h0m2 173h0m0 72h0m0 101h0m1-245h0m0 137h0m1-94h0m0 72h0m0 36h0m1-209h0m0 43h0m0 260h0m1-390h0m1 101h0m0 15h0m0 115h0m1-173h0m0 137h0m0 51h0m1-94h0m1-123h0m0 238h0m1-93h0m0 28h0m0 145h0m1-282h0m0 7h0m1-50h0m0 123h0m0 21h0m1 51h0m0 7h0m0 123h0m1-347h0m0 44h0m0 216h0m1 36h0m1-390h0m0 210h0m0 14h0m1 109h0m0 50h0m1-209h0m0 57h0m1 29h0m0 15h0m0 115h0m1-339h0m0 58h0m0 79h0m1-195h0m0 130h0m0 29h0m0 289h0m1-94h0m1-137h0m1-145h0m0 231h0m0 22h0m1-245h0m0 180h0m0 159h0m0 72h0m0 36h0m1-527h0m0 311h0m0 122h0m1-375h0m0 152h0m0 79h0m0 159h0m1-441h0m0 340h0m0 72h0m1-311h0m0 29h0m0 15h0m0 94h0m1 122h0m0 15h0m1-152h0m0 94h0m1-166h0m0 29h0m0 231h0m1-318h0m0 72h0m0 102h0m0 43h0m1-188h0m0 72h0m0 159h0m0 36h0m1-310h0m0 180h0m1-50h0m0 123h0m0 101h0m2-398h0m0 188h0m0 72h0m1-231h0m0 51h0m0 137h0m0 94h0m1-188h0m0 22h0m0 58h0m0 180h0m1-368h0m0 36h0m0 303h0m1-289h0m0 188h0m0 72h0m1-267h0m0 181h0m0 29h0m1-166h0m0 288h0m1-57h0m0 36h0m1-275h0m0 44h0m0 144h0m1-166h0m0 94h0m0 209h0m1-252h0m0 28h0m0 102h0m1 7h0m1-123h0m0 72h0m1-188h0m0 94h0m0 73h0m1-80h0m1-7h0m0 29h0m0 43h0m2 51h0m0 50h0m0 29h0m1-217h0m0 87h0m1 22h0m1-15h0m0 36h0m1-93h0m0 36h0m1 94h0m0 14h0m1-29h0m1 58h0m1-152h0m0 101h0m0 36h0m2-79h0m2-43h0m0 224h0m1-268h0m0 29h0m0 7h0m1-180h0m0 217h0m0 72h0m1-239h0m0 80h0m0 29h0m0 151h0m1-209h0m0 36h0m0 123h0m1-137h0m1-29h0m0 108h0m0 43h0m1-180h0m1 130h0m0 29h0m0 144h0m1-296h0m0 383h0m1-246h0m0 8h0m0 137h0m1-361h0m0 281h0m0 195h0m1-484h0m0 116h0m0 36h0m0 94h0m1-267h0m0 151h0m0 203h0m0 65h0m1-376h0m0 188h0m0 108h0m1-238h0m0 50h0m0 260h0m1-216h0m0 274h0m1-411h0m0 14h0m0 51h0m0 57h0m1-65h0m0 123h0m0 72h0m0 51h0m1-311h0m0 58h0m0 188h0m0 202h0m1-368h0m0 29h0m0 50h0m0 7h0m0 268h0m1-441h0m0 36h0m0 87h0m0 115h0m0 29h0m1-296h0m0 109h0m0 72h0m1-137h0m8-37h0m0 260h0m1-202h0m0 94h0m1-36h0m0 22h0m0 50h0m0 22h0m0 115h0m1-202h0m0 94h0m0 210h0m1-304h0m0 159h0m0 22h0m0 86h0m1-361h0m0 174h0m0 94h0m0 21h0m1-72h0m0 22h0m0 43h0m1-217h0m0 8h0m0 252h0m0 80h0m1-202h0m0 108h0m1 7h0m1-318h0m0 289h0m1-166h0m0 210h0m1-282h0m0 7h0m0 166h0m1-173h0m0 101h0m0 123h0m0 21h0m1-130h0m0 22h0m0 29h0m1-123h0m0 87h0m0 58h0m1-159h0m0 123h0m0 57h0m9-137h0m0 29h0m1 14h0m0 29h0m0 58h0m1-22h0m0 58h0m1-144h0m0 7h0m0 181h0m1-159h0m0 29h0m0 50h0m0 29h0m1-195h0m0 51h0m0 93h0m0 15h0m1-188h0m0 22h0m0 36h0m0 94h0m0 101h0m1-296h0m0 79h0m0 94h0m0 29h0m1-72h0m0 79h0m92-257h0m0 224h0m0 80h0m1-333h0m0 116h0m0 94h0m0 65h0m0 51h0m1-326h0m0 138h0m0 7h0m0 115h0m1-238h0m0 36h0m0 145h0m1-116h0m0 7h0m0 36h0m0 145h0m1-58h0m1-166h0m0 22h0m0 29h0m1 50h0m0 159h0m1-195h0m0 79h0m1-28h0m1-102h0m0 29h0m1 36h0m0 94h0m2-260h0m0 58h0m0 246h0m1-347h0m1 94h0m0 166h0m0 29h0m1-166h0m1 36h0m0 58h0m0 94h0m1-130h0m0 50h0m1 65h0m1-159h0m0 109h0m0 28h0m1-79h0m0 137h0m3-238h0m1-36h0m0 72h0m1-101h0m0 137h0m0 58h0m1-130h0m0 58h0m0 50h0m1-166h0m0 80h0m0 21h0m0 130h0m0 22h0m1-275h0m0 203h0m1 43h0m0 72h0m1-151h0m0 122h0m1-72h0m1-144h0m0 180h0m1-173h0m0 22h0m0 43h0m0 87h0m0 93h0m2-303h0m0 159h0m1-202h0m0 79h0m0 7h0m0 159h0m1-122h0m1 151h0m0 22h0m1-195h0m0 36h0m0 36h0m0 29h0m1-7h0m0 21h0m0 80h0m1-217h0m0 231h0m0 130h0m1-404h0m0 14h0m0 36h0m0 65h0m1-195h0m0 152h0m0 152h0m0 7h0m1-217h0m0 58h0m0 51h0m0 72h0m1-202h0m0 137h0m0 7h0m0 80h0m1-275h0m0 80h0m0 346h0m9-289h0m0 58h0m1-195h0m0 58h0m7 115h0m0 65h0m1-86h0m0 14h0m0 123h0m0 7h0m0 22h0m1-332h0m0 130h0m0 14h0m0 188h0m1-166h0m0 72h0m0 14h0m0 123h0m1-260h0m0 22h0m0 79h0m0 8h0m0 130h0m1-116h0m0 36h0m1-180h0m0 50h0m0 58h0m1-43h0m0 36h0m0 65h0m9-8h0m0 51h0m1-202h0m0 130h0m0 108h0m1-159h0m0 80h0m0 21h0m0 29h0m1-173h0m0 79h0m0 58h0m0 15h0m0 7h0m1-166h0m0 21h0m0 58h0m1-87h0m0 44h0m0 130h0m1-109h0m0 15h0m0 108h0m0 15h0m0 21h0m1-296h0m1 65h0m0 289h0m0 29h0m1-339h0m0 72h0m1-87h0m1 166h0m1-14h0m0 29h0m0 21h0m1-72h0m0 166h0m1-224h0m0 65h0m1-202h0m0 72h0m0 304h0m1-246h0m0 36h0m1-173h0m0 260h0m0 43h0m1-267h0m0 159h0m0 94h0m1-246h0m0 398h0m1-311h0m0 202h0m0 7h0m1-310h0m0 86h0m0 210h0m1-137h0m0 43h0m0 79h0m1-238h0m0 166h0m1 15h0m0 79h0m0 15h0m0 36h0m0 14h0m1-318h0m0 22h0m0 58h0m0 144h0m1 44h0m1-80h0m0 87h0m0 50h0m0 102h0m1-470h0m1 116h0m0 122h0m0 130h0m0 29h0m1-260h0m0 36h0m0 73h0m0 187h0m1-281h0m0 36h0m1-174h0m0 87h0m0 188h0m0 108h0m1-231h0m0 36h0m0 159h0m1-260h0m0 166h0m1-260h0m0 15h0m0 57h0m1-28h0m0 36h0m0 187h0m0 87h0m1-43h0m1-340h0m0 347h0m0 14h0m0 102h0m1-455h0m0 130h0m0 86h0m0 145h0m1-369h0m0 87h0m0 419h0m1-462h0m0 7h0m0 137h0m0 137h0m0 94h0m1-151h0m0 173h0m0 65h0m1-354h0m0 14h0m1-57h0m0 65h0m0 130h0m0 7h0m0 188h0m1-159h0m0 115h0m1-252h0m0 14h0m0 65h0m1-58h0m0 29h0m0 116h0m0 43h0m1-289h0m0 22h0m0 144h0m1-281h0m0 50h0m1 267h0m0 29h0m1-166h0m0 43h0m0 87h0m1-144h0m1-73h0m0 282h0m1-245h0m0 130h0m1-109h0m0 87h0m0 36h0m0 14h0m1-115h0m1-80h0m0 15h0m0 296h0m1-426h0m0 245h0m1 130h0m0 8h0m1-231h0m0 72h0m0 50h0m0 65h0m1-180h0m0 260h0m1-188h0m0 94h0m0 36h0m0 43h0m1-231h0m0 36h0m0 130h0m1-29h0m1-238h0m0 130h0m1-79h0m0 137h0m1-210h0m0 304h0m1-202h0m0 28h0m0 109h0m0 7h0m1 22h0m1-224h0m1 21h0m0 73h0m1 43h0m0 14h0m0 29h0m1-122h0m0 108h0m1-159h0m0 29h0m0 87h0m1-51h0m1-22h0m0 159h0m1-65h0m0 94h0m0 22h0m1-304h0m0 239h0m1-311h0m0 224h0m1-123h0m0 94h0m1-101h0m0 51h0m0 144h0m1 108h0m1-14h0m1-311h0m0 65h0m0 159h0m1-173h0m0 79h0m0 8h0m0 130h0m1-311h0m0 80h0m0 50h0m0 80h0m1-58h0m0 195h0m1-130h0m0 14h0m0 145h0m1-239h0m1-72h0m0 195h0m0 29h0m0 7h0m0 138h0m1-145h0m0 36h0m2-58h0m1-296h0m0 29h0m0 332h0m1-209h0m0 36h0m0 36h0m0 239h0m1-412h0m0 216h0m1-137h0m0 210h0m1-195h0m0 260h0m1-347h0m0 267h0m1-274h0m0 65h0m0 180h0m1-122h0m0 57h0m0 22h0m0 14h0m1-180h0m0 115h0m0 15h0m2-116h0m0 138h0m1-116h0m0 188h0m1-145h0m0 188h0m1-303h0m0 7h0m0 130h0m0 72h0m1-130h0m0 152h0m0 123h0m1-109h0m0 101h0m1-173h0m1 101h0m0 94h0m1-217h0m1 145h0m1 7h0m0 130h0m1-274h0m0 245h0m1-310h0m0 29h0m0 93h0m1-115h0m0 94h0m0 151h0m1-93h0m0 65h0m0 86h0m1-166h0m0 29h0m0 14h0m1-281h0m0 188h0m0 166h0m1-217h0m0 22h0m0 310h0m1-448h0m0 188h0m0 166h0m0 15h0m1-282h0m0 72h0m0 80h0m1-29h0m0 14h0m1-173h0m0 231h0m1 36h0m1-209h0m1 21h0m0 29h0m0 22h0m1-152h0m0 231h0m0 15h0m0 50h0m1-14h0m1-108h0m1-109h0m0 36h0m0 123h0m0 44h0m1-116h0m2 36h0m0 65h0m1-123h0m0 80h0m1-51h0m0 15h0m0 115h0m0 7h0m1-223h0m0 14h0m1 51h0m1-123h0m0 267h0m0 22h0m1-87h0m0 22h0m1-94h0m0 58h0m1-94h0m1-58h0m0 180h0m2-137h0m0 22h0m0 159h0m1-260h0m0 65h0m0 50h0m1 22h0m0 29h0m0 87h0m1-275h0m0 116h0m0 57h0m0 8h0m1-174h0m0 58h0m0 130h0m0 22h0m1-94h0m0 101h0m0 14h0m0 29h0m9-65h0m1-252h0m0 43h0m0 50h0m0 22h0m0 101h0m1-180h0m0 86h0m0 51h0m1-159h0m0 43h0m0 22h0m0 29h0m1 22h0m0 144h0m0 217h0m1-448h0m0 180h0m0 94h0m0 36h0m0 8h0m1-296h0m0 223h0m0 65h0m0 73h0m1-434h0m0 116h0m0 50h0m0 58h0m1-79h0m0 14h0m0 116h0m1-231h0m0 260h0m1-275h0m0 58h0m0 101h0m0 195h0m1-383h0m0 203h0m0 57h0m1-245h0m0 58h0m1 93h0m0 15h0m0 65h0m0 29h0m1-36h0m0 151h0m1-29h0m0 8h0m1-268h0m0 116h0m1-72h0m0 65h0m0 72h0m1-123h0m0 166h0m1-339h0m0 130h0m1-108h0m0 122h0m1 181h0m0 173h0m1-433h0m0 245h0m1-303h0m0 94h0m0 144h0m0 15h0m1-29h0m0 36h0m0 130h0m1-339h0m0 151h0m1-36h0m0 15h0m0 173h0m1-224h0m0 145h0m0 43h0m1-318h0m0 195h0m0 43h0m1-130h0m0 102h0m1-217h0m0 347h0m1-29h0m1-159h0m0 137h0m1-209h0m0 260h0m1-239h0m0 15h0m0 144h0m1 58h0m1-246h0m0 73h0m0 144h0m1-188h0m0 94h0m0 51h0m1-123h0m0 7h0m0 36h0m0 51h0m1-36h0m1-101h0m0 151h0m1-50h0m0 130h0m1-152h0m0 116h0m1-130h0m0 115h0m1-58h0m2 44h0m0 50h0m2-101h0m2-58h0m0 80h0m0 94h0m1-109h0m0 80h0m1-72h0m1-44h0m0 15h0m0 50h0m1-86h0m2-29h0m0 151h0m1 36h0m0 58h0m1-202h0m0 94h0m1-72h0m0 137h0m0 116h0m1-304h0m1 65h0m0 130h0m1-159h0m0 188h0m0 87h0m1-347h0m0 144h0m0 22h0m1-36h0m0 58h0m0 50h0m0 8h0m1-232h0m0 210h0m1-101h0m0 159h0m1-253h0m0 7h0m0 15h0m0 86h0m0 72h0m1-238h0m0 123h0m1-116h0m0 138h0m0 72h0m1-123h0m0 246h0m0 36h0m1-195h0m0 180h0m1-318h0m0 29h0m1-101h0m0 231h0m0 36h0m1 44h0m0 7h0m0 152h0m1-405h0m0 195h0m0 87h0m1-340h0m0 130h0m0 195h0m1-209h0m0 36h0m0 166h0m1-195h0m1-72h0m0 116h0m1-167h0m0 167h0m0 43h0m0 29h0m0 36h0m1-137h0m0 151h0m0 94h0m1-188h0m0 29h0m0 29h0m1-144h0m1-80h0m0 130h0m0 275h0m1-340h0m0 94h0m0 159h0m0 7h0m1-332h0m0 238h0m1-325h0m0 116h0m1-123h0m0 152h0m0 253h0m1-304h0m1 116h0m1-202h0m0 108h0m0 217h0m0 36h0m1-94h0m0 87h0m0 43h0m1-101h0m0 14h0m0 109h0m1-181h0m0 94h0m0 7h0m1-130h0m0 22h0m0 7h0m1-79h0m0 7h0m0 202h0m0 43h0m1-375h0m0 94h0m0 151h0m0 145h0m0 65h0m1-239h0m0 8h0m0 14h0m1-79h0m0 29h0m0 79h0m1-159h0m8 58h0m0 115h0m0 8h0m1-253h0m0 14h0m0 101h0m0 102h0m0 43h0m1-159h0m0 14h0m0 29h0m0 15h0m1 14h0m0 15h0m1-239h0m0 87h0m0 238h0m1-224h0m0 29h0m0 123h0m1-137h0m0 159h0m1-195h0m0 14h0m0 44h0m1 144h0m1-101h0m0 36h0m0 79h0m1-195h0m0 51h0m1-65h0m0 152h0m0 21h0m1-180h0m0 94h0m0 21h0m1-72h0m0 15h0m0 180h0m1-202h0m0 36h0m0 58h0m1 21h0m9-36h0m0 22h0m1-29h0m0 43h0m0 29h0m1-159h0m0 80h0m0 36h0m0 101h0m1-318h0m0 58h0m0 195h0m0 166h0m1-339h0m0 7h0m0 51h0m0 108h0m1-195h0m0 7h0m0 275h0m1-188h0m0 7h0m0 58h0m0 115h0m1-202h0m0 7h0m0 246h0m1-354h0m0 159h0m1-159h0m0 14h0m0 44h0m0 296h0m1-282h0m0 166h0m0 87h0m1-188h0m0 51h0m0 137h0m1-260h0m0 22h0m0 137h0m1-108h0m0 57h0m0 36h0m0 80h0m1-253h0m0 246h0m1-152h0m0 22h0m0 122h0m0 116h0m1-282h0m0 239h0m0 137h0m1-383h0m1-65h0m0 332h0m1-317h0m0 151h0m0 51h0m0 50h0m1-14h0m1-238h0m0 137h0m0 130h0m0 29h0m1-260h0m0 144h0m0 15h0m0 21h0m1-86h0m0 36h0m0 224h0m1-275h0m0 267h0m1-137h0m1-267h0m0 108h0m0 137h0m0 80h0m1-332h0m0 50h0m1 369h0m0 7h0m1-246h0m0 181h0m1-260h0m0 29h0m1-109h0m0 94h0m0 94h0m0 15h0m0 57h0m1-209h0m0 101h0m0 130h0m1-246h0m0 181h0m0 72h0m1-238h0m0 72h0m0 101h0m2-94h0m0 130h0m0 80h0m1-65h0m0 36h0m1-166h0m0 94h0m1-29h0m0 86h0m1-122h0m1 79h0m0 65h0m1-159h0m1-7h0m0 36h0m2-87h0m0 102h0m0 72h0m1-210h0m0 22h0m0 29h0m0 137h0m0 51h0m1-246h0m0 80h0m1-58h0m0 86h0m0 58h0m3 15h0m1-116h0m0 145h0m1-174h0m1 116h0m1-145h0m1 94h0m0 22h0m0 14h0m0 80h0m1-224h0m1 58h0m0 36h0m1-65h0m1 144h0m0 22h0m1-246h0m0 8h0m1 281h0m0 73h0m1-376h0m0 50h0m0 102h0m0 72h0m1-231h0m0 281h0m1-166h0m0 65h0m0 15h0m1-58h0m0 79h0m1-224h0m0 65h0m1-28h0m0 267h0m1-361h0m0 209h0m0 58h0m0 50h0m1-173h0m0 87h0m0 115h0m1-195h0m0 29h0m1-180h0m0 7h0m0 180h0m0 138h0m1-231h0m0 28h0m1 15h0m0 36h0m0 51h0m0 36h0m1-181h0m0 87h0m0 79h0m1-202h0m0 79h0m0 87h0m1 22h0m0 58h0m0 57h0m0 58h0m1-260h0m0 58h0m0 152h0m1-44h0m8-144h0m0 195h0m1-202h0m0 36h0m0 43h0m0 29h0m0 72h0m1-274h0m0 151h0m0 101h0m0 51h0m1-217h0m0 73h0m0 28h0m0 29h0m0 181h0m1-455h0m0 65h0m0 144h0m0 80h0m1-159h0m1-51h0m0 289h0m1-267h0m0 209h0m0 58h0m1-339h0m0 72h0m0 202h0m0 87h0m1-376h0m0 138h0m0 43h0m0 209h0m1-281h0m0 50h0m0 7h0m0 94h0m1-274h0m0 426h0m1-137h0m1-152h0m0 195h0m0 109h0m1-224h0m0 28h0m1-115h0m0 108h0m0 65h0m0 80h0m1-123h0m0 87h0m0 65h0m1-87h0m0 65h0m1-318h0m0 210h0m0 72h0m1-260h0m0 72h0m0 36h0m0 123h0m1-94h0m0 29h0m0 79h0m1-224h0m0 174h0m0 72h0m1-202h0m0 14h0m0 239h0m2-268h0m0 101h0m0 22h0m0 43h0m1-122h0m0 166h0m1-267h0m0 108h0m1-58h0m0 72h0m1-57h0m0 281h0m1-166h0m0 29h0m1-181h0m0 51h0m0 58h0m1 58h0m0 57h0m2-252h0m0 151h0m1 72h0m0 22h0m1-14h0m1-159h0m0 14h0m0 72h0m0 15h0m1 72h0m1-144h0m0 7h0m0 101h0m0 72h0m1-144h0m0 115h0m1-130h0m0 145h0m1-260h0m0 7h0m1 36h0m0 123h0m1-210h0m0 138h0m1-65h0m0 115h0m1 116h0m1-289h0m0 43h0m1 174h0m0 28h0m0 65h0m1-223h0m0 79h0m1-101h0m0 65h0m0 65h0m0 14h0m1-151h0m0 173h0m0 58h0m1-188h0m0 36h0m0 15h0m0 130h0m0 50h0m1-14h0m0 43h0m1-253h0m0 145h0m0 72h0m1-282h0m1-101h0m0 137h0m1 36h0m0 174h0m1-101h0m0 238h0m1-397h0m0 188h0m0 21h0m1-72h0m0 137h0m1-354h0m0 22h0m0 231h0m0 80h0m0 144h0m1-274h0m0 21h0m0 101h0m2-267h0m0 22h0m0 36h0m0 245h0m1-216h0m0 166h0m1-296h0m0 166h0m0 101h0m0 29h0m1 108h0m1-368h0m0 224h0m0 115h0m0 15h0m1-311h0m0 267h0m1-332h0m0 101h0m0 29h0m1 29h0m0 80h0m1-29h0m0 14h0m1-173h0m0 144h0m0 137h0m0 66h0m1-318h0m0 65h0m0 180h0m1-224h0m0 15h0m1-123h0m0 173h0m0 15h0m1-123h0m0 166h0m0 36h0m2-130h0m0 137h0m0 15h0m0 29h0m1-246h0m0 29h0m1 202h0m1-317h0m0 137h0m0 43h0m0 130h0m1-245h0m0 101h0m0 50h0m0 22h0m2-123h0m0 43h0m0 109h0m1-210h0m0 166h0m1-21h0m0 151h0m1-260h0m0 181h0m1-22h0m1-122h0m0 65h0m0 108h0m1-195h0m0 166h0m1-224h0m0 282h0m0 29h0m1-217h0m0 94h0m0 65h0m1 14h0m0 22h0m1-260h0m0 94h0m0 50h0m0 65h0m1-209h0m0 130h0m0 43h0m1-289h0m0 65h0m1 123h0m0 137h0m1-108h0m0 58h0m1-123h0m0 87h0m1-15h0m0 80h0m0 58h0m1-246h0m0 14h0m0 44h0m1 29h0m2 130h0m1-73h0m1-115h0m0 14h0m1 130h0m1-101h0m0 51h0m0 7h0m1-123h0m0 22h0m0 29h0m0 101h0m0 50h0m1-108h0m1-173h0m0 151h0m1 116h0m1-260h0m0 51h0m0 36h0m1 122h0m0 44h0m1 36h0m0 22h0m1-123h0m1-145h0m0 116h0m0 22h0m1-73h0m0 8h0m1 14h0m1-51h0m0 102h0m0 122h0m0 36h0m1-339h0m0 65h0m0 137h0m0 36h0m1 29h0m0 44h0m0 14h0m1-282h0m0 94h0m0 36h0m0 203h0m1-167h0m0 15h0m0 72h0m0 181h0m1-325h0m0 122h0m1-303h0m0 116h0m1 108h0m0 72h0m1-245h0m0 36h0m0 310h0m1-122h0m0 36h0m1-333h0m0 44h0m0 14h0m0 65h0m1 58h0m0 101h0m0 123h0m1-397h0m0 187h0m0 15h0m0 217h0m1-318h0m0 36h0m0 123h0m0 115h0m1-130h0m0 195h0m1-267h0m0 188h0m0 166h0m1-361h0m0 130h0m0 14h0m0 87h0m1-275h0m0 109h0m0 94h0m1-318h0m0 22h0m0 101h0m0 29h0m0 115h0m1-282h0m0 123h0m0 174h0m1-246h0m0 94h0m0 72h0m1 7h0m0 51h0m0 36h0m0 65h0m0 7h0m1-303h0m0 267h0m0 58h0m0 7h0m1-419h0m0 347h0m0 14h0m0 80h0m1-340h0m0 73h0m0 28h0m0 8h0m0 332h0m1-419h0m0 108h0m0 188h0m1-166h0m0 137h0m1-332h0m0 43h0m0 87h0m0 51h0m0 65h0m6-152h0m0 36h0m0 101h0m1-22h0m0 102h0m0 7h0m0 50h0m1-108h0m0 79h0m1-195h0m0 15h0m0 36h0m0 94h0m1-116h0m0 130h0m2-144h0m0 58h0m0 21h0m0 15h0m0 94h0m1-260h0m0 29h0m0 151h0m0 94h0m2-180h0m2 93h0m1-158h0m0 93h0m1 15h0m1-72h0m0 50h0m0 65h0m1-94h0m0 58h0m0 72h0m1-231h0m0 51h0m1-29h0m1 43h0m0 109h0m1-58h0m1-123h0m1 43h0m1-29h0m0 51h0m1 36h0m0 36h0m1-144h0m1 50h0m0 145h0m0 58h0m1-275h0m0 80h0m0 36h0m0 29h0m2-130h0m0 7h0m0 101h0m0 58h0m0 14h0m1-238h0m0 101h0m0 144h0m1 29h0m0 7h0m0 73h0m1-195h0m0 101h0m0 21h0m1-137h0m0 159h0m1-296h0m0 116h0m0 79h0m1-224h0m0 238h0m1-137h0m1-101h0m0 159h0m0 173h0m1-339h0m0 79h0m0 44h0m0 86h0m1 15h0m0 36h0m1-152h0m0 29h0m0 137h0m1-224h0m0 44h0m0 202h0m1 72h0m1-43h0m0 50h0m0 73h0m1-130h0m0 43h0m1-209h0m0 28h0m0 22h0m1 22h0m0 65h0m1-94h0m0 22h0m0 86h0m0 36h0m1-332h0m1 80h0m0 72h0m0 29h0m0 144h0m0 51h0m1-369h0m0 123h0m0 152h0m1-166h0m0 7h0m0 43h0m0 101h0m1-296h0m0 275h0m1-152h0m0 260h0m0 7h0m1-216h0m0 79h0m1 79h0m0 145h0m0 29h0m1-231h0m0 14h0m1-29h0m1 44h0m0 187h0m1-260h0m0 138h0m0 57h0m1-101h0m0 22h0m0 123h0m1-253h0m0 180h0m2-7h0m0 51h0m1-267h0m0 28h0m0 159h0m1-122h0m0 173h0m0 51h0m1-275h0m0 58h0m0 101h0m1-152h0m0 116h0m1-181h0m0 130h0m2-21h0m0 57h0m0 138h0m0 36h0m1-188h0m0 123h0m1-188h0m0 58h0m1-73h0m0 29h0m0 87h0m0 29h0m1-202h0m1 151h0m1-43h0m0 79h0m0 44h0m1 36h0m1-58h0m0 15h0m2-217h0m0 224h0m1-195h0m0 216h0m1-86h0m0 14h0m1-101h0m0 36h0m0 94h0m2-159h0m0 15h0m0 72h0m1 14h0m0 51h0m1-152h0m0 44h0m1-73h0m0 87h0m0 58h0m0 86h0m1-151h0m0 14h0m0 7h0m0 22h0m1-72h0m0 115h0m0 51h0m6-87h0m1-144h0m0 72h0m0 87h0m0 29h0m0 50h0m1-180h0m0 166h0m8-296h0m0 368h0m1-339h0m0 93h0m0 22h0m0 101h0m0 29h0m1-310h0m0 43h0m0 50h0m0 51h0m1-65h0m0 7h0m0 29h0m0 130h0m0 123h0m1-217h0m0 22h0m0 22h0m0 57h0m1-260h0m0 130h0m1 116h0m0 36h0m1-238h0m0 72h0m1 87h0m0 79h0m1-311h0m0 44h0m0 29h0m0 57h0m0 217h0m1-260h0m0 80h0m0 7h0m0 29h0m1 122h0m1-209h0m0 354h0m1-332h0m0 94h0m0 57h0m1 123h0m1-195h0m0 51h0m0 29h0m0 72h0m1-347h0m1 7h0m1 159h0m0 145h0m1-217h0m0 130h0m0 58h0m0 50h0m0 58h0m1-260h0m0 195h0m0 7h0m1-122h0m1-130h0m0 180h0m1-101h0m0 137h0m1-216h0m0 72h0m2 29h0m0 43h0m1-36h0m0 50h0m0 44h0m2-7h0m0 72h0m1-87h0m0 36h0m1-173h0m0 87h0m0 43h0m0 65h0m2-181h0m0 166h0m1-130h0m0 22h0m1-43h0m0 29h0m0 57h0m2-122h0m0 50h0m1 58h0m1-116h0m1 87h0m0 87h0m1-159h0m0 7h0m0 130h0m2-94h0m0 174h0m1-87h0m2-36h0m0 58h0m0 7h0m1-137h0m1 79h0m0 58h0m1-80h0m0 8h0m0 28h0m1-173h0m0 210h0m0 28h0m1-202h0m0 58h0m0 22h0m1 72h0m1-159h0m0 217h0m0 21h0m1-151h0m0 57h0m0 22h0m0 94h0m1-188h0m0 22h0m0 123h0m1-166h0m0 158h0m1-166h0m0 22h0m0 58h0m0 115h0m7-231h0m0 15h0m0 50h0m0 217h0m1-296h0m0 195h0m0 188h0m0 36h0m1-311h0m0 22h0m0 21h0m0 51h0m0 195h0m1-325h0m0 43h0m0 159h0m0 7h0m1-260h0m0 210h0m1-224h0m0 94h0m0 58h0m0 7h0m1-210h0m0 22h0m0 58h0m0 22h0m0 354h0m1-477h0m0 332h0m1-130h0m0 79h0m2-130h0m1 8h0m0 57h0m0 261h0m1-419h0m0 187h0m1-245h0m0 36h0m0 152h0m0 158h0m1-332h0m0 80h0m0 115h0m0 44h0m0 72h0m1-318h0m0 130h0m1-22h0m0 123h0m0 58h0m1-231h0m0 202h0m1 123h0m1-267h0m0 50h0m0 188h0m1-108h0m0 43h0m0 22h0m0 7h0m1-174h0m0 29h0m0 101h0m0 22h0m1-79h0m0 86h0m0 102h0m1-376h0m0 65h0m1 72h0m0 22h0m0 144h0m0 22h0m1-390h0m0 137h0m0 94h0m1-144h0m0 28h0m0 174h0m1-94h0m0 137h0m0 51h0m0 7h0m0 36h0m1-325h0m1-29h0m0 94h0m1-14h0m0 93h0m0 58h0m1-36h0m1-159h0m0 22h0m0 43h0m2 195h0m1-354h0m0 246h0m0 58h0m1-246h0m0 116h0m0 122h0m1-93h0m0 79h0m1-238h0m0 151h0m0 58h0m1 87h0m1-260h0m1 65h0m0 144h0m1-202h0m0 43h0m0 58h0m1-87h0m0 109h0m0 101h0m0 29h0m1-275h0m0 109h0m1 108h0m1-29h0m1-94h0m0 101h0m0 8h0m1-152h0m0 101h0m0 22h0m1-29h0m1-130h0m1-36h0m0 195h0m1-109h0m1 80h0m0 166h0m2-405h0m0 80h0m0 94h0m0 86h0m1-216h0m0 94h0m0 166h0m1-202h0m0 43h0m1-22h0m0 80h0m0 14h0m0 152h0m1-325h0m1 21h0m0 159h0m0 36h0m0 22h0m1 7h0m0 29h0m1-159h0m0 116h0m0 43h0m1-130h0m0 15h0m0 108h0m1-289h0m0 173h0m0 44h0m1-72h0m0 57h0m0 130h0m0 15h0m1-188h0m0 303h0m1-144h0m0 43h0m1-130h0m0 51h0m1-166h0m1-123h0m0 115h0m1-101h0m0 15h0m0 43h0m1 65h0m0 51h0m1-145h0m0 202h0m0 87h0m1-296h0m0 195h0m0 144h0m0 37h0m1-138h0m0 87h0m1-267h0m0 115h0m1-231h0m0 282h0m0 29h0m0 152h0m0 65h0m1-484h0m0 137h0m0 43h0m1-130h0m0 72h0m0 87h0m0 108h0m1-151h0m0 130h0m0 29h0m1-239h0m0 65h0m0 101h0m1 22h0m0 7h0m0 65h0m0 29h0m1-282h0m0 15h0m1-36h0m0 7h0m0 137h0m1-173h0m0 72h0m1-43h0m0 224h0m1-325h0m0 130h0m0 86h0m1-50h0m0 65h0m0 65h0m1-231h0m0 137h0m0 159h0m0 137h0m1-238h0m0 14h0m1-267h0m0 318h0m0 151h0m1-173h0m0 87h0m0 50h0m1-260h0m0 195h0m0 123h0m1-274h0m0 158h0m0 29h0m1-216h0m0 14h0m0 29h0m1-79h0m0 187h0m1-209h0m0 152h0m0 7h0m1-65h0m0 101h0m0 7h0m0 22h0m1-217h0m0 29h0m0 152h0m1-123h0m0 36h0m0 36h0m0 15h0m6-29h0m1 50h0m0 58h0m1-181h0m0 94h0m1-65h0m0 152h0m1-116h0m0 87h0m0 7h0m0 116h0m1-332h0m0 101h0m1-109h0m0 152h0m0 29h0m1-137h0m0 14h0m0 181h0m1-325h0m1 274h0m0 15h0m1-333h0m0 253h0m0 15h0m2-145h0m0 123h0m0 51h0m1-224h0m0 94h0m0 36h0m0 14h0m2-65h0m0 253h0m1-181h0m0 101h0m1-245h0m0 289h0m0 65h0m1-202h0m0 50h0m0 101h0m1-318h0m0 73h0m0 43h0m0 79h0m1-151h0m0 195h0m1-22h0m0 15h0m1-94h0m0 195h0m1-268h0m0 15h0m0 43h0m0 137h0m1-166h0m0 152h0m0 65h0m1-318h0m0 210h0m0 137h0m1-318h0m0 123h0m0 36h0m1 173h0m1-346h0m0 94h0m1 158h0m1-317h0m0 346h0m0 73h0m1-347h0m0 137h0m1-202h0m0 217h0m1 14h0m0 7h0m0 22h0m0 29h0m1-217h0m0 87h0m0 144h0m2-231h0m0 51h0m0 50h0m0 137h0m1-173h0m0 29h0m0 108h0m1-130h0m0 311h0m1-354h0m0 108h0m1-209h0m0 397h0m1 51h0m1-376h0m0 22h0m0 159h0m0 166h0m1-390h0m0 274h0m0 87h0m1-188h0m0 224h0m1-238h0m0 94h0m0 7h0m0 115h0m1-303h0m0 14h0m0 130h0m2-65h0m0 80h0m0 79h0m0 36h0m1-353h0m0 209h0m0 210h0m1-326h0m0 102h0m0 130h0m1-362h0m0 174h0m1-29h0m0 43h0m0 22h0m1-43h0m0 216h0m0 44h0m1-333h0m0 8h0m0 86h0m1-159h0m0 289h0m0 15h0m0 14h0m1-296h0m0 14h0m1 87h0m0 94h0m0 43h0m0 36h0m1 65h0m1-310h0m0 202h0m0 159h0m1-260h0m0 36h0m0 181h0m1-296h0m0 43h0m0 123h0m1-8h0m0 73h0m0 43h0m1-260h0m0 7h0m0 7h0m0 174h0m1 7h0m0 43h0m1-202h0m1-58h0m0 87h0m0 58h0m0 166h0m1-289h0m0 231h0m0 51h0m1-231h0m1 65h0m0 36h0m1-65h0m1 14h0m1-130h0m0 51h0m0 108h0m0 123h0m1-130h0m0 86h0m1-310h0m0 267h0m0 15h0m2-44h0m0 123h0m1-209h0m0 14h0m0 7h0m0 123h0m1-166h0m0 87h0m0 173h0m1-253h0m1 51h0m0 195h0m1-376h0m0 246h0m1 29h0m0 65h0m0 14h0m1-347h0m0 188h0m0 318h0m1-397h0m0 202h0m1-224h0m0 7h0m0 80h0m0 130h0m1-166h0m0 274h0m1-433h0m0 274h0m0 36h0m1-281h0m0 93h0m0 217h0m2-101h0m1-87h0m0 152h0m0 159h0m1-246h0m0 36h0m0 102h0m1-181h0m0 7h0m0 174h0m0 50h0m1-173h0m0 115h0m1-86h0m1-116h0m0 58h0m0 260h0m1-173h0m0 43h0m0 50h0m0 138h0m1-253h0m0 108h0m1-267h0m0 36h0m0 173h0m1-151h0m0 86h0m0 22h0m1-152h0m0 217h0m1-267h0m0 22h0m0 101h0m0 209h0m1-339h0m0 14h0m0 166h0m1 51h0m0 14h0m0 80h0m1-217h0m0 51h0m0 209h0m0 7h0m1-339h0m0 101h0m0 14h0m1-50h0m0 72h0m0 144h0m0 37h0m1-383h0m0 94h0m0 260h0m0 14h0m1-209h0m1-123h0m1 36h0m0 173h0m0 51h0m1-195h0m0 79h0m0 101h0m1-122h0m0 144h0m1-274h0m0 43h0m0 137h0m1-14h0m0 72h0m0 72h0m0 73h0m2-297h0m0 22h0m0 29h0m1 72h0m0 15h0m0 43h0m1-65h0m0 29h0m0 101h0m1-145h0m0 102h0m1-159h0m0 43h0m0 130h0m1-282h0m0 51h0m0 22h0m0 187h0m1-173h0m0 43h0m0 159h0m1-253h0m0 65h0m1 224h0m1-390h0m0 188h0m1-101h0m0 159h0m1-123h0m0 87h0m1 86h0m0 8h0m1-15h0m0 29h0m1-224h0m0 15h0m0 151h0m1-130h0m0 145h0m1-116h0m1 72h0m1-7h0m1-43h0m0 159h0m0 14h0m1-274h0m0 72h0m1-108h0m0 36h0m0 123h0m0 14h0m1-51h0m2-43h0m0 80h0m0 21h0m0 22h0m1-123h0m0 65h0m0 94h0m1-181h0m0 58h0m0 101h0m0 22h0m1-101h0m0 14h0m0 36h0m0 22h0m1-87h0m16-115h0m0 123h0m0 7h0m0 58h0m1-195h0m0 72h0m0 50h0m0 188h0m1-274h0m0 21h0m0 58h0m0 36h0m1-108h0m0 188h0m0 7h0m0 7h0m1-238h0m0 123h0m0 50h0m0 94h0m1-137h0m0 22h0m0 7h0m0 137h0m1-376h0m0 65h0m0 217h0m1-29h0m0 123h0m0 72h0m0 44h0m1-455h0m0 65h0m0 354h0m1-304h0m0 22h0m1-94h0m0 79h0m0 8h0m0 158h0m0 37h0m1-304h0m0 166h0m0 73h0m0 93h0m0 58h0m1-267h0m1 303h0m1-209h0m0 14h0m0 22h0m1-173h0m0 231h0m0 94h0m1-210h0m0 72h0m0 15h0m0 166h0m1-433h0m0 166h0m0 151h0m0 66h0m0 21h0m1-361h0m0 79h0m0 311h0m1-383h0m0 195h0m0 36h0m0 130h0m1-245h0m0 58h0m0 108h0m1-368h0m0 195h0m0 245h0m1-368h0m0 108h0m0 29h0m0 130h0m0 94h0m1-426h0m0 94h0m0 202h0m0 79h0m1-267h0m0 108h0m0 22h0m1-224h0m0 152h0m0 58h0m0 144h0m8-224h0m1-29h0m0 116h0m0 43h0m0 116h0m1-325h0m0 36h0m0 152h0m0 7h0m0 50h0m1-130h0m0 29h0m0 58h0m1-108h0m0 29h0m0 14h0m0 43h0m1-101h0m0 22h0m2 0h0m0 180h0m1-130h0m1-36h0m0 116h0m1-123h0m0 108h0m0 8h0m1-58h0m0 108h0m2-238h0m0 50h0m0 116h0m1-166h0m0 14h0m1-36h0m0 174h0m0 43h0m1 7h0m2-166h0m0 108h0m0 29h0m1-209h0m0 130h0m1 14h0m1 101h0m2-303h0m0 159h0m0 50h0m1-43h0m0 65h0m0 15h0m1-138h0m0 22h0m0 144h0m1-252h0m0 43h0m0 14h0m0 15h0m0 87h0m1-37h0m0 51h0m1-181h0m0 37h0m0 166h0m1-174h0m0 58h0m1-123h0m0 138h0m0 166h0m1-116h0m0 137h0m0 58h0m1-289h0m0 22h0m1 137h0m1-195h0m0 231h0m1-245h0m0 130h0m0 108h0m1-14h0m1-246h0m0 7h0m0 116h0m0 14h0m1-195h0m0 145h0m1-51h0m1 22h0m0 144h0m0 22h0m1-195h0m0 159h0m0 72h0m1-79h0m1 101h0m0 57h0m1-216h0m0 29h0m0 65h0m1-181h0m0 137h0m0 188h0m1-361h0m0 108h0m1-50h0m0 101h0m1-94h0m0 253h0m1-116h0m1-260h0m0 44h0m0 252h0m1-101h0m0 51h0m0 65h0m0 29h0m1-275h0m0 7h0m0 87h0m1-115h0m0 332h0m0 108h0m1-354h0m1-7h0m0 79h0m0 123h0m0 29h0m1-296h0m0 224h0m1-65h0m1-137h0m0 101h0m0 58h0m1-239h0m0 36h0m1 188h0m0 29h0m0 22h0m1-239h0m0 138h0m0 86h0m0 22h0m0 50h0m1-325h0m1 138h0m0 21h0m0 159h0m1-29h0m1 15h0m0 36h0m1-188h0m0 51h0m1-15h0m0 44h0m0 115h0m2-130h0m1 152h0m1-109h0m0 94h0m0 65h0m1-50h0m0 7h0m1-108h0m0 50h0m0 101h0m1-267h0m1 36h0m0 145h0m1-203h0m0 116h0m1-130h0m0 87h0m0 79h0m0 22h0m1-15h0m1-36h0m0 15h0m1-123h0m0 36h0m0 224h0m1-231h0m0 58h0m1-65h0m0 173h0m1-51h0m1-101h0m0 29h0m0 181h0m1-94h0m0 58h0m1-87h0m0 43h0m0 29h0m1 29h0m0 29h0m1-238h0m1 36h0m0 7h0m0 14h0m0 15h0m0 188h0m1-94h0m1-210h0m0 159h0m1-130h0m1-14h0m0 57h0m0 224h0m1-354h0m0 51h0m0 209h0m1-72h0m0 7h0m1-151h0m1-36h0m0 166h0m0 130h0m1-267h0m0 195h0m0 14h0m1-188h0m0 44h0m0 187h0m0 22h0m1-144h0m0 108h0m0 94h0m1-296h0m0 43h0m0 94h0m0 14h0m1-72h0m1 51h0m1 57h0m1-115h0m1-94h0m0 65h0m0 14h0m1-173h0m0 80h0m0 50h0m0 101h0m1-115h0m0 202h0m1-217h0m1 29h0m0 224h0m1-130h0m0 58h0m1-109h0m0 22h0m0 130h0m1-180h0m0 144h0m1-209h0m0 130h0m0 36h0m0 115h0m1-202h0m0 116h0m0 28h0m1-252h0m0 274h0m0 22h0m0 79h0m1-72h0m1-260h0m1 144h0m0 29h0m0 58h0m1-65h0m0 137h0m1-209h0m0 217h0m0 43h0m1-137h0m1-195h0m1-109h0m0 101h0m0 22h0m0 43h0m0 8h0m1-29h0m0 65h0m0 173h0m1-159h0m0 15h0m0 173h0m1-217h0m0 87h0m0 29h0m1-43h0m6-109h0m1-29h0m0 65h0m0 94h0m0 87h0m1-311h0m0 181h0m1-116h0m0 87h0m0 108h0m1-94h0m0 87h0m0 22h0m1-145h0m0 130h0m1-216h0m0 303h0m1-383h0m0 116h0m0 108h0m0 65h0m1-224h0m0 181h0m0 79h0m0 15h0m1-390h0m0 173h0m0 51h0m1-138h0m0 195h0m0 36h0m1-209h0m0 87h0m1 65h0m0 21h0m1-216h0m0 130h0m1 79h0m1-65h0m0 130h0m1-195h0m0 101h0m0 123h0m1-209h0m0 21h0m0 145h0m1-231h0m0 216h0m1-79h0m1-137h0m0 158h0m0 73h0m2-51h0m1-137h0m0 159h0m1-123h0m0 181h0m1-123h0m0 36h0m1-210h0m0 15h0m0 144h0m1-151h0m0 86h0m1-7h0m0 58h0m1 87h0m1-102h0m0 123h0m1 29h0m0 130h0m1-339h0m0 36h0m0 79h0m1-216h0m0 86h0m0 210h0m0 43h0m1-123h0m0 15h0m0 21h0m1-180h0m0 72h0m1-101h0m0 303h0m0 36h0m1-187h0m0 137h0m0 79h0m1-289h0m0 239h0m0 72h0m1-159h0m0 36h0m0 65h0m0 116h0m1-246h0m0 123h0m1-7h0m0 50h0m1-361h0m0 51h0m0 50h0m0 166h0m1-151h0m0 14h0m0 36h0m1-108h0m0 180h0m0 109h0m0 36h0m1-267h0m0 94h0m1 7h0m1-195h0m0 166h0m1-36h0m0 108h0m0 29h0m0 58h0m1-202h0m0 187h0m2-159h0m0 58h0m1-180h0m0 50h0m1 58h0m0 43h0m0 80h0m0 21h0m1-274h0m0 405h0m1-369h0m0 65h0m0 159h0m1-274h0m0 86h0m0 130h0m0 44h0m1-268h0m0 138h0m0 231h0m1-426h0m0 231h0m0 43h0m0 173h0m1-79h0m0 72h0m1-260h0m0 65h0m1-108h0m0 29h0m1-22h0m0 116h0m0 108h0m1-275h0m0 8h0m0 122h0m0 94h0m1-224h0m1-43h0m0 253h0m0 43h0m1-267h0m0 209h0m1-144h0m0 58h0m0 137h0m1-123h0m1 109h0m1-167h0m0 37h0m1-22h0m0 65h0m0 36h0m1 36h0m0 7h0m1-195h0m1 109h0m0 21h0m0 8h0m1-159h0m0 195h0m1-116h0m1-65h0m0 87h0m0 14h0m0 87h0m2-173h0m0 137h0m1-123h0m0 14h0m1-21h0m0 86h0m1 22h0m1-72h0m0 108h0m1-166h0m0 123h0m1-173h0m1 137h0m1-65h0m0 50h0m1-65h0m0 138h0m2-181h0m0 87h0m0 43h0m1 22h0m1-210h0m0 15h0m0 137h0m0 87h0m1-232h0m0 73h0m1-58h0m0 43h0m0 137h0m1-130h0m0 58h0m0 51h0m1-123h0m0 36h0m1 29h0m0 101h0m1-289h0m0 36h0m0 217h0m1 159h0m2-376h0m0 138h0m0 50h0m0 87h0m0 86h0m1-274h0m0 253h0m1-109h0m1-223h0m0 57h0m0 44h0m0 86h0m1-231h0m0 202h0m0 130h0m1-252h0m0 137h0m1 209h0m1-187h0m0 43h0m1-188h0m0 159h0m1-253h0m0 145h0m1-138h0m0 130h0m0 22h0m0 43h0m0 94h0m1-245h0m0 130h0m0 14h0m1-79h0m0 108h0m0 43h0m1 44h0m0 21h0m2-144h0m0 51h0m0 14h0m1-123h0m0 260h0m0 36h0m0 8h0m1-318h0m0 21h0m0 29h0m1-137h0m0 289h0m0 79h0m0 58h0m1-361h0m0 123h0m0 231h0m1-376h0m0 210h0m0 65h0m1-289h0m0 238h0m0 210h0m1-441h0m0 137h0m0 232h0m1-318h0m0 224h0m1-246h0m0 58h0m0 58h0m0 65h0m0 108h0m1-332h0m0 130h0m0 108h0m0 29h0m0 108h0m1-166h0m1-101h0m0 188h0m0 43h0m1-310h0m0 65h0m0 101h0m0 123h0m1-181h0m0 166h0m1-79h0m1 21h0m0 15h0m0 21h0m0 51h0m1-325h0m0 181h0m1-65h0m0 50h0m0 108h0m2-79h0m2 29h0m0 94h0m0 43h0m1-260h0m1 202h0m1-231h0m0 65h0m0 123h0m0 108h0m1-224h0m0 15h0m0 87h0m1-210h0m0 123h0m0 50h0m1 65h0m1-151h0m0 58h0m0 108h0m2-94h0m0 144h0m1-101h0m1 15h0m0 50h0m1-224h0m0 94h0m2-65h0m0 210h0m0 36h0m1-224h0m1 94h0m0 72h0m0 43h0m0 8h0m1-296h0m0 166h0m0 29h0m0 21h0m1-123h0m0 15h0m0 43h0m1-7h0m1-137h0m1 7h0m0 101h0m0 116h0m1-195h0m0 14h0m0 87h0m1-65h0m0 123h0m1-224h0m0 43h0m1 202h0m1-58h0m0 44h0m1-239h0m0 37h0m1-58h0m0 86h0m0 239h0m1-210h0m0 44h0m0 29h0m0 115h0m0 43h0m1-202h0m0 22h0m1-166h0m0 231h0m0 58h0m1-311h0m0 58h0m0 43h0m0 116h0m2-94h0m0 231h0m1-94h0m0 80h0m0 65h0m1-412h0m0 354h0m1-289h0m0 7h0m0 145h0m1-58h0m0 21h0m0 58h0m1 15h0m0 115h0m0 101h0m1-267h0m0 159h0m0 29h0m1-354h0m0 14h0m0 289h0m1-202h0m0 173h0m1-216h0m0 21h0m0 80h0m0 108h0m0 94h0m1-347h0m0 282h0m1-180h0m0 289h0m1-419h0m0 86h0m0 15h0m0 43h0m0 159h0m1-152h0m0 58h0m0 36h0m0 101h0m1-130h0m0 15h0m1-260h0m0 14h0m0 282h0m1-282h0m0 303h0m1-238h0m0 130h0m1-159h0m0 44h0m0 72h0m1 159h0m0 57h0m0 8h0m1-369h0m0 203h0m0 57h0m1-289h0m0 195h0m0 15h0m0 72h0m1-180h0m0 7h0m0 14h0m0 253h0m1-209h0m0 144h0m0 101h0m1-267h0m0 7h0m0 36h0m0 87h0m1-159h0m0 43h0m0 188h0m1-123h0m0 36h0m1-57h0m0 7h0m0 166h0m1-137h0m0 7h0m0 79h0m9-137h0m1-86h0m0 93h0m0 87h0m1-152h0m0 87h0m1 43h0m0 22h0m1-137h0m0 87h0m2 14h0m0 7h0m0 22h0m1-123h0m1 58h0m1-29h0m0 22h0m1 79h0m1-144h0m0 137h0m0 36h0m1-188h0m0 36h0m0 15h0m1 14h0m0 80h0m1-101h0m0 57h0m0 73h0m1 0h0m1-145h0m0 101h0m0 116h0m1-130h0m0 115h0m1-231h0m1 65h0m1-108h0m0 29h0m0 86h0m0 15h0m0 137h0m1-7h0m0 36h0m1 101h0m1-383h0m0 174h0m1 65h0m0 50h0m0 36h0m0 8h0m1-145h0m0 181h0m1-434h0m0 210h0m0 72h0m1-188h0m0 22h0m0 29h0m0 159h0m1-174h0m0 65h0m0 188h0m1-397h0m0 36h0m0 159h0m1-137h0m0 173h0m0 7h0m0 65h0m1-296h0m0 94h0m0 181h0m2-37h0m0 102h0m0 7h0m0 108h0m1-253h0m0 51h0m0 72h0m1-159h0m0 7h0m1-158h0m0 137h0m0 216h0m1-173h0m0 181h0m0 58h0m0 72h0m1-448h0m0 108h0m1-58h0m0 152h0m0 101h0m0 36h0m1-289h0m0 195h0m1 131h0m1-253h0m0 50h0m0 51h0m1-260h0m0 289h0m1-159h0m0 65h0m0 130h0m1-260h0m0 202h0m0 43h0m1-65h0m0 51h0m1 65h0m0 36h0m1-354h0m0 152h0m0 29h0m0 166h0m1-202h0m0 130h0m1-109h0m0 101h0m0 65h0m1-296h0m0 7h0m0 145h0m0 130h0m1-253h0m0 65h0m0 173h0m1-317h0m0 57h0m0 195h0m0 123h0m1-303h0m1 50h0m0 37h0m0 65h0m1-188h0m1 101h0m0 101h0m0 36h0m0 72h0m1-317h0m0 86h0m0 152h0m1-7h0m1-174h0m0 44h0m1-58h0m0 29h0m0 7h0m1 94h0m0 7h0m1-22h0m1-144h0m0 130h0m1-159h0m1 210h0m1-159h0m0 86h0m0 15h0m1 7h0m0 22h0m0 57h0m1-202h0m1 36h0m1 51h0m1-15h0m1 29h0m0 87h0m0 43h0m1-94h0m1-115h0m1-43h0m0 72h0m1 7h0m0 51h0m1-94h0m0 21h0m0 174h0m1-51h0m1-137h0m1 101h0m0 51h0m1-203h0m0 101h0m1 80h0m1-108h0m0 144h0m0 36h0m1-209h0m0 36h0m0 144h0m1-289h0m0 188h0m0 181h0m1-289h0m0 94h0m1-80h0m0 137h0m1-79h0m0 51h0m1 50h0m1-65h0m1-123h0m0 152h0m1-202h0m0 65h0m1 43h0m0 145h0m0 43h0m0 29h0m1-246h0m0 145h0m0 29h0m1-239h0m0 130h0m1-7h0m0 166h0m1-347h0m0 29h0m0 51h0m0 180h0m1 109h0m1-325h0m1 101h0m0 14h0m0 123h0m0 51h0m0 29h0m1-232h0m0 51h0m0 14h0m0 145h0m1-303h0m0 130h0m0 72h0m0 50h0m1-195h0m0 15h0m0 86h0m1 29h0m1-7h0m0 58h0m0 173h0m0 22h0m1-405h0m0 15h0m0 166h0m1 166h0m0 65h0m0 7h0m1-440h0m0 274h0m1-195h0m0 253h0m0 51h0m1-275h0m0 58h0m1 87h0m0 21h0m0 7h0m0 123h0m1-361h0m0 173h0m0 181h0m1-397h0m0 72h0m0 246h0m1-224h0m0 50h0m1-188h0m0 73h0m0 21h0m0 253h0m1-137h0m0 130h0m1-166h0m0 50h0m0 174h0m1-166h0m0 28h0m0 29h0m1-130h0m0 36h0m0 73h0m0 36h0m1-22h0m1 0h0m0 108h0m1-43h0m0 22h0m1-246h0m0 145h0m0 50h0m0 152h0m1-94h0m0 36h0m0 36h0m1-303h0m0 101h0m0 144h0m1-238h0m0 65h0m1 224h0m1-282h0m0 8h0m0 14h0m0 144h0m1-187h0m0 65h0m0 159h0m1-130h0m0 79h0m1-188h0m0 282h0m1-72h0m0 43h0m1-79h0m0 72h0m0 29h0m1-210h0m0 15h0m0 50h0m1 29h0m1-65h0m0 43h0m0 15h0m1-181h0m0 145h0m1-159h0m0 87h0m0 187h0m1-180h0m0 14h0m2 137h0m1-223h0m0 252h0m1-216h0m1 14h0m1-7h0m1 79h0m0 80h0m0 14h0m1-108h0m0 65h0m0 79h0m1-245h0m0 188h0m0 195h0m1-232h0m0 181h0m1-260h0m0 65h0m0 72h0m1-202h0m0 14h0m0 29h0m0 36h0m1-72h0m0 29h0m0 130h0m1-195h0m1 145h0m1 108h0m1-65h0m1-195h0m0 101h0m1-65h0m0 7h0m0 87h0m0 43h0m1-21h0m0 101h0m1-239h0m0 87h0m0 36h0m1-58h0m0 8h0m1-152h0m0 296h0m0 43h0m1-216h0m0 122h0m0 123h0m1-137h0m0 51h0m2-232h0m0 51h0m0 79h0m1-173h0m0 58h0m0 296h0m1-332h0m0 58h0m0 187h0m1-159h0m0 80h0m0 65h0m0 43h0m1-151h0m1-152h0m0 253h0m0 137h0m1-253h0m0 65h0m0 87h0m1-311h0m0 239h0m0 195h0m0 29h0m1-456h0m1 87h0m0 94h0m0 217h0m1-123h0m0 50h0m0 73h0m1-253h0m0 50h0m0 116h0m1-253h0m0 36h0m0 159h0m1-144h0m0 231h0m0 7h0m1-137h0m0 29h0m0 43h0m0 231h0m1-325h0m0 231h0m0 94h0m1-397h0m0 116h0m1-65h0m0 209h0m1-303h0m0 14h0m1 36h0m0 36h0m0 138h0m0 93h0m1-79h0m0 14h0m0 138h0m1-22h0m0 87h0m1-412h0m0 51h0m0 93h0m0 174h0m1-304h0m0 246h0m1-181h0m0 37h0m0 108h0m1-303h0m0 317h0m0 65h0m1-202h0m0 58h0m0 14h0m1-144h0m0 58h0m0 101h0m1-195h0m0 108h0m0 29h0m0 144h0m1-368h0m0 397h0m1-50h0m1-202h0m0 36h0m2 115h0m1 72h0m2-238h0m0 181h0m1-80h0m0 94h0m1-159h0m0 51h0m0 21h0m0 22h0m1-7h0m0 36h0m1-159h0m0 65h0m0 173h0m1-209h0m1 43h0m0 73h0m2-94h0m1 72h0m0 7h0m0 58h0m0 188h0m1-477h0m0 43h0m0 73h0m1 72h0m1 115h0m1-296h0m0 87h0m0 101h0m0 22h0m0 57h0m1-137h0m1-108h0m0 58h0m0 260h0m1-268h0m0 174h0m0 21h0m1-108h0m0 145h0m1-181h0m0 72h0m0 116h0m1-253h0m0 173h0m0 29h0m0 217h0m1-506h0m0 123h0m0 159h0m1-224h0m0 145h0m0 144h0m1-318h0m0 159h0m0 123h0m0 14h0m0 22h0m1-282h0m0 87h0m0 116h0m0 195h0m1-376h0m0 144h0m9-202h0m1 51h0m0 21h0m0 174h0m0 108h0m1-217h0m0 22h0m0 43h0m0 37h0m1-224h0m0 296h0m0 21h0m1-252h0m0 57h0m0 261h0m1-369h0m0 15h0m0 72h0m0 108h0m1-94h0m9-65h0m0 44h0m0 43h0m1-123h0m0 22h0m0 274h0m0 58h0m1-116h0m0 87h0m1-339h0m0 108h0m0 130h0m0 72h0m1-159h0m0 116h0m1-202h0m0 65h0m0 274h0m1-412h0m0 188h0m0 29h0m0 181h0m1-354h0m0 29h0m0 57h0m0 181h0m1-159h0m0 80h0m1-116h0m0 87h0m0 43h0m0 51h0m1-232h0m0 102h0m0 43h0m1-116h0m0 239h0m1-58h0m0 36h0m1-318h0m0 29h0m0 7h0m0 224h0m1-94h0m0 22h0m1-181h0m0 51h0m0 253h0m0 43h0m1-159h0m0 109h0m1-195h0m0 43h0m0 79h0m1-151h0m0 216h0m1-274h0m0 152h0m0 108h0m1-36h0m2-44h0m1-144h0m0 14h0m0 22h0m0 51h0m1-22h0m1-58h0m0 65h0m0 87h0m1-51h0m0 174h0m1-152h0m0 29h0m0 50h0m2-260h0m0 195h0m0 44h0m0 14h0m1-224h0m1 152h0m1-79h0m0 122h0m1-72h0m0 22h0m0 79h0m0 15h0m1-217h0m0 87h0m0 21h0m1 123h0m1-274h0m0 72h0m0 188h0m1-195h0m0 29h0m0 21h0m0 101h0m1 58h0m1-231h0m0 58h0m1 86h0m0 51h0m1-217h0m0 36h0m0 268h0m1-130h0m0 14h0m0 58h0m1-173h0m0 144h0m1-72h0m1-181h0m0 51h0m1 43h0m0 94h0m1-173h0m0 202h0m0 108h0m1-188h0m1 15h0m0 87h0m1-80h0m0 15h0m1-109h0m0 15h0m0 115h0m0 65h0m2-137h0m0 202h0m1-21h0m0 101h0m0 21h0m1-202h0m0 87h0m1-246h0m0 145h0m1-8h0m0 65h0m0 58h0m1-216h0m0 28h0m0 51h0m0 159h0m1-318h0m0 65h0m0 58h0m1 94h0m0 202h0m1-332h0m0 123h0m0 50h0m1-296h0m0 173h0m1 22h0m0 94h0m0 101h0m1-404h0m0 101h0m0 289h0m0 21h0m1-346h0m0 216h0m0 80h0m1-246h0m0 80h0m0 144h0m1-188h0m0 181h0m0 21h0m1-375h0m0 130h0m1 50h0m0 80h0m0 43h0m0 101h0m1-180h0m0 65h0m0 79h0m1-325h0m0 123h0m0 79h0m0 102h0m1-232h0m0 152h0m0 51h0m1-296h0m0 195h0m0 216h0m8-253h0m1-14h0m0 29h0m0 36h0m0 43h0m1 210h0m1-390h0m0 72h0m0 94h0m0 36h0m1-79h0m0 72h0m0 21h0m1-65h0m1-166h0m0 145h0m1-80h0m0 58h0m1-94h0m1 217h0m1-267h0m0 14h0m0 101h0m0 15h0m1-73h0m1-79h0m0 267h0m0 58h0m0 51h0m1-289h0m0 29h0m0 173h0m0 79h0m1-173h0m0 36h0m1-65h0m0 51h0m0 36h0m1-210h0m0 51h0m0 144h0m1-173h0m0 209h0m0 8h0m1-260h0m0 303h0m1-195h0m0 43h0m0 145h0m1-289h0m0 108h0m1-86h0m0 65h0m0 72h0m0 14h0m1-224h0m0 174h0m0 115h0m1-195h0m1-21h0m0 50h0m0 152h0m0 108h0m1-274h0m0 79h0m0 72h0m3-238h0m0 224h0m1-260h0m0 79h0m0 22h0m1-116h0m0 268h0m1-181h0m0 80h0m0 65h0m0 79h0m1-166h0m0 144h0m1-101h0m0 58h0m0 7h0m0 109h0m1-311h0m0 123h0m0 36h0m0 87h0m1-232h0m0 8h0m0 332h0m0 22h0m2-289h0m0 57h0m0 145h0m0 29h0m1-44h0m1-303h0m0 101h0m0 267h0m0 73h0m1-304h0m0 101h0m0 15h0m0 14h0m1-65h0m1-216h0m0 173h0m0 123h0m0 43h0m0 87h0m1-354h0m0 29h0m0 50h0m0 159h0m1 94h0m0 65h0m1-484h0m0 101h0m0 268h0m1-123h0m0 137h0m0 29h0m1-361h0m0 188h0m0 122h0m1-144h0m0 43h0m0 87h0m0 116h0m1-391h0m0 130h0m0 123h0m0 80h0m1-296h0m0 101h0m0 187h0m1-361h0m0 145h0m0 108h0m0 36h0m1-21h0m0 14h0m1-224h0m0 29h0m1 14h0m0 22h0m0 188h0m1-303h0m0 21h0m0 137h0m0 167h0m1-145h0m0 22h0m0 137h0m1-347h0m0 239h0m1-152h0m0 43h0m0 318h0m1-397h0m0 260h0m0 79h0m1-122h0m1-195h0m0 21h0m0 195h0m0 94h0m1-390h0m0 65h0m0 94h0m1-116h0m0 289h0m0 65h0m0 65h0m1-296h0m0 65h0m1-195h0m0 181h0m0 159h0m1-231h0m0 115h0m0 29h0m0 22h0m1-123h0m2 58h0m0 108h0m1-152h0m1-72h0m0 43h0m1 152h0m0 36h0m1 22h0m1-43h0m1-65h0m0 36h0m1-44h0m1-36h0m0 15h0m0 14h0m1-108h0m0 36h0m0 29h0m0 79h0m1-151h0m0 65h0m1 72h0m1-123h0m1 58h0m1 101h0m0 36h0m2-159h0m0 65h0m0 87h0m2-174h0m1 65h0m0 15h0m0 166h0m1-311h0m0 260h0m1-296h0m0 260h0m1-43h0m0 14h0m0 102h0m1-282h0m0 36h0m0 22h0m1-138h0m0 94h0m0 87h0m0 72h0m1-144h0m0 216h0m1-353h0m0 72h0m0 115h0m0 109h0m1-94h0m0 58h0m1-102h0m1 15h0m0 72h0m0 108h0m1-361h0m1 94h0m1-115h0m0 173h0m0 51h0m1-8h0m0 87h0m0 116h0m1-210h0m0 43h0m0 102h0m0 50h0m1-339h0m0 79h0m0 116h0m0 115h0m1-224h0m0 195h0m0 58h0m1-289h0m0 174h0m0 137h0m1-412h0m0 43h0m0 29h0m0 44h0m0 36h0m1-145h0m0 87h0m2-65h0m0 137h0m0 145h0m1-80h0m0 87h0m0 50h0m1-281h0m0 72h0m1-36h0m0 137h0m0 43h0m0 51h0m1-361h0m0 14h0m0 174h0m1 115h0m1-267h0m0 209h0m0 253h0m1-433h0m0 14h0m0 246h0m0 50h0m1-317h0m0 137h0m0 65h0m0 94h0m1-137h0m0 7h0m1 65h0m0 101h0m0 79h0m1-447h0m0 72h0m0 173h0m0 22h0m1-181h0m0 7h0m0 224h0m1-166h0m0 44h0m0 57h0m1-43h0m0 79h0m1-325h0m0 159h0m0 44h0m0 202h0m1-383h0m0 159h0m0 58h0m0 94h0m0 50h0m1-303h0m0 36h0m1-43h0m0 122h0m0 37h0" style="stroke:#000000;stroke-width:18.5;stroke-linecap:round;fill:none"/></g></g>
<g id="matplotlib.axis_3">
<g id="xtick_8">
<g id="line2d_20">
<g>
<use href="#m1504cfccaf" x="117.0000" y="479.88" style="stroke: #000000; stroke-width: 0.8"/>
</g>
</g>
<g id="text_22">
<text style="font-size: 10px; font-family: 'DejaVu Sans', 'Liberation Sans', sans-serif; text-anchor: middle" x="116.64" y="494.478437" transform="rotate(-0 116.64 494.478437)">0</text>
</g>
</g>
<g id="xtick_9">
<g id="line2d_21">
<g>
<use href="#m1504cfccaf" x="257.4000" y="479.88" style="stroke: #000000; stroke-width: 0.8"/>
</g>
</g>
<g id="text_23">
<text style="font-size: 10px; font-family: 'DejaVu Sans', 'Liberation Sans', sans-serif; text-anchor: middle" x="256.92" y="494.478437" transform="rotate(-0 256.92 494.478437)">5000</text>
</g>
</g>
<g id="xtick_10">
<g id="line2d_22">
<g>
<use href="#m1504cfccaf" x="397.8000" y="479.88" style="stroke: #000000; stroke-width: 0.8"/>
</g>
</g>
<g id="text_24">
<text style="font-size: 10px; font-family: 'DejaVu Sans', 'Liberation Sans', sans-serif; text-anchor: middle" x="397.2" y="494.478437" transform="rotate(-0 397.2 494.478437)">10000</text>
</g>
</g>
<g id="xtick_11">
<g id="line2d_23">
<g>
<use href="#m1504cfccaf" x="538.2000" y="479.88" style="stroke: #000000; stroke-width: 0.8"/>
</g>
</g>
<g id="text_25">
<text style="font-size: 10px; font-family: 'DejaVu Sans', 'Liberation Sans', sans-serif; text-anchor: middle" x="537.48" y="494.478437" transform="rotate(-0 537.48 494.478437)">15000</text>
</g>
</g>
<g id="xtick_12">
<g id="line2d_24">
<g>
<use href="#m1504cfccaf" x="677.8800" y="479.88" style="stroke: #000000; stroke-width: 0.8"/>
</g>
</g>
<g id="text_26">
<text style="font-size: 10px; font-family: 'DejaVu Sans', 'Liberation Sans', sans-serif; text-anchor: middle" x="677.76" y="494.478437" transform="rotate(-0 677.76 494.478437)">20000</text>
</g>
</g>
<g id="xtick_13">
<g id="line2d_25">
<g>
<use href="#m1504cfccaf" x="818.2800" y="479.88" style="stroke: #000000; stroke-width: 0.8"/>
</g>
</g>
<g id="text_27">
<text style="font-size: 10px; font-family: 'DejaVu Sans', 'Liberation Sans', sans-serif; text-anchor: middle" x="818.04" y="494.478437" transform="rotate(-0 818.04 494.478437)">25000</text>
</g>
</g>
<g id="xtick_14">
<g id="line2d_26">
<g>
<use href="#m1504cfccaf" x="958.6800" y="479.88" style="stroke: #000000; stroke-width: 0.8"/>
</g>
</g>
<g id="text_28">
<text style="font-size: 10px; font-family: 'DejaVu Sans', 'Liberation Sans', sans-serif; text-anchor: middle" x="958.32" y="494.478437" transform="rotate(-0 958.32 494.478437)">30000</text>
</g>
</g>
</g>
<g id="matplotlib.axis_4">
<g id="ytick_8">
<g id="line2d_27">
<g>
<use href="#m5d545ce8f8" x="75.96" y="475.5600" style="stroke: #000000; stroke-width: 0.8"/>
</g>
</g>
<g id="text_29">
<text style="font-size: 10px; font-family: 'DejaVu Sans', 'Liberation Sans', sans-serif; text-anchor: end" x="68.960" y="479.251" transform="rotate(-0 68.960 479.251)">8.16</text>
</g>
</g>
<g id="ytick_9">
<g id="line2d_28">
<g>
<use href="#m5d545ce8f8" x="75.96" y="452.5200" style="stroke: #000000; stroke-width: 0.8"/>
</g>
</g>
<g id="text_30">
<text style="font-size: 10px; font-family: 'DejaVu Sans', 'Liberation Sans', sans-serif; text-anchor: end" x="68.960" y="456.139" transform="rotate(-0 68.960 456.139)">8.17</text>
</g>
</g>
<g id="ytick_10">
<g id="line2d_29">
<g>
<use href="#m5d545ce8f8" x="75.96" y="429.4800" style="stroke: #000000; stroke-width: 0.8"/>
</g>
</g>
<g id="text_31">
<text style="font-size: 10px; font-family: 'DejaVu Sans', 'Liberation Sans', sans-serif; text-anchor: end" x="68.960" y="433.027" transform="rotate(-0 68.960 433.027)">8.18</text>
</g>
</g>
<g id="ytick_11">
<g id="line2d_30">
<g>
<use href="#m5d545ce8f8" x="75.96" y="406.4400" style="stroke: #000000; stroke-width: 0.8"/>
</g>
</g>
<g id="text_32">
<text style="font-size: 10px; font-family: 'DejaVu Sans', 'Liberation Sans', sans-serif; text-anchor: end" x="68.960" y="409.915" transform="rotate(-0 68.960 409.915)">8.19</text>
</g>
</g>
<g id="ytick_12">
<g id="line2d_31">
<g>
<use href="#m5d545ce8f8" x="75.96" y="383.4000" style="stroke: #000000; stroke-width: 0.8"/>
</g>
</g>
<g id="text_33">
<text style="font-size: 10px; font-family: 'DejaVu Sans', 'Liberation Sans', sans-serif; text-anchor: end" x="68.960" y="386.803" transform="rotate(-0 68.960 386.803)">8.20</text>
</g>
</g>
<g id="ytick_13">
<g id="line2d_32">
<g>
<use href="#m5d545ce8f8" x="75.96" y="360.3600" style="stroke: #000000; stroke-width: 0.8"/>
</g>
</g>
<g id="text_34">
<text style="font-size: 10px; font-family: 'DejaVu Sans', 'Liberation Sans', sans-serif; text-anchor: end" x="68.960" y="363.691" transform="rotate(-0 68.960 363.691)">8.21</text>
</g>
</g>
<g id="ytick_14">
<g id="line2d_33">
<g>
<use href="#m5d545ce8f8" x="75.96" y="337.3200" style="stroke: #000000; stroke-width: 0.8"/>
</g>
</g>
<g id="text_35">
<text style="font-size: 10px; font-family: 'DejaVu Sans', 'Liberation Sans', sans-serif; text-anchor: end" x="68.960" y="340.579" transform="rotate(-0 68.960 340.579)">8.22</text>
</g>
</g>
<g id="ytick_15">
<g id="line2d_34">
<g>
<use href="#m5d545ce8f8" x="75.96" y="314.2800" style="stroke: #000000; stroke-width: 0.8"/>
</g>
</g>
<g id="text_36">
<text style="font-size: 10px; font-family: 'DejaVu Sans', 'Liberation Sans', sans-serif; text-anchor: end" x="68.960" y="317.467" transform="rotate(-0 68.960 317.467)">8.23</text>
</g>
</g>
<g id="ytick_16">
<g id="line2d_35">
<g>
<use href="#m5d545ce8f8" x="75.96" y="290.5200" style="stroke: #000000; stroke-width: 0.8"/>
</g>
</g>
<g id="text_37">
<text style="font-size: 10px; font-family: 'DejaVu Sans', 'Liberation Sans', sans-serif; text-anchor: end" x="68.960" y="294.355" transform="rotate(-0 68.960 294.355)">8.24</text>
</g>
</g>
</g>
<g id="patch_10">
<path d="M 75.96 479.88
L 75.96 273.96
" style="fill: none; stroke: #000000; stroke-width: 0.8; stroke-linejoin: miter; stroke-linecap: square"/>
</g>
<g id="patch_11">
<path d="M 1069.56 479.88
L 1069.56 273.96
" style="fill: none; stroke: #000000; stroke-width: 0.8; stroke-linejoin: miter; stroke-linecap: square"/>
</g>
<g id="patch_12">
<path d="M 75.96 479.88
L 1069.56 479.88
" style="fill: none; stroke: #000000; stroke-width: 0.8; stroke-linejoin: miter; stroke-linecap: square"/>
</g>
<g id="patch_13">
<path d="M 75.96 273.96
L 1069.56 273.96
" style="fill: none; stroke: #000000; stroke-width: 0.8; stroke-linejoin: miter; stroke-linecap: square"/>
</g>
<g id="text_38">
<text style="font-size: 10px; font-family: 'DejaVu Sans', 'Liberation Sans', sans-serif; text-anchor: middle" x="394.2" y="472.932" transform="rotate(-0 394.2 472.932)">9406</text>
</g>
<g id="text_39">
<text style="font-size: 10px; font-family: 'DejaVu Sans', 'Liberation Sans', sans-serif; text-anchor: middle" x="804.96" y="458.496" transform="rotate(-0 804.96 458.496)">9254</text>
</g>
<g id="text_40">
<text style="font-size: 12px; font-family: 'DejaVu Sans', 'Liberation Sans', sans-serif; text-anchor: middle" x="572.76" y="267.96" transform="rotate(-0 572.76 267.96)">Magnitude Estimates</text>
</g>
<g id="legend_3">
<g id="patch_14">
<path d="M 984.76 313.736562
L 1062.56 313.736562
Q 1064.56 313.736562 1064.56 311.736562
L 1064.56 280.96
Q 1064.56 278.96 1062.56 278.96
L 984.76 278.96
Q 982.76 278.96 982.76 280.96
L 982.76 311.736562
Q 982.76 313.736562 984.76 313.736562
z
" style="fill: #ffffff; opacity: 0.8; stroke: #cccccc; stroke-linejoin: miter"/>
</g>
<g id="line2d_36">
<path d="M 987.26 287.558437
L 997.26 287.558437
L 1007.26 287.558437
" style="fill: none; stroke: #ffa500; stroke-width: 2; stroke-linecap: square"/>
</g>
<g id="text_41">
<g transform="translate(1015.26 291.058437)">
<text>
<tspan x="0" y="-0.40625" style="font-size: 10px; font-family: 'DejaVu Sans', 'Liberation Sans', sans-serif">m</tspan>
<tspan x="9.741211" y="-0.40625" style="font-size: 10px; font-family: 'DejaVu Sans', 'Liberation Sans', sans-serif">a</tspan>
<tspan x="15.869141" y="-0.40625" style="font-size: 10px; font-family: 'DejaVu Sans', 'Liberation Sans', sans-serif">g</tspan>
<tspan x="22.3125" y="1.234375" style="font-style: oblique; font-size: 7px; font-family: 'DejaVu Sans', 'Liberation Sans', sans-serif">O</tspan>
<tspan x="27.822266" y="1.234375" style="font-style: oblique; font-size: 7px; font-family: 'DejaVu Sans', 'Liberation Sans', sans-serif">B</tspan>
<tspan x="32.624512" y="1.234375" style="font-style: oblique; font-size: 7px; font-family: 'DejaVu Sans', 'Liberation Sans', sans-serif">S</tspan>
<tspan x="37.067871" y="1.234375" style="font-style: oblique; font-size: 7px; font-family: 'DejaVu Sans', 'Liberation Sans', sans-serif">I</tspan>
<tspan x="39.132324" y="1.234375" style="font-style: oblique; font-size: 7px; font-family: 'DejaVu Sans', 'Liberation Sans', sans-serif">D</tspan>
</text>
</g>
</g>
<g id="line2d_37">
<path d="M 987.26 303.656875
L 997.26 303.656875
L 1007.26 303.656875
" style="fill: none; stroke: #ff0000; stroke-width: 1.5; stroke-linecap: square"/>
</g>
<g id="text_42">
<text style="font-size: 10px; font-family: 'DejaVu Sans', 'Liberation Sans', sans-serif; text-anchor: start" x="1015.26" y="307.156875" transform="rotate(-0 1015.26 307.156875)">mag</text>
</g>
</g>
<g id="legend_4">
<g id="patch_15">
<path d="M 972.911563 474.88
L 1062.56 474.88
Q 1064.56 474.88 1064.56 472.88
L 1064.56 444.16375
Q 1064.56 442.16375 1062.56 442.16375
L 972.911563 442.16375
Q 970.911563 442.16375 970.911563 444.16375
L 970.911563 472.88
Q 970.911563 474.88 972.911563 474.88
z
" style="fill: #ffffff; opacity: 0.8; stroke: #cccccc; stroke-linejoin: miter"/>
</g>
<g id="PathCollection_4">
<g>
<use href="#mf4ef88f435" x="984.911563" y="451.137187" style="fill: #ffa500; stroke: #ffa500"/>
</g>
</g>
<g id="text_43">
<text style="font-size: 10px; font-family: 'DejaVu Sans', 'Liberation Sans', sans-serif; text-anchor: start" x="1002.911563" y="453.762187" transform="rotate(-0 1002.911563 453.762187)">Highlighted</text>
</g>
<g id="PathCollection_5">
<g>
<use href="#mc9ae42cd01" x="984.911563" y="466.175312" style="stroke: #000000"/>
</g>
</g>
<g id="text_44">
<text style="font-size: 10px; font-family: 'DejaVu Sans', 'Liberation Sans', sans-serif; text-anchor: start" x="1002.911563" y="468.800312" transform="rotate(-0 1002.911563 468.800312)">OK</text>
</g>
</g>
<g id="FillBetweenPolyCollection_1">
<defs>
<path id="m0fb13f5050" d="M 116.64 -386.28
L 116.64 -357.48
L 671.76 -357.48
L 671.76 -386.28
L 671.76 -386.28
L 116.64 -386.28
z
" style="stroke: #ffa500; stroke-opacity: 0.1"/>
</defs>
<g clip-path="url(#p513e1b9102)">
<use href="#m0fb13f5050" x="0" y="756" style="fill: #ffa500; fill-opacity: 0.1; stroke: #ffa500; stroke-opacity: 0.1"/>
</g>
</g>
<g id="FillBetweenPolyCollection_2">
<defs>
<path id="m8477de11df" d="M 671.76 -407.16
L 671.76 -378.36
L 938.16 -378.36
L 938.16 -407.16
L 938.16 -407.16
L 671.76 -407.16
z
" style="stroke: #ffa500; stroke-opacity: 0.1"/>
</defs>
<g clip-path="url(#p513e1b9102)">
<use href="#m8477de11df" x="0" y="756" style="fill: #ffa500; fill-opacity: 0.1; stroke: #ffa500; stroke-opacity: 0.1"/>
</g>
</g>
<g id="FillBetweenPolyCollection_3">
<defs>
<path id="me9e7f50b37" d="M 73.1544 -396.36
L 73.1544 -362.52
L 979.776 -362.52
L 979.776 -396.36
L 979.776 -396.36
L 73.1544 -396.36
z
" style="stroke: #ff0000; stroke-opacity: 0.1"/>
</defs>
<g clip-path="url(#p513e1b9102)">
<use href="#me9e7f50b37" x="0" y="756" style="fill: #ff0000; fill-opacity: 0.1; stroke: #ff0000; stroke-opacity: 0.1"/>
</g>
</g>
<g id="line2d_38">
<path d="M 116.64 384.12
L 671.76 384.12
" clip-path="url(#p513e1b9102)" style="fill: none; stroke: #ffa500; stroke-width: 2; stroke-linecap: square"/>
</g>
<g id="line2d_39">
<path d="M 671.76 363.24
L 938.16 363.24
" clip-path="url(#p513e1b9102)" style="fill: none; stroke: #ffa500; stroke-width: 2; stroke-linecap: square"/>
</g>
<g id="line2d_40">
<path d="M 73.1544 376.56
L 979.776 376.56
" clip-path="url(#p513e1b9102)" style="fill: none; stroke: #ff0000; stroke-width: 1.5; stroke-linecap: square"/>
</g>
<g id="line2d_41">
<path d="M 116.6400 479.88
L 116.6400 273.96
" clip-path="url(#p513e1b9102)" style="fill: none; stroke-dasharray: 1.5,2.475; stroke-dashoffset: 0; stroke: #800080; stroke-width: 1.5"/>
</g>
<g id="line2d_42">
<path d="M 671.7600 479.88
L 671.7600 273.96
" clip-path="url(#p513e1b9102)" style="fill: none; stroke-dasharray: 1.5,2.475; stroke-dashoffset: 0; stroke: #800080; stroke-width: 1.5"/>
</g>
<g id="line2d_43">
<path d="M 938.1600 479.88
L 938.1600 273.96
" clip-path="url(#p513e1b9102)" style="fill: none; stroke-dasharray: 1.5,2.475; stroke-dashoffset: 0; stroke: #800080; stroke-width: 1.5"/>
</g>
</g>
<g id="axes_3">
<g id="patch_16">
<path d="M 75.96 687.24
L 1069.56 687.24
L 1069.56 522.36
L 75.96 522.36
z
" style="fill: #ffffff"/>
</g>
<g transform="scale(0.1440)"><g clip-path="url(#c3)"><path d="M890 4285h0m0 163h0m512-163h0m0 163h0m342-163h0m0 163h0m492-163h0m0 163h0m206-163h0m0 163h0m34-163h0m0 163h0m308-163h0m0 163h0m118-163h0m0 163h0m128-163h0m0 163h0m200-163h0m0 163h0m480-163h0m0 163h0m46-163h0m0 163h0m486-163h0m0 163h0m299-654h0m1 0h0m1 0h0m1 0h0m1 0h0m1 0h0m1 0h0m1 0h0m1 0h0m1 0h0m1 0h0m1 0h0m1 0h0m1 0h0m1 0h0m1 0h0m1 0h0m1 0h0m1 0h0m1 0h0m1 0h0m1 0h0m1 0h0m1 0h0m1 0h0m1 0h0m1 0h0m1 0h0m1 0h0m1 0h0m1 0h0m1 0h0m1 0h0m1 0h0m1 0h0m1 0h0m1 0h0m1 0h0m1 0h0m1 0h0m1 0h0m1 0h0m1 0h0m1 0h0m1 0h0m1 0h0m1 0h0m1 0h0m1 0h0m1 0h0m1 0h0m1 0h0m1 0h0m1 0h0m1 0h0m1 0h0m1 0h0m1 0h0m1 0h0m1 0h0m1 0h0m1 0h0m1 0h0m1 0h0m1 0h0m1 0h0m1 0h0m1 0h0m1 0h0m1 0h0m1 0h0m1 0h0m1 0h0m1 0h0m1 0h0m1 0h0m1 0h0m1 0h0m1 0h0m1 0h0m1 0h0m1 0h0m1 0h0m1 0h0m1 0h0m1 0h0m1 0h0m1 0h0m1 0h0m1 0h0m1 0h0m1 0h0m1 0h0m1 0h0m1 0h0m1 0h0m16 491h0m0 163h0m13-654h0m161 491h0m0 163h0m18-163h0m0 163h0m110-163h0m0 163h0m454-163h0m0 163h0m758-163h0m0 163h0m100-163h0m0 163h0m240-163h0m0 163h0" style="stroke:#000000;stroke-width:14.5;stroke-linecap:round;fill:none"/></g></g>
<g id="matplotlib.axis_5">
<g id="xtick_15"/>
<g id="xtick_16"/>
<g id="xtick_17"/>
<g id="xtick_18"/>
<g id="xtick_19"/>
<g id="xtick_20"/>
<g id="xtick_21"/>
</g>
<g id="matplotlib.axis_6">
<g id="ytick_17">
<g id="line2d_44">
<path d="M 75.96 663.4800
L 1069.56 663.4800
" clip-path="url(#p5109add521)" style="fill: none; stroke-dasharray: 0.8,1.32; stroke-dashoffset: 0; stroke: #b0b0b0; stroke-width: 0.8"/>
</g>
<g id="line2d_45">
<g>
<use href="#m5d545ce8f8" x="75.96" y="663.4800" style="stroke: #000000; stroke-width: 0.8"/>
</g>
</g>
<g id="text_45">
<text style="font-size: 10px; font-family: 'DejaVu Sans', 'Liberation Sans', sans-serif; text-anchor: end" x="68.96" y="667.927219" transform="rotate(-0 68.96 667.927219)">OBS not OK</text>
</g>
</g>
<g id="ytick_18">
<g id="line2d_46">
<path d="M 75.96 640.4400
L 1069.56 640.4400
" clip-path="url(#p5109add521)" style="fill: none; stroke-dasharray: 0.8,1.32; stroke-dashoffset: 0; stroke: #b0b0b0; stroke-width: 0.8"/>
</g>
<g id="line2d_47">
<g>
<use href="#m5d545ce8f8" x="75.96" y="640.4400" style="stroke: #000000; stroke-width: 0.8"/>
</g>
</g>
<g id="text_46">
<text style="font-size: 10px; font-family: 'DejaVu Sans', 'Liberation Sans', sans-serif; text-anchor: end" x="68.96" y="644.383219" transform="rotate(-0 68.96 644.383219)">dr &gt; 5</text>
</g>
</g>
<g id="ytick_19">
<g id="line2d_48">
<path d="M 75.96 616.6800
L 1069.56 616.6800
" clip-path="url(#p5109add521)" style="fill: none; stroke-dasharray: 0.8,1.32; stroke-dashoffset: 0; stroke: #b0b0b0; stroke-width: 0.8"/>
</g>
<g id="line2d_49">
<g>
<use href="#m5d545ce8f8" x="75.96" y="616.6800" style="stroke: #000000; stroke-width: 0.8"/>
</g>
</g>
<g id="text_47">
<text style="font-size: 10px; font-family: 'DejaVu Sans', 'Liberation Sans', sans-serif; text-anchor: end" x="68.96" y="620.839219" transform="rotate(-0 68.96 620.839219)">Ion. rad.</text>
</g>
</g>
<g id="ytick_20">
<g id="line2d_50">
<path d="M 75.96 592.9200
L 1069.56 592.9200
" clip-path="url(#p5109add521)" style="fill: none; stroke-dasharray: 0.8,1.32; stroke-dashoffset: 0; stroke: #b0b0b0; stroke-width: 0.8"/>
</g>
<g id="line2d_51">
<g>
<use href="#m5d545ce8f8" x="75.96" y="592.9200" style="stroke: #000000; stroke-width: 0.8"/>
</g>
</g>
<g id="text_48">
<text style="font-size: 10px; font-family: 'DejaVu Sans', 'Liberation Sans', sans-serif; text-anchor: end" x="68.96" y="597.295219" transform="rotate(-0 68.96 597.295219)">Sat. pixel.</text>
</g>
</g>
<g id="ytick_21">
<g id="line2d_52">
<path d="M 75.96 569.8800
L 1069.56 569.8800
" clip-path="url(#p5109add521)" style="fill: none; stroke-dasharray: 0.8,1.32; stroke-dashoffset: 0; stroke: #b0b0b0; stroke-width: 0.8"/>
</g>
<g id="line2d_53">
<g>
<use href="#m5d545ce8f8" x="75.96" y="569.8800" style="stroke: #000000; stroke-width: 0.8"/>
</g>
</g>
<g id="text_49">
<text style="font-size: 10px; font-family: 'DejaVu Sans', 'Liberation Sans', sans-serif; text-anchor: end" x="68.96" y="573.751219" transform="rotate(-0 68.96 573.751219)">not track</text>
</g>
</g>
<g id="ytick_22">
<g id="line2d_54">
<path d="M 75.96 546.1200
L 1069.56 546.1200
" clip-path="url(#p5109add521)" style="fill: none; stroke-dasharray: 0.8,1.32; stroke-dashoffset: 0; stroke: #b0b0b0; stroke-width: 0.8"/>
</g>
<g id="line2d_55">
<g>
<use href="#m5d545ce8f8" x="75.96" y="546.1200" style="stroke: #000000; stroke-width: 0.8"/>
</g>
</g>
<g id="text_50">
<text style="font-size: 10px; font-family: 'DejaVu Sans', 'Liberation Sans', sans-serif; text-anchor: end" x="68.96" y="550.207219" transform="rotate(-0 68.96 550.207219)">not Kalman</text>
</g>
</g>
</g>
<g id="patch_17">
<path d="M 75.96 687.24
L 75.96 522.36
" style="fill: none; stroke: #000000; stroke-width: 0.8; stroke-linejoin: miter; stroke-linecap: square"/>
</g>
<g id="patch_18">
<path d="M 1069.56 687.24
L 1069.56 522.36
" style="fill: none; stroke: #000000; stroke-width: 0.8; stroke-linejoin: miter; stroke-linecap: square"/>
</g>
<g id="patch_19">
<path d="M 75.96 687.24
L 1069.56 687.24
" style="fill: none; stroke: #000000; stroke-width: 0.8; stroke-linejoin: miter; stroke-linecap: square"/>
</g>
<g id="patch_20">
<path d="M 75.96 522.36
L 1069.56 522.36
" style="fill: none; stroke: #000000; stroke-width: 0.8; stroke-linejoin: miter; stroke-linecap: square"/>
</g>
<g id="line2d_56">
<path d="M 116.6400 687.24
L 116.6400 522.36
" clip-path="url(#p5109add521)" style="fill: none; stroke-dasharray: 1.5,2.475; stroke-dashoffset: 0; stroke: #800080; stroke-width: 1.5"/>
</g>
<g id="line2d_57">
<path d="M 671.7600 687.24
L 671.7600 522.36
" clip-path="url(#p5109add521)" style="fill: none; stroke-dasharray: 1.5,2.475; stroke-dashoffset: 0; stroke: #800080; stroke-width: 1.5"/>
</g>
<g id="line2d_58">
<path d="M 938.1600 687.24
L 938.1600 522.36
" clip-path="url(#p5109add521)" style="fill: none; stroke-dasharray: 1.5,2.475; stroke-dashoffset: 0; stroke: #800080; stroke-width: 1.5"/>
</g>
</g>
<g id="axes_4">
<g id="patch_21">
<path d="M 75.96 728.28
L 1069.56 728.28
L 1069.56 687.24
L 75.96 687.24
z
" style="fill: #ffffff"/>
</g>
<g transform="scale(0.1440)"><g clip-path="url(#c4)"><path d="M810 5045h0m1-4h0m0 5h0m3-8h0m1 10h0m4-11h0m0 11h0m4 0h0m2-10h0m4 10h0m3-11h0m3 10h0m3-8h0m0 9h0m7-12h0m1 11h0m6-10h0m1 11h0m5-1h0m1-10h0m2 11h0m5-11h0m0 10h0m4-10h0m1 10h0m4 1h0m4-10h0m2 9h0m2 1h0m6-11h0m2 11h0m7-11h0m2 10h0m6 1h0m1-11h0m6 2h0m0 8h0m6 1h0m2-9h0m4 9h0m4-10h0m0 9h0m3-11h0m3-1h0m0 12h0m3 1h0m5-12h0m0 12h0m5 0h0m5-12h0m1 11h0m1-11h0m5 12h0m2-11h0m3 11h0m3-24h0m2 13h0m1 10h0m3-11h0m2 11h0m6 1h0m1-13h0m4 12h0m3-9h0m2 10h0m1-10h0m3 10h0m3-1h0m5-9h0m1 0h0m1 10h0m4-8h0m1 8h0m3-1h0m2-7h0m3 8h0m4-11h0m1 11h0m2-11h0m4 11h0m5 0h0m3-11h0m4 11h0m6-10h0m0 9h0m1-9h0m3 10h0m4-10h0m4 9h0m3-11h0m2-11h0m0 23h0m7-12h0m1 11h0m6 1h0m2-10h0m6 9h0m4-9h0m0 9h0m6 1h0m2-11h0m4 10h0m1-8h0m2 8h0m4 1h0m3-12h0m1 11h0m5 0h0m2-9h0m4 0h0m0 10h0m5-8h0m0 8h0m5-1h0m2-7h0m3-3h0m1 11h0m2-12h0m3 3h0m1 8h0m5 0h0m3-10h0m3 11h0m5-10h0m0 9h0m3 0h0m5-9h0m1 10h0m4-10h0m1 10h0m8-11h0m0 10h0m3 1h0m2-9h0m5 9h0m3-12h0m1 12h0m5 0h0m1-13h0m2 13h0m6-10h0m1 9h0m3-8h0m2 9h0m5-10h0m4 9h0m3 0h0m3-11h0m2 11h0m5-8h0m2 8h0m4 1h0m1-12h0m4 12h0m3-10h0m3 9h0m3-9h0m2 9h0m4 1h0m1-10h0m3 10h0m3-11h0m3 11h0m2-10h0m1 10h0m5-13h0m2 13h0m5-1h0m2-10h0m4 11h0m3-10h0m3 10h0m2-12h0m1 12h0m1-11h0m3 2h0m3 8h0m5 1h0m3-9h0m2 9h0m3-1h0m1-8h0m6 9h0m1-11h0m4 10h0m2-9h0m5 10h0m3-10h0m3 1h0m1 9h0m3-9h0m0 9h0m4-9h0m1 9h0m3-1h0m3-8h0m2 9h0m1-10h0m3 9h0m5-7h0m1 8h0m5-13h0m2 13h0m6-1h0m5-9h0m1 10h0m3-12h0m1 11h0m3 0h0m3-10h0m5 0h0m1 11h0m3-9h0m1 8h0m6-8h0m0 8h0m5 0h0m2-9h0m1 0h0m2 10h0m3 0h0m5-1h0m1 1h0m1-12h0m5 12h0m3-11h0m4 10h0m4-10h0m1 11h0m3-8h0m3 8h0m5-11h0m1 10h0m6 1h0m2-12h0m1 12h0m5 0h0m1-9h0m3 8h0m5-9h0m0 9h0m4-10h0m4 11h0m4-7h0m3 7h0m3-9h0m1 8h0m4 0h0m3-6h0m2 7h0m2-9h0m4 9h0m5-10h0m1 10h0m4-8h0m3 8h0m2 0h0m3-10h0m6-1h0m0 11h0m4-37h0m3 36h0m2-9h0m1-1h0m1 10h0m6 1h0m3-11h0m1 10h0m2-9h0m2 9h0m5-8h0m2 9h0m5-16h0m2 15h0m1-4h0m3 5h0m1-11h0m7 10h0m5 1h0m2-10h0m1-1h0m2 11h0m3-10h0m5 9h0m2-9h0m0 9h0m4-10h0m1 11h0m5-13h0m3 11h0m2-7h0m4 8h0m5-8h0m1 8h0m2-8h0m5 9h0m1-7h0m4 7h0m3-17h0m1 11h0m2 5h0m2 0h0m4-8h0m2 9h0m3-1h0m5-9h0m1 10h0m4-10h0m2-1h0m0 11h0m5-1h0m2-8h0m6 8h0m2 0h0m1-12h0m6 2h0m0 10h0m6 1h0m2-9h0m1 9h0m5-30h0m1 30h0m3-10h0m3 10h0m5-10h0m4 10h0m4 0h0m4-10h0m3 9h0m4-12h0m1 12h0m2-9h0m6 9h0m1-10h0m3 10h0m3-9h0m2 10h0m3-1h0m3-10h0m3 10h0m2-8h0m0 9h0m6-1h0m1-9h0m4 10h0m2-9h0m4-1h0m2 9h0m4-10h0m1 0h0m2 11h0m4-10h0m1 9h0m2 1h0m1-10h0m5 0h0m1 9h0m5-11h0m1 12h0m6-1h0m3-9h0m3 10h0m4 0h0m4-10h0m1 10h0m3-11h0m2 11h0m3 0h0m5-9h0m2 8h0m2-10h0m5 10h0m1-9h0m0 9h0m6-11h0m1 11h0m7 1h0m2-10h0m6 10h0m1-11h0m1 11h0m5-10h0m4 10h0m4-9h0m1 9h0m4-11h0m3 11h0m1-11h0m6-2h0m1 13h0m5-1h0m2-8h0m4 8h0m2 0h0m4-8h0m2 9h0m4-9h0m2 9h0m2-10h0m6 10h0m6-12h0m4 3h0m0 9h0m2-1h0m7 1h0m2-9h0m0 9h0m4-15h0m2 15h0m5-12h0m2 11h0m5 0h0m1-9h0m4 10h0m4-9h0m1 9h0m2-1h0m6-10h0m0 11h0m8-1h0m4-10h0m4 11h0m5-12h0m0 11h0m7 1h0m2 0h0m2-10h0m4 0h0m1 9h0m4 0h0m4-7h0m2 8h0m3-9h0m1 9h0m6 0h0m1-9h0m2 0h0m5 1h0m1 7h0m5 1h0m1-8h0m3-1h0m4 9h0m1-8h0m5 8h0m3-9h0m3-2h0m0 10h0m4-8h0m1 9h0m6 0h0m4-9h0m2 8h0m4 0h0m4-11h0m2 11h0m5 0h0m1-9h0m3 9h0m4-8h0m1 8h0m5-9h0m0 10h0m5 0h0m1-9h0m4-1h0m0 9h0m4 1h0m3-10h0m2 9h0m7-8h0m3 9h0m3-10h0m1 10h0m8-1h0m2-11h0m1 11h0m5-10h0m1 11h0m1-11h0m6 11h0m3-9h0m3 9h0m3-10h0m1 0h0m3 9h0m3-8h0m0 8h0m5-8h0m1 9h0m4 0h0m1-10h0m3 10h0m1-11h0m2 1h0m4 10h0m4-11h0m6 9h0m1-10h0m6 11h0m3-13h0m3 14h0m3-10h0m3-10h0m1 20h0m5-10h0m1 10h0m4 0h0m4-11h0m4 1h0m0 10h0m6-10h0m2 10h0m4-9h0m3 8h0m4-11h0m2 12h0m5 0h0m2-10h0m1 10h0m3-10h0m4 10h0m4-9h0m2 9h0m4-10h0m2 10h0m2-11h0m3 11h0m3-13h0m2 13h0m7 0h0m3-12h0m3 12h0m1-10h0m5 1h0m1 8h0m4 1h0m4 0h0m1-13h0m3-1h0m2 14h0m3-11h0m3 10h0m3-11h0m2 11h0m5-7h0m2 8h0m4-8h0m2 7h0m3-11h0m2 11h0m4-9h0m1 9h0m4-10h0m1 11h0m2 0h0m5-9h0m4 9h0m1-9h0m3 9h0m5-13h0m1 12h0m4-8h0m3 8h0m4 1h0m3-11h0m1-2h0m2 12h0m4-13h0m1 13h0m3-9h0m2 9h0m6-8h0m1 9h0m3 0h0m4-13h0m1 0h0m3 13h0m3-10h0m3 10h0m3-1h0m3-8h0m2 8h0m1-11h0m6 12h0m3-9h0m5-1h0m0 10h0m5-9h0m3 9h0m2-10h0m4 10h0m1-11h0m5 1h0m1 10h0m6 0h0m2-11h0m3 11h0m3-10h0m1 9h0m9-11h0m1 11h0m5-10h0m1 10h0m6 0h0m1-10h0m1 11h0m5-11h0m1 10h0m6 0h0m2-10h0m2 10h0m1-10h0m6 11h0m3-15h0m0 14h0m7-9h0m0 9h0m2 1h0m6-9h0m0 9h0m4 0h0m2-12h0m7 11h0m1-10h0m4 10h0m1-9h0m3 10h0m3-9h0m2 9h0m4-10h0m2 9h0m4 0h0m3-11h0m3 1h0m0 10h0m5 0h0m3-5h0m2 5h0m3-15h0m3 7h0m0 9h0m4 0h0m5-10h0m1 9h0m5-10h0m0 11h0m1-11h0m4 11h0m6 0h0m1-15h0m2 9h0m0 6h0m6-3h0m3 3h0m3-15h0m2 14h0m2-9h0m4 9h0m1-11h0m4 11h0m5-9h0m1 9h0m5-8h0m1 8h0m5 0h0m1-11h0m3 11h0m2-11h0m4 12h0m1-11h0m3 2h0m4 9h0m3-9h0m2 9h0m2-10h0m4 9h0m4 0h0m1-9h0m4 9h0m4-13h0m0 10h0m1 3h0m6 0h0m2 0h0m3-9h0m5 10h0m4-11h0m4 1h0m1 10h0m6 0h0m2-10h0m4 10h0m5-1h0m3-9h0m4 9h0m2 0h0m5-11h0m2 12h0m6-10h0m1-2h0m0 11h0m6 1h0m1-12h0m1 1h0m5 10h0m1 1h0m5 0h0m1-10h0m5 10h0m1-11h0m1 0h0m2 10h0m9-8h0m0 9h0m7 0h0m1-10h0m4 10h0m3-10h0m2 9h0m2 1h0m1-8h0m5 7h0m2 0h0m2-11h0m2 12h0m4-10h0m1 9h0m6-12h0m2 13h0m5-11h0m0 11h0m6-10h0m3 10h0m2-11h0m3 11h0m6-11h0m3 11h0m2-9h0m0 8h0m6-9h0m0 9h0m5 1h0m3-11h0m2 10h0m4-11h0m2 12h0m1-11h0m2 11h0m7-11h0m2 10h0m6-10h0m0 10h0m3 1h0m4-13h0m1 9h0m0 3h0m9 0h0m1-10h0m1 1h0m6 10h0m2-10h0m5 9h0m1-11h0m6 12h0m6-12h0m0 12h0m7 0h0m4-11h0m2 10h0m1-10h0m2 10h0m6-9h0m1 9h0m3 0h0m3-10h0m2 11h0m4-1h0m3-12h0m1 12h0m3 0h0m1-8h0m3 8h0m6-9h0m0 9h0m6 0h0m3 1h0m1-14h0m2 1h0m4 12h0m1-9h0m7 10h0m4-11h0m3 10h0m1-10h0m4 11h0m3-9h0m3 9h0m6-10h0m2 10h0m3 0h0m4 0h0m3-12h0m1 12h0m3-10h0m5 10h0m1-11h0m8 11h0m2-12h0m5 12h0m2-8h0m6 7h0m2-9h0m3-2h0m0 11h0m5 1h0m6-8h0m0 8h0m1 0h0m7-12h0m2 12h0m5 0h0m1-11h0m3 1h0m2 10h0m6-10h0m0 10h0m3-1h0m2-9h0m3 10h0m1-9h0m4 8h0m4 1h0m3-13h0m4 12h0m7-6h0m2-11h0m0 17h0m6 0h0m3 1h0m1-10h0m5 2h0m0 7h0m5 1h0m3-10h0m2 9h0m6-11h0m0 11h0m5 0h0m5-8h0m1 9h0m4 0h0m4-12h0m3 11h0m2 0h0m1-9h0m6 1h0m2 8h0m2-8h0m3 9h0m3-12h0m5 11h0m3-10h0m4 2h0m1 9h0m5 0h0m3-9h0m4 1h0m0 8h0m3-1h0m2-7h0m4 7h0m4-8h0m3 9h0m2-12h0m4 11h0m2 1h0m5-10h0m0 10h0m2-10h0m5 9h0m1-8h0m4 9h0m2-10h0m2 10h0m4 0h0m1-11h0m2 10h0m7 0h0m2-10h0m0 11h0m2-11h0m3 10h0m2-10h0m4 10h0m4-9h0m2 10h0m2 0h0m3-9h0m3 9h0m1-11h0m7 11h0m3-10h0m6 9h0m1-9h0m1 9h0m4-8h0m5 9h0m2-10h0m1 9h0m4-9h0m4 10h0m6-11h0m3 11h0m4-9h0m2 8h0m6 0h0m4-10h0m1 0h0m0 11h0m4 0h0m3-10h0m2 10h0m1-9h0m4 8h0m3 0h0m2-7h0m3-2h0m1 9h0m1-10h0m5 11h0m1-6h0m2 6h0m4-16h0m3 15h0m5-10h0m0 10h0m4 0h0m4-8h0m0 9h0m2-9h0m4 9h0m2-9h0m2 8h0m5-14h0m1 15h0m2 0h0m2-11h0m2 10h0m2-9h0m5 9h0m4-10h0m1 10h0m2 0h0m1-8h0m5 8h0m5-8h0m2 0h0m1 9h0m6-11h0m1 11h0m4-11h0m2-1h0m1 11h0m5-10h0m1 10h0m3 0h0m7-11h0m0 12h0m5-1h0m3-11h0m3 1h0m2 11h0m2-12h0m3 11h0m4-9h0m2 9h0m3 0h0m5-8h0m2 8h0m6-10h0m0 10h0m4 0h0m1-12h0m6 13h0m2-5h0m3-5h0m2 10h0m2-13h0m3 12h0m7-10h0m0 11h0m5-9h0m3 9h0m6-12h0m0 12h0m7-13h0m2 13h0m2-12h0m4 12h0m1-8h0m6-12h0m0 19h0m5-13h0m0 14h0m7-9h0m1 9h0m4 0h0m5-10h0m4-2h0m0 12h0m8-1h0m1-4h0m3-5h0m3 10h0m1-12h0m1 12h0m3-9h0m3 9h0m4-10h0m0 10h0m4-1h0m3-10h0m0 11h0m1-11h0m5 11h0m1-10h0m2-1h0m1 11h0m6-1h0m2-7h0m4 8h0m1-10h0m4 9h0m5-8h0m2 9h0m3-12h0m1 11h0m2-10h0m5 0h0m0 11h0m4-10h0m1 10h0m6 0h0m2-3h0m1-14h0m0 17h0m5-1h0m3-10h0m4 10h0m3-8h0m1 9h0m3-1h0m5-9h0m1 10h0m6-1h0m2 0h0m3-8h0m2 8h0m4 0h0m3-13h0m0 14h0m5 0h0m3-9h0m1 8h0m4-8h0m1 9h0m2 0h0m8 0h0m1-11h0m2 11h0m8-11h0m0 10h0m6-9h0m1 9h0m4 1h0m2-9h0m4 9h0m4-10h0m1 9h0m3 1h0m1-10h0m4 10h0m7-9h0m0 8h0m3-7h0m1 8h0m5 0h0m5-9h0m2 9h0m4 0h0m3-12h0m2 11h0m5-8h0m3 9h0m5-10h0m0 9h0m5 1h0m4 0h0m2-10h0m4-1h0m1 10h0m7 1h0m1-10h0m4 0h0m0 10h0m3-9h0m3 8h0m2 1h0m2-8h0m4 8h0m1-10h0m2 10h0m6-13h0m1 13h0m2-3h0m6 3h0m2-10h0m3 1h0m3 9h0m2-9h0m0 9h0m5 0h0m3-9h0m5 0h0m0 8h0m3 1h0m5-1h0m1-8h0m2 9h0m2-10h0m5 9h0m1-8h0m4 9h0m2-10h0m2 10h0m4-11h0m1 11h0m5-11h0m0 10h0m4 0h0m6-8h0m0 9h0m5-10h0m1 9h0m4 1h0m3-12h0m5 3h0m0 9h0m6-1h0m1-11h0m5 12h0m5-11h0m2 11h0m1-10h0m5 9h0m3-8h0m1 9h0m4-9h0m2 8h0m4-10h0m0 10h0m6 1h0m4-9h0m2 9h0m1-9h0m2 9h0m5-1h0m4 1h0m1-12h0m4 11h0m4-12h0m2 12h0m6 0h0m1-8h0m6 8h0m1-10h0m5 11h0m1-9h0m6 9h0m1-7h0m4 7h0m3-12h0m2 11h0m3-11h0m3 12h0m3-10h0m3 9h0m6 0h0m1-8h0m5 0h0m1 9h0m3-1h0m2-8h0m5 8h0m2 1h0m2-16h0m1 10h0m4 6h0m6 0h0m1-10h0m1 0h0m3 9h0m3 0h0m2-9h0m9 9h0m4-12h0m2 13h0m4 0h0m4-9h0m2 9h0m4-7h0m6-2h0m0 9h0m5-9h0m2 9h0m4-11h0m4 10h0m4 0h0m5-12h0m2 3h0m0 10h0m1 0h0m7-8h0m0 7h0m5 1h0m3-13h0m2 13h0m2-3h0m3 2h0m3 1h0m3-12h0m4 11h0m3 0h0m1-19h0m3 12h0m0 7h0m2-19h0m4 20h0m4-10h0m2 10h0m4 0h0m3-9h0m4-1h0m2 10h0m5 0h0m1-10h0m3 9h0m5-9h0m2 10h0m5-1h0m1-12h0m2 12h0m6 1h0m5-8h0m0 8h0m5 0h0m1-7h0m4 6h0m1-8h0m1 9h0m1-8h0m1 3h0m100-4h0m1 7h0m1-8h0m0 9h0m3 1h0m2-15h0m4 15h0m5-11h0m0 11h0m5 0h0m3-11h0m2 11h0m7 0h0m1-10h0m5-1h0m2 10h0m6 0h0m3-10h0m2-6h0m1 17h0m5 0h0m4-11h0m2 11h0m3-1h0m3-8h0m3 0h0m0 8h0m5-6h0m0 6h0m3 0h0m4-9h0m5-3h0m0 13h0m4-10h0m4 10h0m2-9h0m4 0h0m1 9h0m6-1h0m1-8h0m3 8h0m3-10h0m4 11h0m2-11h0m3 11h0m3 0h0m4-13h0m2 12h0m4-11h0m2 12h0m5-33h0m2 24h0m3 0h0m0 9h0m4-9h0m2 8h0m2-9h0m4 10h0m2-12h0m2 11h0m5 0h0m2-10h0m2 10h0m2-9h0m3 9h0m3 1h0m1-13h0m5 13h0m2-10h0m5 10h0m1-10h0m5 9h0m5-9h0m1 10h0m6-9h0m3 8h0m6 1h0m2-9h0m2-1h0m2 10h0m5-9h0m1 8h0m7 1h0m1-12h0m4 12h0m2-13h0m4 0h0m1 12h0m3-9h0m3 9h0m4-10h0m1 11h0m6-10h0m0 10h0m4-9h0m2 9h0m3-9h0m1 9h0m5-11h0m0 11h0m3 0h0m7-1h0m1-9h0m4 9h0m3-8h0m4 9h0m1-9h0m4 8h0m1-10h0m5 10h0m2-11h0m2 11h0m3-8h0m3 9h0m8 0h0m1-12h0m2 12h0m7-1h0m2-10h0m5-3h0m1 14h0m6-8h0m0 8h0m6-1h0m3-9h0m1 9h0m3-9h0m3 10h0m1-10h0m3 9h0m5 0h0m3-9h0m2-1h0m2 10h0m6-9h0m0 9h0m6-9h0m1 9h0m2-9h0m2 10h0m3-10h0m5 9h0m2-6h0m0 6h0m3-19h0m3 20h0m2-1h0m1-9h0m4 9h0m3-9h0m1 10h0m2-9h0m5 8h0m5-8h0m1 9h0m1-9h0m4 9h0m4-11h0m8 11h0m1-10h0m3 10h0m3-9h0m2 9h0m3-9h0m3 9h0m2-1h0m3-9h0m2 9h0m5-9h0m1 9h0m3 1h0m3 0h0m2-8h0m3 7h0m2-13h0m4 13h0m2-9h0m4 9h0m2-10h0m5 11h0m5-12h0m1 11h0m5 1h0m1-10h0m1 9h0m5-9h0m3 10h0m5-1h0m2-10h0m4 10h0m1-9h0m5 10h0m3-3h0m3-10h0m0 13h0m2-35h0m2 35h0m1-11h0m3 10h0m3 0h0m1-8h0m3 0h0m5 9h0m4 0h0m2-10h0m4 9h0m2 0h0m2-11h0m1 0h0m2 12h0m4-9h0m3 9h0m1 0h0m5-7h0m1 7h0m3-8h0m3 8h0m5-9h0m0 9h0m3 0h0m4-11h0m2 10h0m1-10h0m4 10h0m3 0h0m1-11h0m5 12h0m5-10h0m2 9h0m1-8h0m4 0h0m2 9h0m6-10h0m0 10h0m6-1h0m2-11h0m3 11h0m3-10h0m3 10h0m7 0h0m1-10h0m2 0h0m3 10h0m4 0h0m1-7h0m4 8h0m2 0h0m2-14h0m4 14h0m2-10h0m3 0h0m2 10h0m6 0h0m1-8h0m5 8h0m1-10h0m3-1h0m5 11h0m2 0h0m2-12h0m1 11h0m7-9h0m1 10h0m7 0h0m2-11h0m2 11h0m2-10h0m4 9h0m4-11h0m5 12h0m1-11h0m5 2h0m3 8h0m3 0h0m4-9h0m1 10h0m7-1h0m2-13h0m0 14h0m5-11h0m2 11h0m3 0h0m3-9h0m1 8h0m5 0h0m3-9h0m2 10h0m7-1h0m2-11h0m6 3h0m0 9h0m6 0h0m3-10h0m3 10h0m4 0h0m2-21h0m0 14h0m7 7h0m2-9h0m4 9h0m3-10h0m2 10h0m4-11h0m1 10h0m3 1h0m4-13h0m2 12h0m4 0h0m3-11h0m3 12h0m4 0h0m3-9h0m3-1h0m2 10h0m3 0h0m1-10h0m3 0h0m3 10h0m1-1h0m4-8h0m2 9h0m3-9h0m0 8h0m5-8h0m2 8h0m6-8h0m0 8h0m5 1h0m1-9h0m4-1h0m4 10h0m3-9h0m3 9h0m4-12h0m2-3h0m3 15h0m4 0h0m1-12h0m3 2h0m2 9h0m2-8h0m1 8h0m5 0h0m1-9h0m4 0h0m1 10h0m5-1h0m2-9h0m4 10h0m1-11h0m4 11h0m1-10h0m4 9h0m2-9h0m4-1h0m0 11h0m6 0h0m1-9h0m5 9h0m3-11h0m2 11h0m2-11h0m1 11h0m8-10h0m0 10h0m6-10h0m1 9h0m3-9h0m3 9h0m3-10h0m1 11h0m2-10h0m4 10h0m5-1h0m2-12h0m5 1h0m0 11h0m2 0h0m4-4h0m2 5h0m4 0h0m2-11h0m2 10h0m2-16h0m1 17h0m4-13h0m6 13h0m1-10h0m4 10h0m4-10h0m1 10h0m2-10h0m1 9h0m5 0h0m3-8h0m4 9h0m1-9h0m6 0h0m2 9h0m3-9h0m4 8h0m5-9h0m1 10h0m5-1h0m4-9h0m3 10h0m2-11h0m2 10h0m3-9h0m3 9h0m1-9h0m1 1h0m2 9h0m6-8h0m5 8h0m1-12h0m6-21h0m0 33h0m1-15h0m3 11h0m0 3h0m1-22h0m4 23h0m2-10h0m1 9h0m5 0h0m4-9h0m1 0h0m1 10h0m5 0h0m3-11h0m3 11h0m1-12h0m4 11h0m2-12h0m4 12h0m3-9h0m1-13h0m1 22h0m4-10h0m3 11h0m2-8h0m3 8h0m4-8h0m3 8h0m2-10h0m4 9h0m4 0h0m1-12h0m3 5h0m1 8h0m6-14h0m1 14h0m4 0h0m3-11h0m3 10h0m3 0h0m6-11h0m0 11h0m4 1h0m5-11h0m1 11h0m1-12h0m2 11h0m4 0h0m3-9h0m1 9h0m9 0h0m1-10h0m2 0h0m3 11h0m1-10h0m5 10h0m5-11h0m0 10h0m2 1h0m3-10h0m3 10h0m1-10h0m6 9h0m1-12h0m2 2h0m1 10h0m5-8h0m0 8h0m8 1h0m1-10h0m2 10h0m6 0h0m2-10h0m4 0h0m3 9h0m2-12h0m3 13h0m3-10h0m5 9h0m5-11h0m1 11h0m3-10h0m0 11h0m5-1h0m3-8h0m4 9h0m3-11h0m0 11h0m6-11h0m4 10h0m2-9h0m3 4h0m0 6h0m7-13h0m1 13h0m2 0h0m2-10h0m4 9h0m5-8h0m0 8h0m3 0h0m1-9h0m6 10h0m2-9h0m3 9h0m4-10h0m2 9h0m3-11h0m4 11h0m2-10h0m5 1h0m0 10h0m4-12h0m0 12h0m7-1h0m5-9h0m2 9h0m2 1h0m4-1h0m3-9h0m3 10h0m2-10h0m3 10h0m2-12h0m3 0h0m3 3h0m0 9h0m6-10h0m1 10h0m2-9h0m2 8h0m5-8h0m2 8h0m3-10h0m3-2h0m3 13h0m5-9h0m4 8h0m0 1h0m5-8h0m4-1h0m0 9h0m3-9h0m6 8h0m4-10h0m0 10h0m8 1h0m3-9h0m3 8h0m3-9h0m4 1h0m1 8h0m4 0h0m1-8h0m3 9h0m3 0h0m4-9h0m2 0h0m3 9h0m3-9h0m3 0h0m2 8h0m6 0h0m4-8h0m1 8h0m3-11h0m2 12h0m1-12h0m8 11h0m2 0h0m2-10h0m5 10h0m2 1h0m3-12h0m2 12h0m2-1h0m1-9h0m6 10h0m1-1h0m2-8h0m4 8h0m3-9h0m4 9h0m2-8h0m0 8h0m5-9h0m1 9h0m1 0h0m2-8h0m5 0h0m0 9h0m5-1h0m2-24h0m0 15h0m7 10h0m2-10h0m1-1h0m4 11h0m3-10h0m5 10h0m2-10h0m3 10h0m1-9h0m4 8h0m2-9h0m2 10h0m3-10h0m1 0h0m3 10h0m1 0h0m3-11h0m3 11h0m4-11h0m2 11h0m2-10h0m3 9h0m2-8h0m2 9h0m2-10h0m3 10h0m5-12h0m1 12h0m6-1h0m2-9h0m4 10h0m3-9h0m2 9h0m3-1h0m4-9h0m2 0h0m1 9h0m1-4h0m0 4h0" style="stroke:#000000;stroke-width:14.5;stroke-linecap:round;fill:none"/><path d="M890 5024h0m512-31h0m342 21h0m698-6h0m340-28h0m0 34h0m452 10h0m476 0h0m46-26h0m486 21h0m410-5h0m174-34h0m16 44h0m562 0h0m762-42h0m100-7h0m244 49h0" style="stroke:#000000;stroke-width:14.5;stroke-linecap:round;fill:none"/><path d="M2902 4873h0m128 91h0" style="stroke:#ff0000;stroke-width:14.5;stroke-linecap:round;fill:none"/><path d="M878 4797h24l-12 -21zM1390 4797h24l-12 -21zM1732 4797h24l-12 -21zM2224 4797h24l-12 -21zM2430 4797h24l-12 -21zM2464 4797h24l-12 -21zM2772 4797h24l-12 -21zM2890 4797h24l-12 -21zM3018 4797h24l-12 -21zM3218 4797h24l-12 -21zM3698 4797h24l-12 -21zM3744 4797h24l-12 -21zM4230 4797h24l-12 -21zM4640 4797h24l-12 -21zM4814 4797h24l-12 -21zM4832 4797h24l-12 -21zM4942 4797h24l-12 -21zM5396 4797h24l-12 -21zM6154 4797h24l-12 -21zM6254 4797h24l-12 -21zM6494 4797h24l-12 -21zM4522 4797h24l-12 -21zM4527 4797h24l-12 -21zM4532 4797h24l-12 -21zM4537 4797h24l-12 -21zM4542 4797h24l-12 -21zM4547 4797h24l-12 -21zM4552 4797h24l-12 -21zM4557 4797h24l-12 -21zM4562 4797h24l-12 -21zM4567 4797h24l-12 -21zM4572 4797h24l-12 -21zM4577 4797h24l-12 -21zM4582 4797h24l-12 -21zM4587 4797h24l-12 -21zM4592 4797h24l-12 -21zM4597 4797h24l-12 -21zM4602 4797h24l-12 -21zM4607 4797h24l-12 -21zM4612 4797h24l-12 -21zM4617 4797h24l-12 -21zM4622 4797h24l-12 -21zM4627 4797h24l-12 -21zM4640 4797h24l-12 -21zM4656 4797h24l-12 -21zM2768 4797h24l-12 -21zM3221 4797h24l-12 -21z" fill="#ff0000"/></g></g>
<g id="matplotlib.axis_7">
<g id="xtick_22">
<g id="line2d_59">
<g>
<use href="#m1504cfccaf" x="117.0000" y="728.28" style="stroke: #000000; stroke-width: 0.8"/>
</g>
</g>
<g id="text_51">
<text style="font-size: 10px; font-family: 'DejaVu Sans', 'Liberation Sans', sans-serif; text-anchor: middle" x="116.64" y="742.878438" transform="rotate(-0 116.64 742.878438)">0</text>
</g>
</g>
<g id="xtick_23">
<g id="line2d_60">
<g>
<use href="#m1504cfccaf" x="257.4000" y="728.28" style="stroke: #000000; stroke-width: 0.8"/>
</g>
</g>
<g id="text_52">
<text style="font-size: 10px; font-family: 'DejaVu Sans', 'Liberation Sans', sans-serif; text-anchor: middle" x="256.92" y="742.878438" transform="rotate(-0 256.92 742.878438)">5000</text>
</g>
</g>
<g id="xtick_24">
<g id="line2d_61">
<g>
<use href="#m1504cfccaf" x="397.8000" y="728.28" style="stroke: #000000; stroke-width: 0.8"/>
</g>
</g>
<g id="text_53">
<text style="font-size: 10px; font-family: 'DejaVu Sans', 'Liberation Sans', sans-serif; text-anchor: middle" x="397.2" y="742.878438" transform="rotate(-0 397.2 742.878438)">10000</text>
</g>
</g>
<g id="xtick_25">
<g id="line2d_62">
<g>
<use href="#m1504cfccaf" x="538.2000" y="728.28" style="stroke: #000000; stroke-width: 0.8"/>
</g>
</g>
<g id="text_54">
<text style="font-size: 10px; font-family: 'DejaVu Sans', 'Liberation Sans', sans-serif; text-anchor: middle" x="537.48" y="742.878438" transform="rotate(-0 537.48 742.878438)">15000</text>
</g>
</g>
<g id="xtick_26">
<g id="line2d_63">
<g>
<use href="#m1504cfccaf" x="677.8800" y="728.28" style="stroke: #000000; stroke-width: 0.8"/>
</g>
</g>
<g id="text_55">
<text style="font-size: 10px; font-family: 'DejaVu Sans', 'Liberation Sans', sans-serif; text-anchor: middle" x="677.76" y="742.878438" transform="rotate(-0 677.76 742.878438)">20000</text>
</g>
</g>
<g id="xtick_27">
<g id="line2d_64">
<g>
<use href="#m1504cfccaf" x="818.2800" y="728.28" style="stroke: #000000; stroke-width: 0.8"/>
</g>
</g>
<g id="text_56">
<text style="font-size: 10px; font-family: 'DejaVu Sans', 'Liberation Sans', sans-serif; text-anchor: middle" x="818.04" y="742.878438" transform="rotate(-0 818.04 742.878438)">25000</text>
</g>
</g>
<g id="xtick_28">
<g id="line2d_65">
<g>
<use href="#m1504cfccaf" x="958.6800" y="728.28" style="stroke: #000000; stroke-width: 0.8"/>
</g>
</g>
<g id="text_57">
<text style="font-size: 10px; font-family: 'DejaVu Sans', 'Liberation Sans', sans-serif; text-anchor: middle" x="958.32" y="742.878438" transform="rotate(-0 958.32 742.878438)">30000</text>
</g>
</g>
</g>
<g id="matplotlib.axis_8">
<g id="ytick_23">
<g id="line2d_66">
<path d="M 75.96 726.8400
L 1069.56 726.8400
" clip-path="url(#pdc79cbee4a)" style="fill: none; stroke-dasharray: 0.8,1.32; stroke-dashoffset: 0; stroke: #b0b0b0; stroke-width: 0.8"/>
</g>
<g id="line2d_67">
<g>
<use href="#m5d545ce8f8" x="75.96" y="726.8400" style="stroke: #000000; stroke-width: 0.8"/>
</g>
</g>
<g id="text_58">
<text style="font-size: 10px; font-family: 'DejaVu Sans', 'Liberation Sans', sans-serif; text-anchor: end" x="68.960" y="730.423" transform="rotate(-0 68.960 730.423)">0</text>
</g>
</g>
<g id="ytick_24">
<g id="line2d_68">
<path d="M 75.96 708.1200
L 1069.56 708.1200
" clip-path="url(#pdc79cbee4a)" style="fill: none; stroke-dasharray: 0.8,1.32; stroke-dashoffset: 0; stroke: #b0b0b0; stroke-width: 0.8"/>
</g>
<g id="line2d_69">
<g>
<use href="#m5d545ce8f8" x="75.96" y="708.1200" style="stroke: #000000; stroke-width: 0.8"/>
</g>
</g>
<g id="text_59">
<text style="font-size: 10px; font-family: 'DejaVu Sans', 'Liberation Sans', sans-serif; text-anchor: end" x="68.960" y="711.703" transform="rotate(-0 68.960 711.703)">5</text>
</g>
</g>
<g id="ytick_25">
<g id="line2d_70">
<path d="M 75.96 689.4000
L 1069.56 689.4000
" clip-path="url(#pdc79cbee4a)" style="fill: none; stroke-dasharray: 0.8,1.32; stroke-dashoffset: 0; stroke: #b0b0b0; stroke-width: 0.8"/>
</g>
<g id="line2d_71">
<g>
<use href="#m5d545ce8f8" x="75.96" y="689.4000" style="stroke: #000000; stroke-width: 0.8"/>
</g>
</g>
<g id="text_60">
<text style="font-size: 10px; font-family: 'DejaVu Sans', 'Liberation Sans', sans-serif; text-anchor: end" x="68.960" y="692.983" transform="rotate(-0 68.960 692.983)">10</text>
</g>
</g>
<g id="ytick_26">
<g id="line2d_72">
<defs>
<path id="mc3d89a154a" d="M 0 0
L -2 0
" style="stroke: #000000; stroke-width: 0.6"/>
</defs>
<g>
<use href="#mc3d89a154a" x="75.96" y="717.4800" style="stroke: #000000; stroke-width: 0.6"/>
</g>
</g>
</g>
<g id="ytick_27">
<g id="line2d_73">
<g>
<use href="#mc3d89a154a" x="75.96" y="698.7600" style="stroke: #000000; stroke-width: 0.6"/>
</g>
</g>
</g>
<g id="text_61">
<text style="font-size: 10px; font-family: 'DejaVu Sans', 'Liberation Sans', sans-serif; text-anchor: middle" x="49.435" y="708.552" transform="rotate(-90 49.435 708.552)">dr</text>
</g>
</g>
<g id="patch_22">
<path d="M 75.96 728.28
L 75.96 687.24
" style="fill: none; stroke: #000000; stroke-width: 0.8; stroke-linejoin: miter; stroke-linecap: square"/>
</g>
<g id="patch_23">
<path d="M 1069.56 728.28
L 1069.56 687.24
" style="fill: none; stroke: #000000; stroke-width: 0.8; stroke-linejoin: miter; stroke-linecap: square"/>
</g>
<g id="patch_24">
<path d="M 75.96 728.28
L 1069.56 728.28
" style="fill: none; stroke: #000000; stroke-width: 0.8; stroke-linejoin: miter; stroke-linecap: square"/>
</g>
<g id="patch_25">
<path d="M 75.96 687.24
L 1069.56 687.24
" style="fill: none; stroke: #000000; stroke-width: 0.8; stroke-linejoin: miter; stroke-linecap: square"/>
</g>
<g id="line2d_74">
<path d="M 116.6400 728.28
L 116.6400 687.24
" clip-path="url(#pdc79cbee4a)" style="fill: none; stroke-dasharray: 1.5,2.475; stroke-dashoffset: 0; stroke: #800080; stroke-width: 1.5"/>
</g>
<g id="line2d_75">
<path d="M 671.7600 728.28
L 671.7600 687.24
" clip-path="url(#pdc79cbee4a)" style="fill: none; stroke-dasharray: 1.5,2.475; stroke-dashoffset: 0; stroke: #800080; stroke-width: 1.5"/>
</g>
<g id="line2d_76">
<path d="M 938.1600 728.28
L 938.1600 687.24
" clip-path="url(#pdc79cbee4a)" style="fill: none; stroke-dasharray: 1.5,2.475; stroke-dashoffset: 0; stroke: #800080; stroke-width: 1.5"/>
</g>
</g>
</g>
<defs>
<clipPath id="p38504ecff0">
<rect x="75.96" y="25.56" width="993.6" height="205.92"/>
</clipPath>
<clipPath id="p513e1b9102">
<rect x="75.96" y="273.96" width="993.6" height="205.92"/>
</clipPath>
<clipPath id="p5109add521">
<rect x="75.96" y="522.36" width="993.6" height="164.88"/>
</clipPath>
<clipPath id="pdc79cbee4a">
<rect x="75.96" y="687.24" width="993.6" height="41.04"/>
</clipPath>
</defs>
</svg>
</body></html>
